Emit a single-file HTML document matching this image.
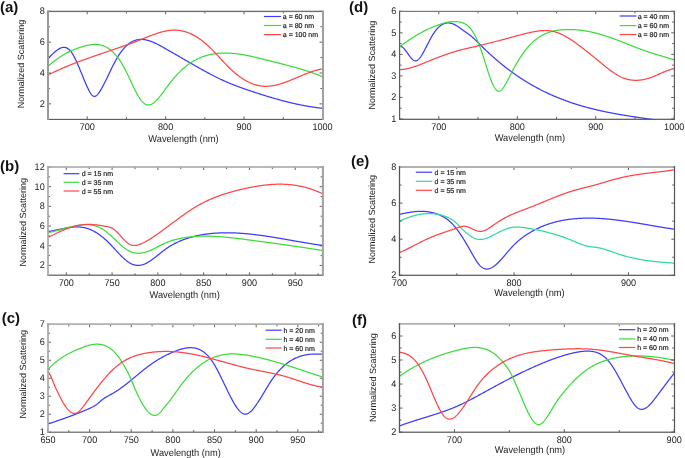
<!DOCTYPE html><html><head><meta charset="utf-8"><style>html,body{margin:0;padding:0;background:#fff;}svg{display:block;}text{font-family:"Liberation Sans", sans-serif;text-rendering:geometricPrecision;}</style></head><body>
<svg width="685" height="458" viewBox="0 0 685 458" style="will-change:transform">
<rect width="685" height="458" fill="#fff"/>
<g><clipPath id="ca"><rect x="48.00" y="10.30" width="274.50" height="109.50"/></clipPath><path d="M48.00 58.42 48.50 57.95 49.00 57.47 49.50 56.98 50.00 56.50 50.50 56.01 51.00 55.52 51.50 55.04 52.00 54.56 52.50 54.08 53.00 53.61 53.50 53.14 54.00 52.68 54.50 52.24 55.00 51.80 55.50 51.38 56.00 50.97 56.50 50.57 57.00 50.19 57.50 49.83 58.00 49.49 58.50 49.17 59.00 48.87 59.50 48.59 60.00 48.34 60.50 48.11 61.00 47.91 61.50 47.74 62.00 47.60 62.50 47.49 63.00 47.41 63.50 47.37 64.00 47.36 64.50 47.39 65.00 47.45 65.50 47.56 66.00 47.70 66.50 47.89 67.00 48.12 67.50 48.39 68.00 48.71 68.50 49.08 69.00 49.50 69.50 49.96 70.00 50.48 70.50 51.05 71.00 51.67 71.50 52.35 72.00 53.08 72.50 53.86 73.00 54.68 73.50 55.55 74.00 56.46 74.50 57.41 75.00 58.40 75.50 59.42 76.00 60.47 76.50 61.55 77.00 62.65 77.50 63.78 78.00 64.93 78.50 66.10 79.00 67.29 79.50 68.48 80.00 69.69 80.50 70.91 81.00 72.13 81.50 73.36 82.00 74.58 82.50 75.81 83.00 77.03 83.50 78.25 84.00 79.46 84.50 80.66 85.00 81.85 85.50 83.02 86.00 84.18 86.50 85.32 87.00 86.43 87.50 87.52 88.00 88.58 88.50 89.60 89.00 90.58 89.50 91.50 90.00 92.37 90.50 93.17 91.00 93.89 91.50 94.54 92.00 95.11 92.50 95.58 93.00 95.96 93.50 96.23 94.00 96.39 94.50 96.43 95.00 96.36 95.50 96.18 96.00 95.91 96.50 95.54 97.00 95.10 97.50 94.58 98.00 93.99 98.50 93.35 99.00 92.66 99.50 91.93 100.00 91.16 100.50 90.36 101.00 89.53 101.50 88.67 102.00 87.78 102.50 86.87 103.00 85.93 103.50 84.98 104.00 84.01 104.50 83.02 105.00 82.02 105.50 81.02 106.00 80.00 106.50 78.97 107.00 77.94 107.50 76.91 108.00 75.87 108.50 74.82 109.00 73.78 109.50 72.74 110.00 71.70 110.50 70.66 111.00 69.63 111.50 68.60 112.00 67.59 112.50 66.58 113.00 65.58 113.50 64.60 114.00 63.63 114.50 62.67 115.00 61.73 115.50 60.81 116.00 59.90 116.50 59.02 117.00 58.16 117.50 57.32 118.00 56.50 118.50 55.70 119.00 54.92 119.50 54.16 120.00 53.42 120.50 52.71 121.00 52.01 121.50 51.33 122.00 50.68 122.50 50.04 123.00 49.43 123.50 48.83 124.00 48.26 124.50 47.70 125.00 47.17 125.50 46.65 126.00 46.16 126.50 45.69 127.00 45.23 127.50 44.80 128.00 44.38 128.50 43.98 129.00 43.61 129.50 43.24 130.00 42.90 130.50 42.58 131.00 42.27 131.50 41.98 132.00 41.71 132.50 41.45 133.00 41.21 133.50 40.99 134.00 40.78 134.50 40.59 135.00 40.41 135.50 40.25 136.00 40.11 136.50 39.97 137.00 39.86 137.50 39.76 138.00 39.67 138.50 39.59 139.00 39.53 139.50 39.48 140.00 39.44 140.50 39.42 141.00 39.41 141.50 39.41 142.00 39.42 142.50 39.45 143.00 39.49 143.50 39.53 144.00 39.59 144.50 39.66 145.00 39.74 145.50 39.83 146.00 39.93 146.50 40.03 147.00 40.15 147.50 40.28 148.00 40.41 148.50 40.56 149.00 40.71 149.50 40.87 150.00 41.04 150.50 41.21 151.00 41.40 151.50 41.58 152.00 41.78 152.50 41.98 153.00 42.19 153.50 42.41 154.00 42.63 154.50 42.85 155.00 43.08 155.50 43.32 156.00 43.56 156.50 43.81 157.00 44.05 157.50 44.31 158.00 44.56 158.50 44.82 159.00 45.09 159.50 45.35 160.00 45.62 160.50 45.89 161.00 46.17 161.50 46.44 162.00 46.72 162.50 46.99 163.00 47.27 163.50 47.55 164.00 47.83 164.50 48.11 165.00 48.39 165.50 48.68 166.00 48.96 166.50 49.24 167.00 49.52 167.50 49.81 168.00 50.09 168.50 50.37 169.00 50.66 169.50 50.94 170.00 51.23 170.50 51.51 171.00 51.80 171.50 52.09 172.00 52.37 172.50 52.66 173.00 52.95 173.50 53.23 174.00 53.52 174.50 53.81 175.00 54.10 175.50 54.39 176.00 54.67 176.50 54.96 177.00 55.25 177.50 55.54 178.00 55.83 178.50 56.12 179.00 56.41 179.50 56.70 180.00 56.99 180.50 57.28 181.00 57.57 181.50 57.86 182.00 58.15 182.50 58.44 183.00 58.73 183.50 59.02 184.00 59.31 184.50 59.59 185.00 59.88 185.50 60.17 186.00 60.46 186.50 60.75 187.00 61.04 187.50 61.33 188.00 61.62 188.50 61.91 189.00 62.20 189.50 62.49 190.00 62.77 190.50 63.06 191.00 63.35 191.50 63.64 192.00 63.92 192.50 64.21 193.00 64.50 193.50 64.78 194.00 65.07 194.50 65.36 195.00 65.64 195.50 65.93 196.00 66.21 196.50 66.49 197.00 66.78 197.50 67.06 198.00 67.35 198.50 67.63 199.00 67.91 199.50 68.19 200.00 68.47 200.50 68.75 201.00 69.03 201.50 69.31 202.00 69.59 202.50 69.87 203.00 70.15 203.50 70.42 204.00 70.70 204.50 70.97 205.00 71.25 205.50 71.52 206.00 71.80 206.50 72.07 207.00 72.34 207.50 72.61 208.00 72.88 208.50 73.15 209.00 73.41 209.50 73.68 210.00 73.94 210.50 74.21 211.00 74.47 211.50 74.73 212.00 74.99 212.50 75.25 213.00 75.51 213.50 75.77 214.00 76.02 214.50 76.28 215.00 76.53 215.50 76.78 216.00 77.03 216.50 77.28 217.00 77.53 217.50 77.77 218.00 78.01 218.50 78.26 219.00 78.50 219.50 78.74 220.00 78.98 220.50 79.21 221.00 79.45 221.50 79.68 222.00 79.91 222.50 80.14 223.00 80.37 223.50 80.59 224.00 80.82 224.50 81.04 225.00 81.26 225.50 81.48 226.00 81.70 226.50 81.92 227.00 82.13 227.50 82.35 228.00 82.56 228.50 82.77 229.00 82.98 229.50 83.19 230.00 83.39 230.50 83.60 231.00 83.80 231.50 84.01 232.00 84.21 232.50 84.41 233.00 84.61 233.50 84.80 234.00 85.00 234.50 85.20 235.00 85.39 235.50 85.58 236.00 85.78 236.50 85.97 237.00 86.16 237.50 86.34 238.00 86.53 238.50 86.72 239.00 86.90 239.50 87.09 240.00 87.27 240.50 87.46 241.00 87.64 241.50 87.82 242.00 88.00 242.50 88.18 243.00 88.35 243.50 88.53 244.00 88.71 244.50 88.88 245.00 89.06 245.50 89.23 246.00 89.41 246.50 89.58 247.00 89.75 247.50 89.92 248.00 90.10 248.50 90.27 249.00 90.44 249.50 90.60 250.00 90.77 250.50 90.94 251.00 91.11 251.50 91.28 252.00 91.44 252.50 91.61 253.00 91.77 253.50 91.94 254.00 92.10 254.50 92.27 255.00 92.43 255.50 92.59 256.00 92.76 256.50 92.92 257.00 93.08 257.50 93.25 258.00 93.41 258.50 93.57 259.00 93.73 259.50 93.89 260.00 94.05 260.50 94.21 261.00 94.37 261.50 94.52 262.00 94.68 262.50 94.84 263.00 95.00 263.50 95.15 264.00 95.31 264.50 95.46 265.00 95.62 265.50 95.77 266.00 95.93 266.50 96.08 267.00 96.23 267.50 96.39 268.00 96.54 268.50 96.69 269.00 96.84 269.50 96.99 270.00 97.14 270.50 97.29 271.00 97.43 271.50 97.58 272.00 97.73 272.50 97.88 273.00 98.02 273.50 98.17 274.00 98.31 274.50 98.45 275.00 98.60 275.50 98.74 276.00 98.88 276.50 99.02 277.00 99.16 277.50 99.30 278.00 99.44 278.50 99.58 279.00 99.72 279.50 99.86 280.00 99.99 280.50 100.13 281.00 100.26 281.50 100.40 282.00 100.53 282.50 100.66 283.00 100.80 283.50 100.93 284.00 101.06 284.50 101.19 285.00 101.32 285.50 101.44 286.00 101.57 286.50 101.70 287.00 101.82 287.50 101.95 288.00 102.07 288.50 102.20 289.00 102.32 289.50 102.44 290.00 102.56 290.50 102.68 291.00 102.80 291.50 102.92 292.00 103.04 292.50 103.15 293.00 103.27 293.50 103.38 294.00 103.50 294.50 103.61 295.00 103.72 295.50 103.83 296.00 103.94 296.50 104.05 297.00 104.16 297.50 104.27 298.00 104.38 298.50 104.48 299.00 104.59 299.50 104.69 300.00 104.79 300.50 104.89 301.00 105.00 301.50 105.10 302.00 105.19 302.50 105.29 303.00 105.39 303.50 105.48 304.00 105.58 304.50 105.67 305.00 105.77 305.50 105.86 306.00 105.95 306.50 106.04 307.00 106.13 307.50 106.21 308.00 106.30 308.50 106.39 309.00 106.47 309.50 106.55 310.00 106.64 310.50 106.72 311.00 106.80 311.50 106.88 312.00 106.95 312.50 107.03 313.00 107.10 313.50 107.18 314.00 107.25 314.50 107.32 315.00 107.40 315.50 107.46 316.00 107.53 316.50 107.60 317.00 107.67 317.50 107.73 318.00 107.80 318.50 107.86 319.00 107.92 319.50 107.98 320.00 108.04 320.50 108.10 321.00 108.15 321.50 108.21 322.00 108.26 322.50 108.31 322.80 108.35" fill="none" stroke="#3c3cff" stroke-width="1.25" stroke-linejoin="round" clip-path="url(#ca)"/><path d="M48.00 66.36 48.50 65.91 49.00 65.46 49.50 65.02 50.00 64.58 50.50 64.15 51.00 63.72 51.50 63.30 52.00 62.89 52.50 62.48 53.00 62.08 53.50 61.68 54.00 61.29 54.50 60.90 55.00 60.52 55.50 60.15 56.00 59.78 56.50 59.41 57.00 59.05 57.50 58.70 58.00 58.35 58.50 58.00 59.00 57.67 59.50 57.33 60.00 57.00 60.50 56.68 61.00 56.36 61.50 56.04 62.00 55.73 62.50 55.43 63.00 55.13 63.50 54.83 64.00 54.54 64.50 54.26 65.00 53.97 65.50 53.70 66.00 53.42 66.50 53.15 67.00 52.89 67.50 52.63 68.00 52.37 68.50 52.12 69.00 51.88 69.50 51.63 70.00 51.39 70.50 51.16 71.00 50.93 71.50 50.70 72.00 50.48 72.50 50.26 73.00 50.04 73.50 49.83 74.00 49.62 74.50 49.42 75.00 49.22 75.50 49.02 76.00 48.83 76.50 48.64 77.00 48.46 77.50 48.27 78.00 48.09 78.50 47.92 79.00 47.75 79.50 47.58 80.00 47.41 80.50 47.25 81.00 47.09 81.50 46.93 82.00 46.78 82.50 46.63 83.00 46.48 83.50 46.34 84.00 46.20 84.50 46.06 85.00 45.93 85.50 45.80 86.00 45.67 86.50 45.55 87.00 45.43 87.50 45.32 88.00 45.22 88.50 45.12 89.00 45.02 89.50 44.93 90.00 44.85 90.50 44.77 91.00 44.70 91.50 44.64 92.00 44.59 92.50 44.54 93.00 44.50 93.50 44.47 94.00 44.44 94.50 44.43 95.00 44.42 95.50 44.42 96.00 44.43 96.50 44.45 97.00 44.49 97.50 44.53 98.00 44.58 98.50 44.64 99.00 44.71 99.50 44.79 100.00 44.89 100.50 44.99 101.00 45.11 101.50 45.24 102.00 45.38 102.50 45.54 103.00 45.70 103.50 45.88 104.00 46.08 104.50 46.28 105.00 46.51 105.50 46.74 106.00 46.99 106.50 47.25 107.00 47.53 107.50 47.82 108.00 48.13 108.50 48.46 109.00 48.80 109.50 49.15 110.00 49.52 110.50 49.91 111.00 50.32 111.50 50.74 112.00 51.18 112.50 51.63 113.00 52.11 113.50 52.60 114.00 53.11 114.50 53.63 115.00 54.18 115.50 54.74 116.00 55.33 116.50 55.93 117.00 56.55 117.50 57.19 118.00 57.85 118.50 58.53 119.00 59.23 119.50 59.96 120.00 60.70 120.50 61.46 121.00 62.24 121.50 63.05 122.00 63.88 122.50 64.73 123.00 65.60 123.50 66.49 124.00 67.40 124.50 68.33 125.00 69.27 125.50 70.24 126.00 71.22 126.50 72.21 127.00 73.23 127.50 74.25 128.00 75.29 128.50 76.34 129.00 77.40 129.50 78.46 130.00 79.54 130.50 80.62 131.00 81.69 131.50 82.77 132.00 83.85 132.50 84.91 133.00 85.97 133.50 87.02 134.00 88.06 134.50 89.08 135.00 90.08 135.50 91.07 136.00 92.03 136.50 92.97 137.00 93.89 137.50 94.78 138.00 95.64 138.50 96.48 139.00 97.28 139.50 98.05 140.00 98.79 140.50 99.49 141.00 100.16 141.50 100.79 142.00 101.37 142.50 101.92 143.00 102.42 143.50 102.88 144.00 103.29 144.50 103.65 145.00 103.97 145.50 104.24 146.00 104.46 146.50 104.64 147.00 104.78 147.50 104.87 148.00 104.92 148.50 104.93 149.00 104.91 149.50 104.84 150.00 104.73 150.50 104.59 151.00 104.41 151.50 104.20 152.00 103.95 152.50 103.67 153.00 103.36 153.50 103.02 154.00 102.65 154.50 102.25 155.00 101.82 155.50 101.37 156.00 100.89 156.50 100.39 157.00 99.87 157.50 99.32 158.00 98.76 158.50 98.18 159.00 97.59 159.50 96.97 160.00 96.35 160.50 95.71 161.00 95.06 161.50 94.40 162.00 93.73 162.50 93.06 163.00 92.38 163.50 91.69 164.00 91.00 164.50 90.31 165.00 89.61 165.50 88.92 166.00 88.23 166.50 87.54 167.00 86.86 167.50 86.18 168.00 85.51 168.50 84.84 169.00 84.18 169.50 83.53 170.00 82.89 170.50 82.26 171.00 81.63 171.50 81.01 172.00 80.39 172.50 79.78 173.00 79.19 173.50 78.59 174.00 78.01 174.50 77.43 175.00 76.86 175.50 76.30 176.00 75.74 176.50 75.20 177.00 74.66 177.50 74.13 178.00 73.60 178.50 73.08 179.00 72.57 179.50 72.07 180.00 71.58 180.50 71.09 181.00 70.61 181.50 70.14 182.00 69.68 182.50 69.22 183.00 68.78 183.50 68.34 184.00 67.91 184.50 67.48 185.00 67.07 185.50 66.66 186.00 66.26 186.50 65.86 187.00 65.48 187.50 65.10 188.00 64.72 188.50 64.36 189.00 64.00 189.50 63.65 190.00 63.31 190.50 62.97 191.00 62.64 191.50 62.32 192.00 62.00 192.50 61.69 193.00 61.39 193.50 61.10 194.00 60.81 194.50 60.52 195.00 60.25 195.50 59.98 196.00 59.71 196.50 59.45 197.00 59.20 197.50 58.96 198.00 58.72 198.50 58.48 199.00 58.26 199.50 58.03 200.00 57.82 200.50 57.61 201.00 57.40 201.50 57.20 202.00 57.01 202.50 56.82 203.00 56.64 203.50 56.46 204.00 56.29 204.50 56.12 205.00 55.96 205.50 55.80 206.00 55.65 206.50 55.50 207.00 55.36 207.50 55.22 208.00 55.09 208.50 54.96 209.00 54.84 209.50 54.72 210.00 54.61 210.50 54.50 211.00 54.39 211.50 54.29 212.00 54.19 212.50 54.10 213.00 54.01 213.50 53.93 214.00 53.85 214.50 53.77 215.00 53.70 215.50 53.63 216.00 53.57 216.50 53.50 217.00 53.45 217.50 53.39 218.00 53.34 218.50 53.30 219.00 53.26 219.50 53.22 220.00 53.18 220.50 53.15 221.00 53.12 221.50 53.10 222.00 53.07 222.50 53.06 223.00 53.04 223.50 53.03 224.00 53.02 224.50 53.01 225.00 53.01 225.50 53.01 226.00 53.02 226.50 53.03 227.00 53.04 227.50 53.05 228.00 53.06 228.50 53.08 229.00 53.11 229.50 53.13 230.00 53.16 230.50 53.19 231.00 53.22 231.50 53.26 232.00 53.29 232.50 53.33 233.00 53.38 233.50 53.42 234.00 53.47 234.50 53.52 235.00 53.58 235.50 53.63 236.00 53.69 236.50 53.75 237.00 53.81 237.50 53.87 238.00 53.94 238.50 54.01 239.00 54.08 239.50 54.15 240.00 54.23 240.50 54.31 241.00 54.38 241.50 54.47 242.00 54.55 242.50 54.63 243.00 54.72 243.50 54.81 244.00 54.90 244.50 54.99 245.00 55.08 245.50 55.17 246.00 55.27 246.50 55.37 247.00 55.47 247.50 55.57 248.00 55.67 248.50 55.77 249.00 55.88 249.50 55.98 250.00 56.09 250.50 56.20 251.00 56.31 251.50 56.42 252.00 56.53 252.50 56.64 253.00 56.76 253.50 56.87 254.00 56.99 254.50 57.11 255.00 57.22 255.50 57.34 256.00 57.46 256.50 57.58 257.00 57.70 257.50 57.82 258.00 57.94 258.50 58.07 259.00 58.19 259.50 58.31 260.00 58.44 260.50 58.56 261.00 58.69 261.50 58.81 262.00 58.94 262.50 59.07 263.00 59.19 263.50 59.32 264.00 59.44 264.50 59.57 265.00 59.70 265.50 59.83 266.00 59.95 266.50 60.08 267.00 60.21 267.50 60.33 268.00 60.46 268.50 60.59 269.00 60.71 269.50 60.84 270.00 60.96 270.50 61.09 271.00 61.22 271.50 61.34 272.00 61.47 272.50 61.59 273.00 61.72 273.50 61.84 274.00 61.97 274.50 62.09 275.00 62.21 275.50 62.34 276.00 62.46 276.50 62.59 277.00 62.71 277.50 62.84 278.00 62.96 278.50 63.09 279.00 63.21 279.50 63.34 280.00 63.46 280.50 63.59 281.00 63.71 281.50 63.84 282.00 63.96 282.50 64.09 283.00 64.22 283.50 64.34 284.00 64.47 284.50 64.60 285.00 64.72 285.50 64.85 286.00 64.98 286.50 65.11 287.00 65.24 287.50 65.37 288.00 65.50 288.50 65.63 289.00 65.76 289.50 65.89 290.00 66.02 290.50 66.16 291.00 66.29 291.50 66.42 292.00 66.56 292.50 66.69 293.00 66.83 293.50 66.97 294.00 67.10 294.50 67.24 295.00 67.38 295.50 67.52 296.00 67.66 296.50 67.80 297.00 67.94 297.50 68.09 298.00 68.23 298.50 68.38 299.00 68.52 299.50 68.67 300.00 68.82 300.50 68.96 301.00 69.11 301.50 69.26 302.00 69.42 302.50 69.57 303.00 69.72 303.50 69.88 304.00 70.03 304.50 70.19 305.00 70.35 305.50 70.51 306.00 70.67 306.50 70.83 307.00 70.99 307.50 71.16 308.00 71.32 308.50 71.49 309.00 71.66 309.50 71.82 310.00 72.00 310.50 72.17 311.00 72.34 311.50 72.52 312.00 72.69 312.50 72.87 313.00 73.05 313.50 73.23 314.00 73.41 314.50 73.60 315.00 73.78 315.50 73.97 316.00 74.16 316.50 74.35 317.00 74.54 317.50 74.73 318.00 74.93 318.50 75.12 319.00 75.32 319.50 75.52 320.00 75.72 320.50 75.93 321.00 76.13 321.50 76.34 322.00 76.55 322.50 76.76 322.80 76.89" fill="none" stroke="#3ddc3d" stroke-width="1.25" stroke-linejoin="round" clip-path="url(#ca)"/><path d="M48.00 74.99 48.50 74.74 49.00 74.49 49.50 74.24 50.00 73.99 50.50 73.74 51.00 73.49 51.50 73.25 52.00 73.01 52.50 72.76 53.00 72.52 53.50 72.28 54.00 72.05 54.50 71.81 55.00 71.57 55.50 71.34 56.00 71.11 56.50 70.88 57.00 70.65 57.50 70.42 58.00 70.19 58.50 69.96 59.00 69.74 59.50 69.51 60.00 69.29 60.50 69.07 61.00 68.85 61.50 68.63 62.00 68.41 62.50 68.19 63.00 67.98 63.50 67.76 64.00 67.55 64.50 67.33 65.00 67.12 65.50 66.91 66.00 66.70 66.50 66.49 67.00 66.28 67.50 66.08 68.00 65.87 68.50 65.67 69.00 65.46 69.50 65.26 70.00 65.06 70.50 64.86 71.00 64.65 71.50 64.46 72.00 64.26 72.50 64.06 73.00 63.86 73.50 63.67 74.00 63.47 74.50 63.28 75.00 63.08 75.50 62.89 76.00 62.70 76.50 62.51 77.00 62.31 77.50 62.12 78.00 61.94 78.50 61.75 79.00 61.56 79.50 61.37 80.00 61.18 80.50 61.00 81.00 60.81 81.50 60.63 82.00 60.45 82.50 60.26 83.00 60.08 83.50 59.90 84.00 59.72 84.50 59.53 85.00 59.35 85.50 59.17 86.00 58.99 86.50 58.82 87.00 58.64 87.50 58.46 88.00 58.28 88.50 58.10 89.00 57.93 89.50 57.75 90.00 57.58 90.50 57.40 91.00 57.22 91.50 57.05 92.00 56.88 92.50 56.70 93.00 56.53 93.50 56.35 94.00 56.18 94.50 56.01 95.00 55.84 95.50 55.66 96.00 55.49 96.50 55.32 97.00 55.15 97.50 54.98 98.00 54.81 98.50 54.64 99.00 54.47 99.50 54.30 100.00 54.13 100.50 53.96 101.00 53.79 101.50 53.62 102.00 53.45 102.50 53.28 103.00 53.11 103.50 52.94 104.00 52.77 104.50 52.60 105.00 52.43 105.50 52.26 106.00 52.09 106.50 51.92 107.00 51.75 107.50 51.59 108.00 51.42 108.50 51.25 109.00 51.08 109.50 50.91 110.00 50.74 110.50 50.57 111.00 50.40 111.50 50.23 112.00 50.06 112.50 49.89 113.00 49.72 113.50 49.55 114.00 49.38 114.50 49.21 115.00 49.04 115.50 48.87 116.00 48.69 116.50 48.52 117.00 48.35 117.50 48.18 118.00 48.01 118.50 47.83 119.00 47.66 119.50 47.49 120.00 47.31 120.50 47.14 121.00 46.96 121.50 46.79 122.00 46.61 122.50 46.44 123.00 46.26 123.50 46.08 124.00 45.91 124.50 45.73 125.00 45.55 125.50 45.37 126.00 45.19 126.50 45.02 127.00 44.84 127.50 44.65 128.00 44.47 128.50 44.29 129.00 44.11 129.50 43.93 130.00 43.74 130.50 43.56 131.00 43.38 131.50 43.19 132.00 43.01 132.50 42.82 133.00 42.63 133.50 42.44 134.00 42.26 134.50 42.07 135.00 41.88 135.50 41.69 136.00 41.50 136.50 41.30 137.00 41.11 137.50 40.92 138.00 40.72 138.50 40.53 139.00 40.33 139.50 40.13 140.00 39.94 140.50 39.74 141.00 39.54 141.50 39.34 142.00 39.14 142.50 38.94 143.00 38.73 143.50 38.53 144.00 38.33 144.50 38.13 145.00 37.93 145.50 37.72 146.00 37.52 146.50 37.32 147.00 37.12 147.50 36.92 148.00 36.72 148.50 36.52 149.00 36.32 149.50 36.12 150.00 35.93 150.50 35.73 151.00 35.54 151.50 35.35 152.00 35.16 152.50 34.97 153.00 34.78 153.50 34.60 154.00 34.42 154.50 34.24 155.00 34.06 155.50 33.88 156.00 33.71 156.50 33.54 157.00 33.37 157.50 33.21 158.00 33.05 158.50 32.89 159.00 32.73 159.50 32.58 160.00 32.43 160.50 32.29 161.00 32.15 161.50 32.01 162.00 31.88 162.50 31.75 163.00 31.62 163.50 31.50 164.00 31.39 164.50 31.27 165.00 31.17 165.50 31.06 166.00 30.97 166.50 30.87 167.00 30.79 167.50 30.70 168.00 30.63 168.50 30.55 169.00 30.49 169.50 30.43 170.00 30.37 170.50 30.32 171.00 30.28 171.50 30.24 172.00 30.21 172.50 30.19 173.00 30.17 173.50 30.16 174.00 30.15 174.50 30.15 175.00 30.16 175.50 30.17 176.00 30.19 176.50 30.21 177.00 30.25 177.50 30.28 178.00 30.33 178.50 30.38 179.00 30.44 179.50 30.50 180.00 30.57 180.50 30.65 181.00 30.74 181.50 30.83 182.00 30.93 182.50 31.03 183.00 31.14 183.50 31.26 184.00 31.38 184.50 31.52 185.00 31.65 185.50 31.80 186.00 31.95 186.50 32.11 187.00 32.28 187.50 32.45 188.00 32.63 188.50 32.82 189.00 33.01 189.50 33.21 190.00 33.42 190.50 33.64 191.00 33.86 191.50 34.09 192.00 34.33 192.50 34.57 193.00 34.82 193.50 35.08 194.00 35.35 194.50 35.62 195.00 35.91 195.50 36.19 196.00 36.49 196.50 36.79 197.00 37.11 197.50 37.42 198.00 37.75 198.50 38.09 199.00 38.43 199.50 38.78 200.00 39.13 200.50 39.50 201.00 39.87 201.50 40.25 202.00 40.64 202.50 41.03 203.00 41.43 203.50 41.84 204.00 42.25 204.50 42.67 205.00 43.10 205.50 43.54 206.00 43.97 206.50 44.42 207.00 44.87 207.50 45.33 208.00 45.79 208.50 46.26 209.00 46.73 209.50 47.20 210.00 47.69 210.50 48.17 211.00 48.66 211.50 49.16 212.00 49.66 212.50 50.16 213.00 50.67 213.50 51.18 214.00 51.69 214.50 52.21 215.00 52.73 215.50 53.25 216.00 53.78 216.50 54.31 217.00 54.84 217.50 55.37 218.00 55.91 218.50 56.44 219.00 56.98 219.50 57.52 220.00 58.05 220.50 58.59 221.00 59.13 221.50 59.67 222.00 60.21 222.50 60.74 223.00 61.28 223.50 61.81 224.00 62.34 224.50 62.87 225.00 63.40 225.50 63.92 226.00 64.44 226.50 64.96 227.00 65.48 227.50 65.99 228.00 66.49 228.50 66.99 229.00 67.49 229.50 67.98 230.00 68.47 230.50 68.95 231.00 69.42 231.50 69.89 232.00 70.36 232.50 70.81 233.00 71.26 233.50 71.71 234.00 72.14 234.50 72.58 235.00 73.00 235.50 73.42 236.00 73.83 236.50 74.24 237.00 74.64 237.50 75.03 238.00 75.42 238.50 75.80 239.00 76.18 239.50 76.55 240.00 76.91 240.50 77.26 241.00 77.61 241.50 77.96 242.00 78.29 242.50 78.62 243.00 78.94 243.50 79.26 244.00 79.57 244.50 79.87 245.00 80.17 245.50 80.46 246.00 80.74 246.50 81.02 247.00 81.29 247.50 81.55 248.00 81.81 248.50 82.06 249.00 82.30 249.50 82.53 250.00 82.76 250.50 82.98 251.00 83.20 251.50 83.40 252.00 83.60 252.50 83.80 253.00 83.98 253.50 84.16 254.00 84.34 254.50 84.50 255.00 84.66 255.50 84.81 256.00 84.95 256.50 85.09 257.00 85.22 257.50 85.34 258.00 85.45 258.50 85.56 259.00 85.66 259.50 85.75 260.00 85.84 260.50 85.92 261.00 85.99 261.50 86.05 262.00 86.11 262.50 86.15 263.00 86.20 263.50 86.23 264.00 86.26 264.50 86.27 265.00 86.29 265.50 86.29 266.00 86.29 266.50 86.29 267.00 86.27 267.50 86.25 268.00 86.23 268.50 86.19 269.00 86.15 269.50 86.11 270.00 86.06 270.50 86.00 271.00 85.94 271.50 85.87 272.00 85.80 272.50 85.72 273.00 85.64 273.50 85.55 274.00 85.46 274.50 85.36 275.00 85.26 275.50 85.15 276.00 85.04 276.50 84.92 277.00 84.80 277.50 84.67 278.00 84.54 278.50 84.41 279.00 84.27 279.50 84.13 280.00 83.99 280.50 83.84 281.00 83.68 281.50 83.53 282.00 83.37 282.50 83.21 283.00 83.04 283.50 82.87 284.00 82.70 284.50 82.52 285.00 82.35 285.50 82.17 286.00 81.99 286.50 81.80 287.00 81.61 287.50 81.42 288.00 81.23 288.50 81.04 289.00 80.84 289.50 80.65 290.00 80.45 290.50 80.25 291.00 80.04 291.50 79.84 292.00 79.64 292.50 79.43 293.00 79.22 293.50 79.01 294.00 78.81 294.50 78.60 295.00 78.39 295.50 78.18 296.00 77.96 296.50 77.75 297.00 77.54 297.50 77.33 298.00 77.12 298.50 76.90 299.00 76.69 299.50 76.48 300.00 76.27 300.50 76.06 301.00 75.85 301.50 75.64 302.00 75.43 302.50 75.22 303.00 75.02 303.50 74.81 304.00 74.61 304.50 74.40 305.00 74.20 305.50 74.00 306.00 73.80 306.50 73.61 307.00 73.41 307.50 73.22 308.00 73.03 308.50 72.84 309.00 72.65 309.50 72.47 310.00 72.28 310.50 72.10 311.00 71.93 311.50 71.75 312.00 71.58 312.50 71.41 313.00 71.25 313.50 71.09 314.00 70.93 314.50 70.77 315.00 70.62 315.50 70.47 316.00 70.33 316.50 70.19 317.00 70.05 317.50 69.92 318.00 69.79 318.50 69.66 319.00 69.54 319.50 69.43 320.00 69.32 320.50 69.21 321.00 69.11 321.50 69.01 322.00 68.92 322.50 68.83 322.80 68.78" fill="none" stroke="#ff4646" stroke-width="1.25" stroke-linejoin="round" clip-path="url(#ca)"/><line x1="87.21" y1="119.30" x2="87.21" y2="116.30" stroke="#3a3a3a" stroke-width="0.8"/><line x1="87.21" y1="11.30" x2="87.21" y2="14.30" stroke="#3a3a3a" stroke-width="0.8"/><line x1="165.64" y1="119.30" x2="165.64" y2="116.30" stroke="#3a3a3a" stroke-width="0.8"/><line x1="165.64" y1="11.30" x2="165.64" y2="14.30" stroke="#3a3a3a" stroke-width="0.8"/><line x1="244.07" y1="119.30" x2="244.07" y2="116.30" stroke="#3a3a3a" stroke-width="0.8"/><line x1="244.07" y1="11.30" x2="244.07" y2="14.30" stroke="#3a3a3a" stroke-width="0.8"/><line x1="322.50" y1="119.30" x2="322.50" y2="116.30" stroke="#3a3a3a" stroke-width="0.8"/><line x1="322.50" y1="11.30" x2="322.50" y2="14.30" stroke="#3a3a3a" stroke-width="0.8"/><line x1="126.43" y1="119.30" x2="126.43" y2="117.20" stroke="#3a3a3a" stroke-width="0.8"/><line x1="126.43" y1="11.30" x2="126.43" y2="13.40" stroke="#3a3a3a" stroke-width="0.8"/><line x1="204.86" y1="119.30" x2="204.86" y2="117.20" stroke="#3a3a3a" stroke-width="0.8"/><line x1="204.86" y1="11.30" x2="204.86" y2="13.40" stroke="#3a3a3a" stroke-width="0.8"/><line x1="283.29" y1="119.30" x2="283.29" y2="117.20" stroke="#3a3a3a" stroke-width="0.8"/><line x1="283.29" y1="11.30" x2="283.29" y2="13.40" stroke="#3a3a3a" stroke-width="0.8"/><line x1="48.00" y1="103.87" x2="51.00" y2="103.87" stroke="#3a3a3a" stroke-width="0.8"/><line x1="322.50" y1="103.87" x2="319.50" y2="103.87" stroke="#3a3a3a" stroke-width="0.8"/><line x1="48.00" y1="73.01" x2="51.00" y2="73.01" stroke="#3a3a3a" stroke-width="0.8"/><line x1="322.50" y1="73.01" x2="319.50" y2="73.01" stroke="#3a3a3a" stroke-width="0.8"/><line x1="48.00" y1="42.16" x2="51.00" y2="42.16" stroke="#3a3a3a" stroke-width="0.8"/><line x1="322.50" y1="42.16" x2="319.50" y2="42.16" stroke="#3a3a3a" stroke-width="0.8"/><line x1="48.00" y1="11.30" x2="51.00" y2="11.30" stroke="#3a3a3a" stroke-width="0.8"/><line x1="322.50" y1="11.30" x2="319.50" y2="11.30" stroke="#3a3a3a" stroke-width="0.8"/><line x1="48.00" y1="88.44" x2="50.10" y2="88.44" stroke="#3a3a3a" stroke-width="0.8"/><line x1="322.50" y1="88.44" x2="320.40" y2="88.44" stroke="#3a3a3a" stroke-width="0.8"/><line x1="48.00" y1="57.59" x2="50.10" y2="57.59" stroke="#3a3a3a" stroke-width="0.8"/><line x1="322.50" y1="57.59" x2="320.40" y2="57.59" stroke="#3a3a3a" stroke-width="0.8"/><line x1="48.00" y1="26.73" x2="50.10" y2="26.73" stroke="#3a3a3a" stroke-width="0.8"/><line x1="322.50" y1="26.73" x2="320.40" y2="26.73" stroke="#3a3a3a" stroke-width="0.8"/><rect x="47.00" y="10.70" width="277.00" height="1.40" fill="#707070"/><rect x="47.00" y="118.85" width="277.00" height="1.10" fill="#555"/><rect x="47.00" y="10.70" width="2.00" height="109.25" fill="#999"/><rect x="322.00" y="10.70" width="2.00" height="109.25" fill="#a0a0a0"/><text transform="translate(87.21 129.90) scale(0.947 1)" font-size="9.6" text-anchor="middle" fill="#222">700</text><text transform="translate(165.64 129.90) scale(0.947 1)" font-size="9.6" text-anchor="middle" fill="#222">800</text><text transform="translate(244.07 129.90) scale(0.947 1)" font-size="9.6" text-anchor="middle" fill="#222">900</text><text transform="translate(322.50 129.90) scale(0.947 1)" font-size="9.6" text-anchor="middle" fill="#222">1000</text><text transform="translate(44.70 106.81) scale(0.947 1)" font-size="9.6" text-anchor="end" fill="#222">2</text><text transform="translate(44.70 75.95) scale(0.947 1)" font-size="9.6" text-anchor="end" fill="#222">4</text><text transform="translate(44.70 45.09) scale(0.947 1)" font-size="9.6" text-anchor="end" fill="#222">6</text><text transform="translate(44.70 14.24) scale(0.947 1)" font-size="9.6" text-anchor="end" fill="#222">8</text><text transform="translate(148.30 142.20) scale(0.94 1)" font-size="9.9" fill="#222">Wavelength (nm)</text><text transform="translate(23.90 108.20) rotate(-90)" font-size="9" fill="#222">Normalized Scattering</text><text x="0.00" y="11.80" font-size="15" font-weight="bold" fill="#111">(a)</text><line x1="264.00" y1="16.50" x2="281.00" y2="16.50" stroke="#3c3cff" stroke-width="1.2"/><text x="282.80" y="19.00" font-size="7" fill="#222" stroke="#222" stroke-width="0.2">a = 60 nm</text><line x1="264.00" y1="25.50" x2="281.00" y2="25.50" stroke="#3ddc3d" stroke-width="1.2"/><text x="282.80" y="28.00" font-size="7" fill="#222" stroke="#222" stroke-width="0.2">a = 80 nm</text><line x1="264.00" y1="34.60" x2="281.00" y2="34.60" stroke="#ff4646" stroke-width="1.2"/><text x="282.80" y="37.10" font-size="7" fill="#222" stroke="#222" stroke-width="0.2">a = 100 nm</text></g>
<g><clipPath id="cd"><rect x="399.60" y="10.30" width="274.60" height="109.20"/></clipPath><path d="M399.00 46.67 399.50 46.47 400.00 46.37 400.50 46.37 401.00 46.46 401.50 46.64 402.00 46.90 402.50 47.22 403.00 47.62 403.50 48.07 404.00 48.58 404.50 49.14 405.00 49.74 405.50 50.37 406.00 51.03 406.50 51.72 407.00 52.42 407.50 53.13 408.00 53.85 408.50 54.57 409.00 55.27 409.50 55.97 410.00 56.64 410.50 57.28 411.00 57.89 411.50 58.47 412.00 58.99 412.50 59.47 413.00 59.89 413.50 60.24 414.00 60.52 414.50 60.73 415.00 60.85 415.50 60.89 416.00 60.83 416.50 60.69 417.00 60.47 417.50 60.17 418.00 59.81 418.50 59.37 419.00 58.86 419.50 58.30 420.00 57.68 420.50 57.01 421.00 56.29 421.50 55.53 422.00 54.73 422.50 53.89 423.00 53.02 423.50 52.12 424.00 51.20 424.50 50.26 425.00 49.30 425.50 48.33 426.00 47.36 426.50 46.38 427.00 45.40 427.50 44.42 428.00 43.45 428.50 42.48 429.00 41.51 429.50 40.56 430.00 39.62 430.50 38.70 431.00 37.79 431.50 36.90 432.00 36.03 432.50 35.19 433.00 34.37 433.50 33.58 434.00 32.82 434.50 32.09 435.00 31.40 435.50 30.73 436.00 30.09 436.50 29.48 437.00 28.90 437.50 28.35 438.00 27.83 438.50 27.34 439.00 26.88 439.50 26.44 440.00 26.03 440.50 25.65 441.00 25.29 441.50 24.96 442.00 24.66 442.50 24.38 443.00 24.13 443.50 23.90 444.00 23.70 444.50 23.52 445.00 23.36 445.50 23.23 446.00 23.13 446.50 23.04 447.00 22.98 447.50 22.94 448.00 22.93 448.50 22.94 449.00 22.96 449.50 23.01 450.00 23.08 450.50 23.17 451.00 23.29 451.50 23.42 452.00 23.57 452.50 23.74 453.00 23.93 453.50 24.14 454.00 24.36 454.50 24.60 455.00 24.86 455.50 25.13 456.00 25.41 456.50 25.70 457.00 26.01 457.50 26.33 458.00 26.65 458.50 26.99 459.00 27.33 459.50 27.68 460.00 28.03 460.50 28.39 461.00 28.75 461.50 29.11 462.00 29.47 462.50 29.84 463.00 30.20 463.50 30.56 464.00 30.92 464.50 31.27 465.00 31.62 465.50 31.97 466.00 32.31 466.50 32.66 467.00 33.00 467.50 33.35 468.00 33.71 468.50 34.07 469.00 34.44 469.50 34.82 470.00 35.21 470.50 35.61 471.00 36.02 471.50 36.44 472.00 36.87 472.50 37.31 473.00 37.75 473.50 38.20 474.00 38.66 474.50 39.13 475.00 39.60 475.50 40.07 476.00 40.55 476.50 41.03 477.00 41.52 477.50 42.01 478.00 42.50 478.50 43.00 479.00 43.50 479.50 43.99 480.00 44.49 480.50 44.99 481.00 45.49 481.50 45.99 482.00 46.49 482.50 46.99 483.00 47.48 483.50 47.97 484.00 48.46 484.50 48.95 485.00 49.43 485.50 49.91 486.00 50.39 486.50 50.87 487.00 51.34 487.50 51.82 488.00 52.29 488.50 52.75 489.00 53.22 489.50 53.68 490.00 54.14 490.50 54.60 491.00 55.06 491.50 55.51 492.00 55.96 492.50 56.41 493.00 56.85 493.50 57.30 494.00 57.74 494.50 58.18 495.00 58.62 495.50 59.05 496.00 59.48 496.50 59.91 497.00 60.34 497.50 60.77 498.00 61.19 498.50 61.61 499.00 62.03 499.50 62.45 500.00 62.86 500.50 63.27 501.00 63.68 501.50 64.09 502.00 64.50 502.50 64.90 503.00 65.30 503.50 65.70 504.00 66.10 504.50 66.49 505.00 66.89 505.50 67.28 506.00 67.66 506.50 68.05 507.00 68.43 507.50 68.82 508.00 69.20 508.50 69.57 509.00 69.95 509.50 70.32 510.00 70.69 510.50 71.06 511.00 71.43 511.50 71.80 512.00 72.16 512.50 72.52 513.00 72.88 513.50 73.24 514.00 73.59 514.50 73.95 515.00 74.30 515.50 74.65 516.00 74.99 516.50 75.34 517.00 75.68 517.50 76.02 518.00 76.36 518.50 76.70 519.00 77.03 519.50 77.37 520.00 77.70 520.50 78.03 521.00 78.35 521.50 78.68 522.00 79.00 522.50 79.32 523.00 79.64 523.50 79.96 524.00 80.28 524.50 80.59 525.00 80.90 525.50 81.21 526.00 81.52 526.50 81.83 527.00 82.13 527.50 82.44 528.00 82.74 528.50 83.04 529.00 83.34 529.50 83.63 530.00 83.93 530.50 84.22 531.00 84.51 531.50 84.80 532.00 85.08 532.50 85.37 533.00 85.65 533.50 85.93 534.00 86.21 534.50 86.49 535.00 86.77 535.50 87.04 536.00 87.31 536.50 87.58 537.00 87.85 537.50 88.12 538.00 88.39 538.50 88.65 539.00 88.91 539.50 89.18 540.00 89.44 540.50 89.69 541.00 89.95 541.50 90.20 542.00 90.46 542.50 90.71 543.00 90.96 543.50 91.20 544.00 91.45 544.50 91.70 545.00 91.94 545.50 92.18 546.00 92.42 546.50 92.66 547.00 92.90 547.50 93.13 548.00 93.36 548.50 93.60 549.00 93.83 549.50 94.06 550.00 94.28 550.50 94.51 551.00 94.73 551.50 94.96 552.00 95.18 552.50 95.40 553.00 95.62 553.50 95.84 554.00 96.05 554.50 96.27 555.00 96.48 555.50 96.69 556.00 96.90 556.50 97.11 557.00 97.31 557.50 97.52 558.00 97.72 558.50 97.93 559.00 98.13 559.50 98.33 560.00 98.53 560.50 98.73 561.00 98.92 561.50 99.12 562.00 99.31 562.50 99.50 563.00 99.69 563.50 99.88 564.00 100.07 564.50 100.26 565.00 100.44 565.50 100.62 566.00 100.81 566.50 100.99 567.00 101.17 567.50 101.35 568.00 101.53 568.50 101.70 569.00 101.88 569.50 102.05 570.00 102.22 570.50 102.39 571.00 102.56 571.50 102.73 572.00 102.90 572.50 103.07 573.00 103.23 573.50 103.40 574.00 103.56 574.50 103.72 575.00 103.88 575.50 104.04 576.00 104.20 576.50 104.36 577.00 104.51 577.50 104.67 578.00 104.82 578.50 104.98 579.00 105.13 579.50 105.28 580.00 105.43 580.50 105.57 581.00 105.72 581.50 105.87 582.00 106.01 582.50 106.16 583.00 106.30 583.50 106.44 584.00 106.58 584.50 106.72 585.00 106.86 585.50 107.00 586.00 107.14 586.50 107.27 587.00 107.41 587.50 107.54 588.00 107.68 588.50 107.81 589.00 107.94 589.50 108.07 590.00 108.20 590.50 108.33 591.00 108.45 591.50 108.58 592.00 108.71 592.50 108.83 593.00 108.95 593.50 109.08 594.00 109.20 594.50 109.32 595.00 109.44 595.50 109.56 596.00 109.68 596.50 109.80 597.00 109.91 597.50 110.03 598.00 110.14 598.50 110.26 599.00 110.37 599.50 110.48 600.00 110.60 600.50 110.71 601.00 110.82 601.50 110.93 602.00 111.04 602.50 111.15 603.00 111.25 603.50 111.36 604.00 111.47 604.50 111.57 605.00 111.68 605.50 111.78 606.00 111.88 606.50 111.99 607.00 112.09 607.50 112.19 608.00 112.29 608.50 112.39 609.00 112.49 609.50 112.59 610.00 112.68 610.50 112.78 611.00 112.88 611.50 112.97 612.00 113.07 612.50 113.16 613.00 113.26 613.50 113.35 614.00 113.45 614.50 113.54 615.00 113.63 615.50 113.72 616.00 113.81 616.50 113.90 617.00 113.99 617.50 114.08 618.00 114.17 618.50 114.26 619.00 114.35 619.50 114.43 620.00 114.52 620.50 114.61 621.00 114.69 621.50 114.78 622.00 114.86 622.50 114.95 623.00 115.03 623.50 115.12 624.00 115.20 624.50 115.28 625.00 115.36 625.50 115.45 626.00 115.53 626.50 115.61 627.00 115.69 627.50 115.77 628.00 115.85 628.50 115.93 629.00 116.01 629.50 116.09 630.00 116.17 630.50 116.25 631.00 116.32 631.50 116.40 632.00 116.48 632.50 116.56 633.00 116.63 633.50 116.71 634.00 116.79 634.50 116.86 635.00 116.94 635.50 117.01 636.00 117.09 636.50 117.16 637.00 117.24 637.50 117.31 638.00 117.39 638.50 117.46 639.00 117.54 639.50 117.61 640.00 117.68 640.50 117.76 641.00 117.83 641.50 117.90 642.00 117.98 642.50 118.05 643.00 118.12 643.50 118.19 644.00 118.27 644.50 118.34 645.00 118.41 645.50 118.48 646.00 118.56 646.50 118.63 647.00 118.70 647.50 118.77 648.00 118.84 648.50 118.91 649.00 118.99 649.50 119.06 650.00 119.13 650.50 119.20 651.00 119.27 651.50 119.34 652.00 119.42 652.50 119.49 653.00 119.56 653.50 119.63 654.00 119.70 654.50 119.77 655.00 119.85 655.50 119.92 656.00 119.99 656.50 120.06 657.00 120.13 657.50 120.20 658.00 120.28 658.50 120.35 659.00 120.42 659.50 120.49 660.00 120.57" fill="none" stroke="#3c3cff" stroke-width="1.25" stroke-linejoin="round" clip-path="url(#cd)"/><path d="M399.00 47.43 399.50 47.02 400.00 46.63 400.50 46.23 401.00 45.84 401.50 45.46 402.00 45.07 402.50 44.69 403.00 44.31 403.50 43.94 404.00 43.56 404.50 43.20 405.00 42.83 405.50 42.47 406.00 42.11 406.50 41.75 407.00 41.40 407.50 41.05 408.00 40.70 408.50 40.36 409.00 40.02 409.50 39.68 410.00 39.34 410.50 39.01 411.00 38.68 411.50 38.36 412.00 38.03 412.50 37.71 413.00 37.40 413.50 37.08 414.00 36.77 414.50 36.46 415.00 36.16 415.50 35.85 416.00 35.55 416.50 35.26 417.00 34.96 417.50 34.67 418.00 34.38 418.50 34.10 419.00 33.82 419.50 33.54 420.00 33.26 420.50 32.98 421.00 32.71 421.50 32.44 422.00 32.18 422.50 31.91 423.00 31.65 423.50 31.39 424.00 31.14 424.50 30.89 425.00 30.64 425.50 30.39 426.00 30.15 426.50 29.90 427.00 29.66 427.50 29.43 428.00 29.19 428.50 28.96 429.00 28.73 429.50 28.51 430.00 28.28 430.50 28.06 431.00 27.84 431.50 27.63 432.00 27.41 432.50 27.20 433.00 26.99 433.50 26.79 434.00 26.58 434.50 26.38 435.00 26.18 435.50 25.99 436.00 25.79 436.50 25.60 437.00 25.41 437.50 25.22 438.00 25.04 438.50 24.86 439.00 24.68 439.50 24.50 440.00 24.33 440.50 24.16 441.00 24.00 441.50 23.84 442.00 23.68 442.50 23.52 443.00 23.38 443.50 23.23 444.00 23.09 444.50 22.95 445.00 22.82 445.50 22.70 446.00 22.58 446.50 22.46 447.00 22.36 447.50 22.25 448.00 22.16 448.50 22.07 449.00 21.98 449.50 21.90 450.00 21.83 450.50 21.77 451.00 21.71 451.50 21.66 452.00 21.62 452.50 21.59 453.00 21.56 453.50 21.54 454.00 21.53 454.50 21.53 455.00 21.54 455.50 21.55 456.00 21.58 456.50 21.61 457.00 21.65 457.50 21.70 458.00 21.76 458.50 21.84 459.00 21.92 459.50 22.01 460.00 22.11 460.50 22.22 461.00 22.35 461.50 22.48 462.00 22.63 462.50 22.80 463.00 22.98 463.50 23.18 464.00 23.40 464.50 23.64 465.00 23.91 465.50 24.19 466.00 24.50 466.50 24.84 467.00 25.20 467.50 25.59 468.00 26.01 468.50 26.46 469.00 26.94 469.50 27.45 470.00 28.00 470.50 28.59 471.00 29.21 471.50 29.87 472.00 30.57 472.50 31.30 473.00 32.07 473.50 32.89 474.00 33.74 474.50 34.62 475.00 35.55 475.50 36.52 476.00 37.53 476.50 38.57 477.00 39.66 477.50 40.78 478.00 41.95 478.50 43.16 479.00 44.40 479.50 45.69 480.00 47.02 480.50 48.39 481.00 49.79 481.50 51.24 482.00 52.71 482.50 54.22 483.00 55.75 483.50 57.31 484.00 58.88 484.50 60.47 485.00 62.07 485.50 63.67 486.00 65.27 486.50 66.86 487.00 68.44 487.50 70.01 488.00 71.55 488.50 73.07 489.00 74.55 489.50 76.00 490.00 77.41 490.50 78.77 491.00 80.08 491.50 81.34 492.00 82.55 492.50 83.69 493.00 84.77 493.50 85.78 494.00 86.72 494.50 87.58 495.00 88.37 495.50 89.07 496.00 89.68 496.50 90.20 497.00 90.63 497.50 90.96 498.00 91.19 498.50 91.31 499.00 91.32 499.50 91.23 500.00 91.03 500.50 90.75 501.00 90.39 501.50 89.94 502.00 89.42 502.50 88.83 503.00 88.19 503.50 87.49 504.00 86.74 504.50 85.95 505.00 85.12 505.50 84.26 506.00 83.38 506.50 82.46 507.00 81.53 507.50 80.58 508.00 79.61 508.50 78.63 509.00 77.65 509.50 76.66 510.00 75.67 510.50 74.68 511.00 73.69 511.50 72.72 512.00 71.75 512.50 70.81 513.00 69.87 513.50 68.96 514.00 68.05 514.50 67.16 515.00 66.28 515.50 65.40 516.00 64.54 516.50 63.68 517.00 62.83 517.50 61.99 518.00 61.15 518.50 60.32 519.00 59.50 519.50 58.70 520.00 57.90 520.50 57.11 521.00 56.34 521.50 55.59 522.00 54.84 522.50 54.12 523.00 53.41 523.50 52.71 524.00 52.03 524.50 51.36 525.00 50.71 525.50 50.07 526.00 49.44 526.50 48.83 527.00 48.23 527.50 47.64 528.00 47.06 528.50 46.50 529.00 45.95 529.50 45.41 530.00 44.88 530.50 44.36 531.00 43.86 531.50 43.36 532.00 42.88 532.50 42.41 533.00 41.95 533.50 41.50 534.00 41.07 534.50 40.64 535.00 40.22 535.50 39.82 536.00 39.42 536.50 39.04 537.00 38.66 537.50 38.30 538.00 37.94 538.50 37.60 539.00 37.26 539.50 36.94 540.00 36.62 540.50 36.31 541.00 36.01 541.50 35.72 542.00 35.44 542.50 35.17 543.00 34.90 543.50 34.65 544.00 34.40 544.50 34.16 545.00 33.93 545.50 33.70 546.00 33.49 546.50 33.28 547.00 33.08 547.50 32.88 548.00 32.69 548.50 32.51 549.00 32.34 549.50 32.17 550.00 32.01 550.50 31.86 551.00 31.71 551.50 31.57 552.00 31.44 552.50 31.31 553.00 31.19 553.50 31.07 554.00 30.96 554.50 30.85 555.00 30.75 555.50 30.65 556.00 30.56 556.50 30.47 557.00 30.39 557.50 30.31 558.00 30.24 558.50 30.17 559.00 30.11 559.50 30.05 560.00 29.99 560.50 29.94 561.00 29.89 561.50 29.85 562.00 29.80 562.50 29.77 563.00 29.73 563.50 29.70 564.00 29.67 564.50 29.64 565.00 29.62 565.50 29.60 566.00 29.58 566.50 29.56 567.00 29.55 567.50 29.54 568.00 29.53 568.50 29.53 569.00 29.53 569.50 29.53 570.00 29.54 570.50 29.54 571.00 29.55 571.50 29.56 572.00 29.58 572.50 29.60 573.00 29.62 573.50 29.64 574.00 29.67 574.50 29.69 575.00 29.72 575.50 29.76 576.00 29.79 576.50 29.83 577.00 29.87 577.50 29.92 578.00 29.96 578.50 30.01 579.00 30.06 579.50 30.12 580.00 30.17 580.50 30.23 581.00 30.29 581.50 30.35 582.00 30.42 582.50 30.49 583.00 30.56 583.50 30.63 584.00 30.71 584.50 30.78 585.00 30.86 585.50 30.94 586.00 31.03 586.50 31.11 587.00 31.20 587.50 31.29 588.00 31.39 588.50 31.48 589.00 31.58 589.50 31.68 590.00 31.78 590.50 31.88 591.00 31.99 591.50 32.10 592.00 32.21 592.50 32.32 593.00 32.43 593.50 32.55 594.00 32.67 594.50 32.79 595.00 32.91 595.50 33.03 596.00 33.16 596.50 33.29 597.00 33.42 597.50 33.55 598.00 33.68 598.50 33.82 599.00 33.96 599.50 34.10 600.00 34.24 600.50 34.38 601.00 34.52 601.50 34.67 602.00 34.82 602.50 34.97 603.00 35.12 603.50 35.28 604.00 35.43 604.50 35.59 605.00 35.75 605.50 35.91 606.00 36.07 606.50 36.23 607.00 36.40 607.50 36.57 608.00 36.73 608.50 36.90 609.00 37.07 609.50 37.25 610.00 37.42 610.50 37.60 611.00 37.77 611.50 37.95 612.00 38.13 612.50 38.31 613.00 38.49 613.50 38.68 614.00 38.86 614.50 39.04 615.00 39.23 615.50 39.42 616.00 39.60 616.50 39.79 617.00 39.98 617.50 40.17 618.00 40.36 618.50 40.55 619.00 40.75 619.50 40.94 620.00 41.13 620.50 41.33 621.00 41.52 621.50 41.72 622.00 41.91 622.50 42.11 623.00 42.30 623.50 42.50 624.00 42.70 624.50 42.90 625.00 43.09 625.50 43.29 626.00 43.49 626.50 43.69 627.00 43.89 627.50 44.09 628.00 44.29 628.50 44.48 629.00 44.68 629.50 44.88 630.00 45.08 630.50 45.28 631.00 45.48 631.50 45.67 632.00 45.87 632.50 46.07 633.00 46.27 633.50 46.46 634.00 46.66 634.50 46.86 635.00 47.05 635.50 47.25 636.00 47.44 636.50 47.63 637.00 47.83 637.50 48.02 638.00 48.21 638.50 48.40 639.00 48.59 639.50 48.78 640.00 48.97 640.50 49.16 641.00 49.35 641.50 49.53 642.00 49.72 642.50 49.90 643.00 50.08 643.50 50.27 644.00 50.45 644.50 50.63 645.00 50.81 645.50 50.98 646.00 51.16 646.50 51.33 647.00 51.51 647.50 51.68 648.00 51.85 648.50 52.02 649.00 52.19 649.50 52.35 650.00 52.52 650.50 52.68 651.00 52.84 651.50 53.00 652.00 53.16 652.50 53.31 653.00 53.47 653.50 53.62 654.00 53.77 654.50 53.92 655.00 54.07 655.50 54.22 656.00 54.37 656.50 54.52 657.00 54.67 657.50 54.81 658.00 54.96 658.50 55.10 659.00 55.25 659.50 55.39 660.00 55.54 660.50 55.68 661.00 55.82 661.50 55.97 662.00 56.11 662.50 56.26 663.00 56.40 663.50 56.55 664.00 56.70 664.50 56.84 665.00 56.99 665.50 57.14 666.00 57.29 666.50 57.44 667.00 57.59 667.50 57.74 668.00 57.90 668.50 58.06 669.00 58.21 669.50 58.37 670.00 58.53 670.50 58.69 671.00 58.86 671.50 59.03 672.00 59.19 672.50 59.36 673.00 59.54 673.50 59.71 674.00 59.89 674.10 59.93" fill="none" stroke="#3ddc3d" stroke-width="1.25" stroke-linejoin="round" clip-path="url(#cd)"/><path d="M399.00 69.72 399.50 69.70 400.00 69.68 400.50 69.65 401.00 69.61 401.50 69.57 402.00 69.52 402.50 69.47 403.00 69.41 403.50 69.34 404.00 69.27 404.50 69.19 405.00 69.11 405.50 69.02 406.00 68.92 406.50 68.82 407.00 68.72 407.50 68.61 408.00 68.50 408.50 68.38 409.00 68.25 409.50 68.13 410.00 68.00 410.50 67.86 411.00 67.72 411.50 67.57 412.00 67.43 412.50 67.27 413.00 67.12 413.50 66.96 414.00 66.80 414.50 66.63 415.00 66.47 415.50 66.29 416.00 66.12 416.50 65.94 417.00 65.76 417.50 65.58 418.00 65.40 418.50 65.21 419.00 65.02 419.50 64.83 420.00 64.64 420.50 64.45 421.00 64.25 421.50 64.05 422.00 63.86 422.50 63.66 423.00 63.46 423.50 63.25 424.00 63.05 424.50 62.85 425.00 62.64 425.50 62.44 426.00 62.23 426.50 62.03 427.00 61.82 427.50 61.62 428.00 61.41 428.50 61.21 429.00 61.01 429.50 60.80 430.00 60.60 430.50 60.39 431.00 60.19 431.50 59.99 432.00 59.79 432.50 59.59 433.00 59.39 433.50 59.19 434.00 59.00 434.50 58.80 435.00 58.60 435.50 58.41 436.00 58.21 436.50 58.02 437.00 57.83 437.50 57.63 438.00 57.44 438.50 57.25 439.00 57.06 439.50 56.87 440.00 56.69 440.50 56.50 441.00 56.32 441.50 56.13 442.00 55.95 442.50 55.77 443.00 55.58 443.50 55.40 444.00 55.22 444.50 55.05 445.00 54.87 445.50 54.69 446.00 54.52 446.50 54.35 447.00 54.17 447.50 54.00 448.00 53.83 448.50 53.66 449.00 53.50 449.50 53.33 450.00 53.17 450.50 53.00 451.00 52.84 451.50 52.68 452.00 52.52 452.50 52.36 453.00 52.21 453.50 52.05 454.00 51.90 454.50 51.75 455.00 51.59 455.50 51.44 456.00 51.30 456.50 51.15 457.00 51.01 457.50 50.86 458.00 50.72 458.50 50.58 459.00 50.44 459.50 50.30 460.00 50.17 460.50 50.03 461.00 49.90 461.50 49.77 462.00 49.64 462.50 49.51 463.00 49.39 463.50 49.26 464.00 49.14 464.50 49.01 465.00 48.89 465.50 48.77 466.00 48.65 466.50 48.53 467.00 48.41 467.50 48.29 468.00 48.18 468.50 48.06 469.00 47.94 469.50 47.83 470.00 47.71 470.50 47.59 471.00 47.48 471.50 47.36 472.00 47.25 472.50 47.13 473.00 47.02 473.50 46.90 474.00 46.79 474.50 46.67 475.00 46.55 475.50 46.44 476.00 46.32 476.50 46.20 477.00 46.08 477.50 45.96 478.00 45.84 478.50 45.72 479.00 45.60 479.50 45.48 480.00 45.36 480.50 45.24 481.00 45.12 481.50 44.99 482.00 44.87 482.50 44.75 483.00 44.63 483.50 44.50 484.00 44.38 484.50 44.26 485.00 44.13 485.50 44.01 486.00 43.88 486.50 43.76 487.00 43.63 487.50 43.51 488.00 43.38 488.50 43.26 489.00 43.14 489.50 43.01 490.00 42.89 490.50 42.76 491.00 42.63 491.50 42.51 492.00 42.38 492.50 42.26 493.00 42.13 493.50 42.01 494.00 41.88 494.50 41.76 495.00 41.63 495.50 41.51 496.00 41.38 496.50 41.25 497.00 41.13 497.50 41.00 498.00 40.87 498.50 40.75 499.00 40.62 499.50 40.49 500.00 40.36 500.50 40.23 501.00 40.11 501.50 39.98 502.00 39.85 502.50 39.72 503.00 39.59 503.50 39.46 504.00 39.32 504.50 39.19 505.00 39.06 505.50 38.93 506.00 38.79 506.50 38.66 507.00 38.52 507.50 38.39 508.00 38.25 508.50 38.12 509.00 37.98 509.50 37.85 510.00 37.71 510.50 37.57 511.00 37.43 511.50 37.30 512.00 37.16 512.50 37.02 513.00 36.89 513.50 36.75 514.00 36.61 514.50 36.47 515.00 36.34 515.50 36.20 516.00 36.06 516.50 35.93 517.00 35.79 517.50 35.66 518.00 35.52 518.50 35.39 519.00 35.25 519.50 35.12 520.00 34.99 520.50 34.86 521.00 34.73 521.50 34.60 522.00 34.47 522.50 34.34 523.00 34.21 523.50 34.08 524.00 33.96 524.50 33.83 525.00 33.71 525.50 33.58 526.00 33.46 526.50 33.34 527.00 33.22 527.50 33.11 528.00 32.99 528.50 32.87 529.00 32.76 529.50 32.65 530.00 32.54 530.50 32.43 531.00 32.32 531.50 32.21 532.00 32.11 532.50 32.01 533.00 31.90 533.50 31.81 534.00 31.71 534.50 31.61 535.00 31.52 535.50 31.43 536.00 31.35 536.50 31.26 537.00 31.18 537.50 31.10 538.00 31.03 538.50 30.96 539.00 30.90 539.50 30.83 540.00 30.78 540.50 30.73 541.00 30.68 541.50 30.64 542.00 30.60 542.50 30.57 543.00 30.54 543.50 30.52 544.00 30.51 544.50 30.50 545.00 30.49 545.50 30.50 546.00 30.51 546.50 30.53 547.00 30.55 547.50 30.58 548.00 30.62 548.50 30.67 549.00 30.72 549.50 30.78 550.00 30.85 550.50 30.92 551.00 31.00 551.50 31.09 552.00 31.19 552.50 31.29 553.00 31.40 553.50 31.51 554.00 31.64 554.50 31.77 555.00 31.90 555.50 32.05 556.00 32.20 556.50 32.36 557.00 32.52 557.50 32.69 558.00 32.87 558.50 33.06 559.00 33.25 559.50 33.45 560.00 33.66 560.50 33.87 561.00 34.09 561.50 34.32 562.00 34.55 562.50 34.79 563.00 35.04 563.50 35.29 564.00 35.55 564.50 35.81 565.00 36.08 565.50 36.36 566.00 36.64 566.50 36.93 567.00 37.22 567.50 37.51 568.00 37.81 568.50 38.12 569.00 38.43 569.50 38.74 570.00 39.06 570.50 39.38 571.00 39.71 571.50 40.04 572.00 40.38 572.50 40.71 573.00 41.06 573.50 41.40 574.00 41.75 574.50 42.10 575.00 42.45 575.50 42.81 576.00 43.17 576.50 43.53 577.00 43.90 577.50 44.27 578.00 44.64 578.50 45.01 579.00 45.38 579.50 45.76 580.00 46.13 580.50 46.51 581.00 46.89 581.50 47.28 582.00 47.66 582.50 48.04 583.00 48.43 583.50 48.82 584.00 49.20 584.50 49.59 585.00 49.98 585.50 50.37 586.00 50.76 586.50 51.15 587.00 51.54 587.50 51.94 588.00 52.33 588.50 52.73 589.00 53.12 589.50 53.52 590.00 53.92 590.50 54.32 591.00 54.72 591.50 55.12 592.00 55.52 592.50 55.92 593.00 56.33 593.50 56.73 594.00 57.14 594.50 57.54 595.00 57.95 595.50 58.36 596.00 58.77 596.50 59.18 597.00 59.59 597.50 60.01 598.00 60.42 598.50 60.84 599.00 61.25 599.50 61.67 600.00 62.09 600.50 62.50 601.00 62.92 601.50 63.34 602.00 63.75 602.50 64.17 603.00 64.58 603.50 64.99 604.00 65.41 604.50 65.82 605.00 66.22 605.50 66.63 606.00 67.03 606.50 67.43 607.00 67.83 607.50 68.23 608.00 68.62 608.50 69.01 609.00 69.39 609.50 69.78 610.00 70.15 610.50 70.53 611.00 70.90 611.50 71.26 612.00 71.62 612.50 71.97 613.00 72.32 613.50 72.67 614.00 73.00 614.50 73.34 615.00 73.66 615.50 73.98 616.00 74.29 616.50 74.60 617.00 74.90 617.50 75.19 618.00 75.48 618.50 75.75 619.00 76.02 619.50 76.28 620.00 76.54 620.50 76.78 621.00 77.02 621.50 77.24 622.00 77.46 622.50 77.67 623.00 77.87 623.50 78.07 624.00 78.25 624.50 78.43 625.00 78.60 625.50 78.76 626.00 78.91 626.50 79.05 627.00 79.19 627.50 79.31 628.00 79.43 628.50 79.55 629.00 79.65 629.50 79.75 630.00 79.83 630.50 79.92 631.00 79.99 631.50 80.06 632.00 80.11 632.50 80.17 633.00 80.21 633.50 80.25 634.00 80.28 634.50 80.30 635.00 80.31 635.50 80.32 636.00 80.33 636.50 80.32 637.00 80.31 637.50 80.29 638.00 80.26 638.50 80.23 639.00 80.19 639.50 80.15 640.00 80.10 640.50 80.04 641.00 79.98 641.50 79.91 642.00 79.83 642.50 79.75 643.00 79.66 643.50 79.56 644.00 79.46 644.50 79.36 645.00 79.24 645.50 79.13 646.00 79.00 646.50 78.87 647.00 78.74 647.50 78.60 648.00 78.45 648.50 78.30 649.00 78.14 649.50 77.98 650.00 77.82 650.50 77.64 651.00 77.47 651.50 77.28 652.00 77.10 652.50 76.91 653.00 76.71 653.50 76.51 654.00 76.31 654.50 76.10 655.00 75.89 655.50 75.68 656.00 75.46 656.50 75.25 657.00 75.03 657.50 74.81 658.00 74.59 658.50 74.36 659.00 74.14 659.50 73.92 660.00 73.69 660.50 73.47 661.00 73.25 661.50 73.02 662.00 72.80 662.50 72.58 663.00 72.36 663.50 72.15 664.00 71.93 664.50 71.72 665.00 71.52 665.50 71.31 666.00 71.11 666.50 70.91 667.00 70.72 667.50 70.53 668.00 70.34 668.50 70.16 669.00 69.99 669.50 69.82 670.00 69.66 670.50 69.50 671.00 69.35 671.50 69.21 672.00 69.07 672.50 68.94 673.00 68.82 673.50 68.70 674.00 68.60 674.10 68.58" fill="none" stroke="#ff4646" stroke-width="1.25" stroke-linejoin="round" clip-path="url(#cd)"/><line x1="438.83" y1="119.00" x2="438.83" y2="116.00" stroke="#3a3a3a" stroke-width="0.8"/><line x1="438.83" y1="11.30" x2="438.83" y2="14.30" stroke="#3a3a3a" stroke-width="0.8"/><line x1="517.29" y1="119.00" x2="517.29" y2="116.00" stroke="#3a3a3a" stroke-width="0.8"/><line x1="517.29" y1="11.30" x2="517.29" y2="14.30" stroke="#3a3a3a" stroke-width="0.8"/><line x1="595.74" y1="119.00" x2="595.74" y2="116.00" stroke="#3a3a3a" stroke-width="0.8"/><line x1="595.74" y1="11.30" x2="595.74" y2="14.30" stroke="#3a3a3a" stroke-width="0.8"/><line x1="674.20" y1="119.00" x2="674.20" y2="116.00" stroke="#3a3a3a" stroke-width="0.8"/><line x1="674.20" y1="11.30" x2="674.20" y2="14.30" stroke="#3a3a3a" stroke-width="0.8"/><line x1="478.06" y1="119.00" x2="478.06" y2="116.90" stroke="#3a3a3a" stroke-width="0.8"/><line x1="478.06" y1="11.30" x2="478.06" y2="13.40" stroke="#3a3a3a" stroke-width="0.8"/><line x1="556.51" y1="119.00" x2="556.51" y2="116.90" stroke="#3a3a3a" stroke-width="0.8"/><line x1="556.51" y1="11.30" x2="556.51" y2="13.40" stroke="#3a3a3a" stroke-width="0.8"/><line x1="634.97" y1="119.00" x2="634.97" y2="116.90" stroke="#3a3a3a" stroke-width="0.8"/><line x1="634.97" y1="11.30" x2="634.97" y2="13.40" stroke="#3a3a3a" stroke-width="0.8"/><line x1="399.60" y1="119.00" x2="402.60" y2="119.00" stroke="#3a3a3a" stroke-width="0.8"/><line x1="674.20" y1="119.00" x2="671.20" y2="119.00" stroke="#3a3a3a" stroke-width="0.8"/><line x1="399.60" y1="97.46" x2="402.60" y2="97.46" stroke="#3a3a3a" stroke-width="0.8"/><line x1="674.20" y1="97.46" x2="671.20" y2="97.46" stroke="#3a3a3a" stroke-width="0.8"/><line x1="399.60" y1="75.92" x2="402.60" y2="75.92" stroke="#3a3a3a" stroke-width="0.8"/><line x1="674.20" y1="75.92" x2="671.20" y2="75.92" stroke="#3a3a3a" stroke-width="0.8"/><line x1="399.60" y1="54.38" x2="402.60" y2="54.38" stroke="#3a3a3a" stroke-width="0.8"/><line x1="674.20" y1="54.38" x2="671.20" y2="54.38" stroke="#3a3a3a" stroke-width="0.8"/><line x1="399.60" y1="32.84" x2="402.60" y2="32.84" stroke="#3a3a3a" stroke-width="0.8"/><line x1="674.20" y1="32.84" x2="671.20" y2="32.84" stroke="#3a3a3a" stroke-width="0.8"/><line x1="399.60" y1="11.30" x2="402.60" y2="11.30" stroke="#3a3a3a" stroke-width="0.8"/><line x1="674.20" y1="11.30" x2="671.20" y2="11.30" stroke="#3a3a3a" stroke-width="0.8"/><line x1="399.60" y1="108.23" x2="401.70" y2="108.23" stroke="#3a3a3a" stroke-width="0.8"/><line x1="674.20" y1="108.23" x2="672.10" y2="108.23" stroke="#3a3a3a" stroke-width="0.8"/><line x1="399.60" y1="86.69" x2="401.70" y2="86.69" stroke="#3a3a3a" stroke-width="0.8"/><line x1="674.20" y1="86.69" x2="672.10" y2="86.69" stroke="#3a3a3a" stroke-width="0.8"/><line x1="399.60" y1="65.15" x2="401.70" y2="65.15" stroke="#3a3a3a" stroke-width="0.8"/><line x1="674.20" y1="65.15" x2="672.10" y2="65.15" stroke="#3a3a3a" stroke-width="0.8"/><line x1="399.60" y1="43.61" x2="401.70" y2="43.61" stroke="#3a3a3a" stroke-width="0.8"/><line x1="674.20" y1="43.61" x2="672.10" y2="43.61" stroke="#3a3a3a" stroke-width="0.8"/><line x1="399.60" y1="22.07" x2="401.70" y2="22.07" stroke="#3a3a3a" stroke-width="0.8"/><line x1="674.20" y1="22.07" x2="672.10" y2="22.07" stroke="#3a3a3a" stroke-width="0.8"/><rect x="399.00" y="10.80" width="276.00" height="1.20" fill="#777"/><rect x="399.00" y="118.70" width="276.00" height="1.20" fill="#555"/><rect x="399.00" y="10.80" width="1.20" height="109.10" fill="#5a5a5a"/><rect x="673.80" y="10.80" width="1.20" height="109.10" fill="#606060"/><text transform="translate(438.83 129.60) scale(0.947 1)" font-size="9.6" text-anchor="middle" fill="#222">700</text><text transform="translate(517.29 129.60) scale(0.947 1)" font-size="9.6" text-anchor="middle" fill="#222">800</text><text transform="translate(595.74 129.60) scale(0.947 1)" font-size="9.6" text-anchor="middle" fill="#222">900</text><text transform="translate(674.20 129.60) scale(0.947 1)" font-size="9.6" text-anchor="middle" fill="#222">1000</text><text transform="translate(396.30 121.94) scale(0.947 1)" font-size="9.6" text-anchor="end" fill="#222">1</text><text transform="translate(396.30 100.40) scale(0.947 1)" font-size="9.6" text-anchor="end" fill="#222">2</text><text transform="translate(396.30 78.86) scale(0.947 1)" font-size="9.6" text-anchor="end" fill="#222">3</text><text transform="translate(396.30 57.32) scale(0.947 1)" font-size="9.6" text-anchor="end" fill="#222">4</text><text transform="translate(396.30 35.78) scale(0.947 1)" font-size="9.6" text-anchor="end" fill="#222">5</text><text transform="translate(396.30 14.24) scale(0.947 1)" font-size="9.6" text-anchor="end" fill="#222">6</text><text transform="translate(494.70 141.40) scale(0.94 1)" font-size="9.9" fill="#222">Wavelength (nm)</text><text transform="translate(374.90 109.40) rotate(-90)" font-size="9" fill="#222">Normalized Scattering</text><text x="349.10" y="12.10" font-size="15" font-weight="bold" fill="#111">(d)</text><line x1="619.70" y1="16.00" x2="636.50" y2="16.00" stroke="#3c3cff" stroke-width="1.2"/><text x="637.70" y="18.50" font-size="7" fill="#222" stroke="#222" stroke-width="0.2">a = 40 nm</text><line x1="619.70" y1="25.60" x2="636.50" y2="25.60" stroke="#3ddc3d" stroke-width="1.2"/><text x="637.70" y="28.10" font-size="7" fill="#222" stroke="#222" stroke-width="0.2">a = 60 nm</text><line x1="619.70" y1="34.50" x2="636.50" y2="34.50" stroke="#ff4646" stroke-width="1.2"/><text x="637.70" y="37.00" font-size="7" fill="#222" stroke="#222" stroke-width="0.2">a = 80 nm</text></g>
<g><clipPath id="cb"><rect x="48.00" y="166.00" width="274.70" height="109.80"/></clipPath><path d="M48.00 231.56 48.50 231.49 49.00 231.41 49.50 231.33 50.00 231.24 50.50 231.16 51.00 231.07 51.50 230.98 52.00 230.88 52.50 230.79 53.00 230.69 53.50 230.59 54.00 230.49 54.50 230.39 55.00 230.28 55.50 230.18 56.00 230.07 56.50 229.97 57.00 229.86 57.50 229.75 58.00 229.64 58.50 229.54 59.00 229.43 59.50 229.32 60.00 229.21 60.50 229.11 61.00 229.00 61.50 228.90 62.00 228.79 62.50 228.69 63.00 228.59 63.50 228.49 64.00 228.39 64.50 228.29 65.00 228.20 65.50 228.10 66.00 228.01 66.50 227.93 67.00 227.84 67.50 227.76 68.00 227.68 68.50 227.60 69.00 227.53 69.50 227.46 70.00 227.39 70.50 227.33 71.00 227.27 71.50 227.21 72.00 227.16 72.50 227.11 73.00 227.07 73.50 227.03 74.00 227.00 74.50 226.97 75.00 226.95 75.50 226.93 76.00 226.92 76.50 226.92 77.00 226.91 77.50 226.92 78.00 226.93 78.50 226.95 79.00 226.97 79.50 227.00 80.00 227.04 80.50 227.08 81.00 227.13 81.50 227.19 82.00 227.26 82.50 227.33 83.00 227.41 83.50 227.50 84.00 227.59 84.50 227.70 85.00 227.81 85.50 227.93 86.00 228.06 86.50 228.20 87.00 228.35 87.50 228.50 88.00 228.67 88.50 228.84 89.00 229.02 89.50 229.21 90.00 229.41 90.50 229.62 91.00 229.84 91.50 230.06 92.00 230.29 92.50 230.53 93.00 230.78 93.50 231.04 94.00 231.31 94.50 231.58 95.00 231.86 95.50 232.16 96.00 232.45 96.50 232.76 97.00 233.08 97.50 233.40 98.00 233.73 98.50 234.07 99.00 234.42 99.50 234.77 100.00 235.13 100.50 235.50 101.00 235.88 101.50 236.27 102.00 236.66 102.50 237.06 103.00 237.47 103.50 237.89 104.00 238.31 104.50 238.74 105.00 239.18 105.50 239.62 106.00 240.08 106.50 240.54 107.00 241.01 107.50 241.48 108.00 241.96 108.50 242.45 109.00 242.95 109.50 243.45 110.00 243.96 110.50 244.48 111.00 245.00 111.50 245.53 112.00 246.06 112.50 246.59 113.00 247.13 113.50 247.67 114.00 248.21 114.50 248.76 115.00 249.30 115.50 249.85 116.00 250.39 116.50 250.94 117.00 251.48 117.50 252.02 118.00 252.55 118.50 253.09 119.00 253.62 119.50 254.14 120.00 254.66 120.50 255.18 121.00 255.69 121.50 256.19 122.00 256.68 122.50 257.17 123.00 257.65 123.50 258.12 124.00 258.58 124.50 259.02 125.00 259.46 125.50 259.89 126.00 260.30 126.50 260.71 127.00 261.09 127.50 261.47 128.00 261.83 128.50 262.18 129.00 262.51 129.50 262.82 130.00 263.12 130.50 263.40 131.00 263.66 131.50 263.90 132.00 264.13 132.50 264.33 133.00 264.52 133.50 264.69 134.00 264.84 134.50 264.97 135.00 265.09 135.50 265.18 136.00 265.26 136.50 265.32 137.00 265.37 137.50 265.39 138.00 265.40 138.50 265.39 139.00 265.37 139.50 265.33 140.00 265.27 140.50 265.20 141.00 265.11 141.50 265.00 142.00 264.88 142.50 264.75 143.00 264.59 143.50 264.43 144.00 264.24 144.50 264.05 145.00 263.84 145.50 263.61 146.00 263.38 146.50 263.13 147.00 262.87 147.50 262.59 148.00 262.31 148.50 262.01 149.00 261.71 149.50 261.40 150.00 261.07 150.50 260.74 151.00 260.40 151.50 260.05 152.00 259.70 152.50 259.34 153.00 258.97 153.50 258.60 154.00 258.22 154.50 257.83 155.00 257.45 155.50 257.06 156.00 256.66 156.50 256.26 157.00 255.86 157.50 255.46 158.00 255.06 158.50 254.65 159.00 254.25 159.50 253.85 160.00 253.44 160.50 253.04 161.00 252.64 161.50 252.24 162.00 251.84 162.50 251.45 163.00 251.06 163.50 250.67 164.00 250.29 164.50 249.92 165.00 249.54 165.50 249.18 166.00 248.82 166.50 248.47 167.00 248.12 167.50 247.78 168.00 247.45 168.50 247.13 169.00 246.81 169.50 246.49 170.00 246.19 170.50 245.89 171.00 245.59 171.50 245.30 172.00 245.02 172.50 244.74 173.00 244.46 173.50 244.19 174.00 243.93 174.50 243.67 175.00 243.42 175.50 243.17 176.00 242.92 176.50 242.68 177.00 242.45 177.50 242.21 178.00 241.98 178.50 241.76 179.00 241.54 179.50 241.32 180.00 241.10 180.50 240.89 181.00 240.69 181.50 240.48 182.00 240.28 182.50 240.08 183.00 239.89 183.50 239.70 184.00 239.51 184.50 239.33 185.00 239.15 185.50 238.97 186.00 238.80 186.50 238.62 187.00 238.46 187.50 238.29 188.00 238.13 188.50 237.97 189.00 237.81 189.50 237.66 190.00 237.51 190.50 237.36 191.00 237.22 191.50 237.08 192.00 236.94 192.50 236.81 193.00 236.67 193.50 236.54 194.00 236.42 194.50 236.29 195.00 236.17 195.50 236.05 196.00 235.93 196.50 235.82 197.00 235.71 197.50 235.60 198.00 235.49 198.50 235.39 199.00 235.29 199.50 235.19 200.00 235.10 200.50 235.00 201.00 234.91 201.50 234.82 202.00 234.73 202.50 234.65 203.00 234.57 203.50 234.49 204.00 234.41 204.50 234.33 205.00 234.26 205.50 234.19 206.00 234.12 206.50 234.05 207.00 233.99 207.50 233.92 208.00 233.86 208.50 233.80 209.00 233.75 209.50 233.69 210.00 233.64 210.50 233.58 211.00 233.53 211.50 233.49 212.00 233.44 212.50 233.40 213.00 233.35 213.50 233.31 214.00 233.27 214.50 233.23 215.00 233.20 215.50 233.16 216.00 233.13 216.50 233.10 217.00 233.07 217.50 233.04 218.00 233.01 218.50 232.99 219.00 232.97 219.50 232.94 220.00 232.92 220.50 232.90 221.00 232.89 221.50 232.87 222.00 232.86 222.50 232.84 223.00 232.83 223.50 232.82 224.00 232.81 224.50 232.80 225.00 232.80 225.50 232.79 226.00 232.79 226.50 232.79 227.00 232.79 227.50 232.79 228.00 232.79 228.50 232.80 229.00 232.80 229.50 232.81 230.00 232.81 230.50 232.82 231.00 232.83 231.50 232.85 232.00 232.86 232.50 232.87 233.00 232.89 233.50 232.90 234.00 232.92 234.50 232.94 235.00 232.96 235.50 232.98 236.00 233.00 236.50 233.03 237.00 233.05 237.50 233.08 238.00 233.11 238.50 233.14 239.00 233.16 239.50 233.20 240.00 233.23 240.50 233.26 241.00 233.29 241.50 233.33 242.00 233.36 242.50 233.40 243.00 233.44 243.50 233.48 244.00 233.52 244.50 233.56 245.00 233.60 245.50 233.64 246.00 233.69 246.50 233.73 247.00 233.78 247.50 233.83 248.00 233.87 248.50 233.92 249.00 233.97 249.50 234.02 250.00 234.07 250.50 234.13 251.00 234.18 251.50 234.23 252.00 234.29 252.50 234.34 253.00 234.40 253.50 234.46 254.00 234.52 254.50 234.58 255.00 234.64 255.50 234.70 256.00 234.76 256.50 234.82 257.00 234.88 257.50 234.95 258.00 235.01 258.50 235.07 259.00 235.14 259.50 235.21 260.00 235.27 260.50 235.34 261.00 235.41 261.50 235.48 262.00 235.55 262.50 235.62 263.00 235.69 263.50 235.76 264.00 235.83 264.50 235.90 265.00 235.98 265.50 236.05 266.00 236.13 266.50 236.20 267.00 236.28 267.50 236.35 268.00 236.43 268.50 236.50 269.00 236.58 269.50 236.66 270.00 236.74 270.50 236.82 271.00 236.90 271.50 236.98 272.00 237.06 272.50 237.14 273.00 237.22 273.50 237.30 274.00 237.38 274.50 237.46 275.00 237.54 275.50 237.63 276.00 237.71 276.50 237.79 277.00 237.88 277.50 237.96 278.00 238.04 278.50 238.13 279.00 238.21 279.50 238.30 280.00 238.38 280.50 238.47 281.00 238.56 281.50 238.64 282.00 238.73 282.50 238.81 283.00 238.90 283.50 238.99 284.00 239.07 284.50 239.16 285.00 239.25 285.50 239.34 286.00 239.42 286.50 239.51 287.00 239.60 287.50 239.69 288.00 239.77 288.50 239.86 289.00 239.95 289.50 240.04 290.00 240.13 290.50 240.22 291.00 240.30 291.50 240.39 292.00 240.48 292.50 240.57 293.00 240.66 293.50 240.74 294.00 240.83 294.50 240.92 295.00 241.01 295.50 241.10 296.00 241.18 296.50 241.27 297.00 241.36 297.50 241.45 298.00 241.53 298.50 241.62 299.00 241.71 299.50 241.80 300.00 241.88 300.50 241.97 301.00 242.06 301.50 242.14 302.00 242.23 302.50 242.31 303.00 242.40 303.50 242.48 304.00 242.57 304.50 242.65 305.00 242.74 305.50 242.82 306.00 242.91 306.50 242.99 307.00 243.07 307.50 243.16 308.00 243.24 308.50 243.32 309.00 243.40 309.50 243.48 310.00 243.57 310.50 243.65 311.00 243.73 311.50 243.81 312.00 243.89 312.50 243.97 313.00 244.04 313.50 244.12 314.00 244.20 314.50 244.28 315.00 244.35 315.50 244.43 316.00 244.51 316.50 244.58 317.00 244.66 317.50 244.73 318.00 244.80 318.50 244.88 319.00 244.95 319.50 245.02 320.00 245.09 320.50 245.16 321.00 245.23 321.50 245.30 322.00 245.37 322.50 245.44 322.70 245.47" fill="none" stroke="#3c3cff" stroke-width="1.25" stroke-linejoin="round" clip-path="url(#cb)"/><path d="M48.00 232.63 48.50 232.54 49.00 232.45 49.50 232.35 50.00 232.25 50.50 232.15 51.00 232.04 51.50 231.94 52.00 231.83 52.50 231.71 53.00 231.60 53.50 231.48 54.00 231.36 54.50 231.24 55.00 231.11 55.50 230.98 56.00 230.86 56.50 230.73 57.00 230.60 57.50 230.46 58.00 230.33 58.50 230.20 59.00 230.06 59.50 229.92 60.00 229.79 60.50 229.65 61.00 229.51 61.50 229.37 62.00 229.23 62.50 229.09 63.00 228.95 63.50 228.81 64.00 228.67 64.50 228.53 65.00 228.40 65.50 228.26 66.00 228.12 66.50 227.99 67.00 227.85 67.50 227.72 68.00 227.58 68.50 227.45 69.00 227.32 69.50 227.19 70.00 227.07 70.50 226.94 71.00 226.82 71.50 226.70 72.00 226.58 72.50 226.46 73.00 226.35 73.50 226.24 74.00 226.13 74.50 226.02 75.00 225.92 75.50 225.82 76.00 225.72 76.50 225.63 77.00 225.54 77.50 225.45 78.00 225.37 78.50 225.29 79.00 225.21 79.50 225.14 80.00 225.07 80.50 225.01 81.00 224.95 81.50 224.89 82.00 224.84 82.50 224.80 83.00 224.76 83.50 224.72 84.00 224.69 84.50 224.67 85.00 224.65 85.50 224.63 86.00 224.63 86.50 224.62 87.00 224.63 87.50 224.64 88.00 224.65 88.50 224.67 89.00 224.70 89.50 224.74 90.00 224.79 90.50 224.84 91.00 224.90 91.50 224.97 92.00 225.05 92.50 225.13 93.00 225.23 93.50 225.34 94.00 225.45 94.50 225.58 95.00 225.72 95.50 225.87 96.00 226.02 96.50 226.19 97.00 226.38 97.50 226.57 98.00 226.78 98.50 226.99 99.00 227.22 99.50 227.46 100.00 227.71 100.50 227.97 101.00 228.25 101.50 228.53 102.00 228.83 102.50 229.13 103.00 229.44 103.50 229.77 104.00 230.10 104.50 230.45 105.00 230.80 105.50 231.17 106.00 231.54 106.50 231.92 107.00 232.31 107.50 232.71 108.00 233.12 108.50 233.54 109.00 233.96 109.50 234.40 110.00 234.84 110.50 235.28 111.00 235.74 111.50 236.20 112.00 236.66 112.50 237.13 113.00 237.60 113.50 238.07 114.00 238.55 114.50 239.03 115.00 239.51 115.50 239.99 116.00 240.47 116.50 240.95 117.00 241.42 117.50 241.90 118.00 242.37 118.50 242.84 119.00 243.31 119.50 243.77 120.00 244.23 120.50 244.68 121.00 245.12 121.50 245.56 122.00 245.99 122.50 246.42 123.00 246.83 123.50 247.24 124.00 247.63 124.50 248.01 125.00 248.39 125.50 248.75 126.00 249.10 126.50 249.44 127.00 249.76 127.50 250.07 128.00 250.36 128.50 250.64 129.00 250.91 129.50 251.16 130.00 251.39 130.50 251.61 131.00 251.82 131.50 252.01 132.00 252.18 132.50 252.35 133.00 252.50 133.50 252.63 134.00 252.75 134.50 252.86 135.00 252.96 135.50 253.04 136.00 253.11 136.50 253.17 137.00 253.21 137.50 253.24 138.00 253.26 138.50 253.27 139.00 253.27 139.50 253.25 140.00 253.22 140.50 253.18 141.00 253.13 141.50 253.07 142.00 253.00 142.50 252.92 143.00 252.82 143.50 252.72 144.00 252.60 144.50 252.48 145.00 252.34 145.50 252.20 146.00 252.05 146.50 251.89 147.00 251.72 147.50 251.54 148.00 251.36 148.50 251.16 149.00 250.97 149.50 250.76 150.00 250.55 150.50 250.33 151.00 250.11 151.50 249.89 152.00 249.65 152.50 249.42 153.00 249.18 153.50 248.94 154.00 248.69 154.50 248.44 155.00 248.19 155.50 247.94 156.00 247.68 156.50 247.42 157.00 247.16 157.50 246.91 158.00 246.65 158.50 246.39 159.00 246.13 159.50 245.87 160.00 245.61 160.50 245.36 161.00 245.10 161.50 244.85 162.00 244.60 162.50 244.35 163.00 244.11 163.50 243.87 164.00 243.63 164.50 243.40 165.00 243.17 165.50 242.95 166.00 242.73 166.50 242.52 167.00 242.31 167.50 242.11 168.00 241.92 168.50 241.73 169.00 241.54 169.50 241.36 170.00 241.18 170.50 241.01 171.00 240.85 171.50 240.68 172.00 240.53 172.50 240.37 173.00 240.22 173.50 240.08 174.00 239.94 174.50 239.80 175.00 239.67 175.50 239.54 176.00 239.41 176.50 239.29 177.00 239.17 177.50 239.05 178.00 238.93 178.50 238.82 179.00 238.71 179.50 238.60 180.00 238.50 180.50 238.40 181.00 238.30 181.50 238.20 182.00 238.11 182.50 238.02 183.00 237.93 183.50 237.84 184.00 237.76 184.50 237.67 185.00 237.59 185.50 237.52 186.00 237.44 186.50 237.37 187.00 237.30 187.50 237.23 188.00 237.16 188.50 237.10 189.00 237.04 189.50 236.98 190.00 236.92 190.50 236.87 191.00 236.81 191.50 236.76 192.00 236.72 192.50 236.67 193.00 236.62 193.50 236.58 194.00 236.54 194.50 236.50 195.00 236.47 195.50 236.43 196.00 236.40 196.50 236.37 197.00 236.34 197.50 236.31 198.00 236.29 198.50 236.26 199.00 236.24 199.50 236.22 200.00 236.20 200.50 236.19 201.00 236.17 201.50 236.16 202.00 236.15 202.50 236.14 203.00 236.13 203.50 236.12 204.00 236.12 204.50 236.12 205.00 236.11 205.50 236.11 206.00 236.12 206.50 236.12 207.00 236.12 207.50 236.13 208.00 236.14 208.50 236.15 209.00 236.16 209.50 236.17 210.00 236.18 210.50 236.20 211.00 236.21 211.50 236.23 212.00 236.25 212.50 236.27 213.00 236.29 213.50 236.31 214.00 236.33 214.50 236.36 215.00 236.38 215.50 236.41 216.00 236.44 216.50 236.47 217.00 236.50 217.50 236.53 218.00 236.56 218.50 236.59 219.00 236.63 219.50 236.66 220.00 236.70 220.50 236.74 221.00 236.78 221.50 236.82 222.00 236.86 222.50 236.90 223.00 236.94 223.50 236.98 224.00 237.03 224.50 237.07 225.00 237.12 225.50 237.16 226.00 237.21 226.50 237.26 227.00 237.31 227.50 237.36 228.00 237.41 228.50 237.46 229.00 237.51 229.50 237.56 230.00 237.61 230.50 237.67 231.00 237.72 231.50 237.78 232.00 237.83 232.50 237.89 233.00 237.95 233.50 238.00 234.00 238.06 234.50 238.12 235.00 238.18 235.50 238.24 236.00 238.30 236.50 238.36 237.00 238.42 237.50 238.48 238.00 238.54 238.50 238.60 239.00 238.66 239.50 238.73 240.00 238.79 240.50 238.85 241.00 238.92 241.50 238.98 242.00 239.04 242.50 239.11 243.00 239.17 243.50 239.24 244.00 239.30 244.50 239.37 245.00 239.43 245.50 239.50 246.00 239.56 246.50 239.63 247.00 239.70 247.50 239.76 248.00 239.83 248.50 239.89 249.00 239.96 249.50 240.03 250.00 240.09 250.50 240.16 251.00 240.22 251.50 240.29 252.00 240.36 252.50 240.42 253.00 240.49 253.50 240.55 254.00 240.62 254.50 240.69 255.00 240.75 255.50 240.82 256.00 240.88 256.50 240.95 257.00 241.02 257.50 241.08 258.00 241.15 258.50 241.21 259.00 241.28 259.50 241.35 260.00 241.41 260.50 241.48 261.00 241.55 261.50 241.61 262.00 241.68 262.50 241.74 263.00 241.81 263.50 241.88 264.00 241.94 264.50 242.01 265.00 242.08 265.50 242.14 266.00 242.21 266.50 242.28 267.00 242.34 267.50 242.41 268.00 242.48 268.50 242.54 269.00 242.61 269.50 242.68 270.00 242.74 270.50 242.81 271.00 242.88 271.50 242.95 272.00 243.01 272.50 243.08 273.00 243.15 273.50 243.22 274.00 243.28 274.50 243.35 275.00 243.42 275.50 243.49 276.00 243.56 276.50 243.62 277.00 243.69 277.50 243.76 278.00 243.83 278.50 243.90 279.00 243.97 279.50 244.03 280.00 244.10 280.50 244.17 281.00 244.24 281.50 244.31 282.00 244.38 282.50 244.45 283.00 244.52 283.50 244.59 284.00 244.66 284.50 244.73 285.00 244.80 285.50 244.87 286.00 244.94 286.50 245.01 287.00 245.08 287.50 245.15 288.00 245.22 288.50 245.29 289.00 245.36 289.50 245.44 290.00 245.51 290.50 245.58 291.00 245.65 291.50 245.72 292.00 245.80 292.50 245.87 293.00 245.94 293.50 246.01 294.00 246.09 294.50 246.16 295.00 246.23 295.50 246.31 296.00 246.38 296.50 246.45 297.00 246.53 297.50 246.60 298.00 246.67 298.50 246.75 299.00 246.82 299.50 246.90 300.00 246.97 300.50 247.05 301.00 247.12 301.50 247.20 302.00 247.28 302.50 247.35 303.00 247.43 303.50 247.51 304.00 247.58 304.50 247.66 305.00 247.74 305.50 247.81 306.00 247.89 306.50 247.97 307.00 248.05 307.50 248.12 308.00 248.20 308.50 248.28 309.00 248.36 309.50 248.44 310.00 248.52 310.50 248.60 311.00 248.68 311.50 248.76 312.00 248.84 312.50 248.92 313.00 249.00 313.50 249.08 314.00 249.16 314.50 249.25 315.00 249.33 315.50 249.41 316.00 249.49 316.50 249.58 317.00 249.66 317.50 249.74 318.00 249.83 318.50 249.91 319.00 249.99 319.50 250.08 320.00 250.16 320.50 250.25 321.00 250.33 321.50 250.42 322.00 250.50 322.50 250.59 322.70 250.62" fill="none" stroke="#3ddc3d" stroke-width="1.25" stroke-linejoin="round" clip-path="url(#cb)"/><path d="M48.00 237.55 48.50 237.29 49.00 237.03 49.50 236.76 50.00 236.50 50.50 236.24 51.00 235.99 51.50 235.73 52.00 235.47 52.50 235.22 53.00 234.97 53.50 234.72 54.00 234.47 54.50 234.22 55.00 233.97 55.50 233.73 56.00 233.49 56.50 233.25 57.00 233.01 57.50 232.77 58.00 232.54 58.50 232.30 59.00 232.07 59.50 231.85 60.00 231.62 60.50 231.40 61.00 231.18 61.50 230.96 62.00 230.74 62.50 230.53 63.00 230.32 63.50 230.11 64.00 229.90 64.50 229.70 65.00 229.50 65.50 229.30 66.00 229.11 66.50 228.92 67.00 228.73 67.50 228.55 68.00 228.37 68.50 228.19 69.00 228.01 69.50 227.84 70.00 227.67 70.50 227.51 71.00 227.35 71.50 227.19 72.00 227.04 72.50 226.89 73.00 226.74 73.50 226.60 74.00 226.46 74.50 226.33 75.00 226.20 75.50 226.07 76.00 225.95 76.50 225.83 77.00 225.72 77.50 225.61 78.00 225.50 78.50 225.40 79.00 225.31 79.50 225.21 80.00 225.13 80.50 225.04 81.00 224.97 81.50 224.89 82.00 224.83 82.50 224.76 83.00 224.70 83.50 224.65 84.00 224.60 84.50 224.56 85.00 224.52 85.50 224.49 86.00 224.46 86.50 224.44 87.00 224.42 87.50 224.41 88.00 224.41 88.50 224.40 89.00 224.41 89.50 224.41 90.00 224.43 90.50 224.44 91.00 224.46 91.50 224.49 92.00 224.52 92.50 224.55 93.00 224.59 93.50 224.63 94.00 224.67 94.50 224.72 95.00 224.76 95.50 224.82 96.00 224.87 96.50 224.93 97.00 224.99 97.50 225.05 98.00 225.12 98.50 225.19 99.00 225.26 99.50 225.33 100.00 225.40 100.50 225.48 101.00 225.55 101.50 225.63 102.00 225.71 102.50 225.79 103.00 225.87 103.50 225.95 104.00 226.03 104.50 226.12 105.00 226.20 105.50 226.28 106.00 226.37 106.50 226.46 107.00 226.55 107.50 226.65 108.00 226.76 108.50 226.88 109.00 227.02 109.50 227.16 110.00 227.32 110.50 227.50 111.00 227.70 111.50 227.91 112.00 228.15 112.50 228.41 113.00 228.70 113.50 229.01 114.00 229.35 114.50 229.72 115.00 230.12 115.50 230.54 116.00 231.00 116.50 231.47 117.00 231.96 117.50 232.47 118.00 233.00 118.50 233.54 119.00 234.09 119.50 234.64 120.00 235.21 120.50 235.78 121.00 236.34 121.50 236.91 122.00 237.47 122.50 238.03 123.00 238.58 123.50 239.12 124.00 239.65 124.50 240.16 125.00 240.66 125.50 241.14 126.00 241.60 126.50 242.05 127.00 242.47 127.50 242.87 128.00 243.24 128.50 243.59 129.00 243.92 129.50 244.22 130.00 244.48 130.50 244.72 131.00 244.92 131.50 245.10 132.00 245.24 132.50 245.35 133.00 245.43 133.50 245.48 134.00 245.50 134.50 245.50 135.00 245.48 135.50 245.44 136.00 245.37 136.50 245.28 137.00 245.18 137.50 245.06 138.00 244.92 138.50 244.77 139.00 244.61 139.50 244.43 140.00 244.25 140.50 244.05 141.00 243.85 141.50 243.64 142.00 243.43 142.50 243.20 143.00 242.97 143.50 242.73 144.00 242.49 144.50 242.23 145.00 241.98 145.50 241.71 146.00 241.44 146.50 241.16 147.00 240.88 147.50 240.60 148.00 240.30 148.50 240.01 149.00 239.71 149.50 239.40 150.00 239.09 150.50 238.77 151.00 238.45 151.50 238.13 152.00 237.81 152.50 237.48 153.00 237.15 153.50 236.81 154.00 236.47 154.50 236.13 155.00 235.79 155.50 235.44 156.00 235.10 156.50 234.75 157.00 234.40 157.50 234.05 158.00 233.69 158.50 233.34 159.00 232.98 159.50 232.62 160.00 232.26 160.50 231.90 161.00 231.54 161.50 231.18 162.00 230.81 162.50 230.45 163.00 230.08 163.50 229.71 164.00 229.34 164.50 228.97 165.00 228.60 165.50 228.23 166.00 227.86 166.50 227.49 167.00 227.12 167.50 226.74 168.00 226.37 168.50 225.99 169.00 225.62 169.50 225.25 170.00 224.87 170.50 224.50 171.00 224.12 171.50 223.75 172.00 223.37 172.50 223.00 173.00 222.62 173.50 222.25 174.00 221.87 174.50 221.50 175.00 221.13 175.50 220.75 176.00 220.38 176.50 220.01 177.00 219.64 177.50 219.27 178.00 218.90 178.50 218.53 179.00 218.16 179.50 217.80 180.00 217.43 180.50 217.07 181.00 216.70 181.50 216.34 182.00 215.98 182.50 215.62 183.00 215.27 183.50 214.91 184.00 214.55 184.50 214.20 185.00 213.85 185.50 213.50 186.00 213.15 186.50 212.81 187.00 212.46 187.50 212.12 188.00 211.78 188.50 211.44 189.00 211.11 189.50 210.77 190.00 210.44 190.50 210.11 191.00 209.79 191.50 209.46 192.00 209.14 192.50 208.82 193.00 208.51 193.50 208.19 194.00 207.88 194.50 207.58 195.00 207.27 195.50 206.97 196.00 206.67 196.50 206.37 197.00 206.08 197.50 205.79 198.00 205.51 198.50 205.22 199.00 204.94 199.50 204.66 200.00 204.39 200.50 204.12 201.00 203.85 201.50 203.58 202.00 203.32 202.50 203.06 203.00 202.80 203.50 202.55 204.00 202.30 204.50 202.05 205.00 201.80 205.50 201.56 206.00 201.32 206.50 201.08 207.00 200.84 207.50 200.61 208.00 200.38 208.50 200.15 209.00 199.92 209.50 199.70 210.00 199.48 210.50 199.26 211.00 199.05 211.50 198.83 212.00 198.62 212.50 198.41 213.00 198.20 213.50 198.00 214.00 197.80 214.50 197.60 215.00 197.40 215.50 197.20 216.00 197.01 216.50 196.82 217.00 196.63 217.50 196.44 218.00 196.26 218.50 196.07 219.00 195.89 219.50 195.71 220.00 195.53 220.50 195.36 221.00 195.19 221.50 195.01 222.00 194.84 222.50 194.67 223.00 194.51 223.50 194.34 224.00 194.18 224.50 194.02 225.00 193.86 225.50 193.70 226.00 193.54 226.50 193.39 227.00 193.24 227.50 193.08 228.00 192.93 228.50 192.79 229.00 192.64 229.50 192.49 230.00 192.35 230.50 192.20 231.00 192.06 231.50 191.92 232.00 191.78 232.50 191.65 233.00 191.51 233.50 191.37 234.00 191.24 234.50 191.11 235.00 190.97 235.50 190.84 236.00 190.71 236.50 190.59 237.00 190.46 237.50 190.33 238.00 190.21 238.50 190.08 239.00 189.96 239.50 189.84 240.00 189.71 240.50 189.59 241.00 189.47 241.50 189.35 242.00 189.24 242.50 189.12 243.00 189.00 243.50 188.89 244.00 188.77 244.50 188.66 245.00 188.55 245.50 188.44 246.00 188.33 246.50 188.22 247.00 188.11 247.50 188.00 248.00 187.90 248.50 187.79 249.00 187.69 249.50 187.58 250.00 187.48 250.50 187.38 251.00 187.29 251.50 187.19 252.00 187.09 252.50 187.00 253.00 186.90 253.50 186.81 254.00 186.72 254.50 186.63 255.00 186.54 255.50 186.45 256.00 186.37 256.50 186.28 257.00 186.20 257.50 186.12 258.00 186.04 258.50 185.96 259.00 185.88 259.50 185.81 260.00 185.73 260.50 185.66 261.00 185.59 261.50 185.52 262.00 185.45 262.50 185.39 263.00 185.32 263.50 185.26 264.00 185.20 264.50 185.14 265.00 185.08 265.50 185.02 266.00 184.97 266.50 184.91 267.00 184.86 267.50 184.81 268.00 184.77 268.50 184.72 269.00 184.68 269.50 184.63 270.00 184.59 270.50 184.55 271.00 184.52 271.50 184.48 272.00 184.45 272.50 184.42 273.00 184.39 273.50 184.36 274.00 184.34 274.50 184.31 275.00 184.29 275.50 184.27 276.00 184.25 276.50 184.24 277.00 184.22 277.50 184.21 278.00 184.20 278.50 184.20 279.00 184.19 279.50 184.19 280.00 184.19 280.50 184.19 281.00 184.19 281.50 184.20 282.00 184.21 282.50 184.22 283.00 184.23 283.50 184.25 284.00 184.26 284.50 184.28 285.00 184.31 285.50 184.33 286.00 184.36 286.50 184.38 287.00 184.42 287.50 184.45 288.00 184.49 288.50 184.52 289.00 184.56 289.50 184.61 290.00 184.65 290.50 184.70 291.00 184.75 291.50 184.81 292.00 184.86 292.50 184.92 293.00 184.98 293.50 185.05 294.00 185.11 294.50 185.18 295.00 185.25 295.50 185.33 296.00 185.40 296.50 185.48 297.00 185.56 297.50 185.65 298.00 185.74 298.50 185.83 299.00 185.92 299.50 186.02 300.00 186.12 300.50 186.22 301.00 186.32 301.50 186.43 302.00 186.54 302.50 186.65 303.00 186.77 303.50 186.89 304.00 187.01 304.50 187.13 305.00 187.26 305.50 187.39 306.00 187.53 306.50 187.66 307.00 187.80 307.50 187.94 308.00 188.09 308.50 188.24 309.00 188.39 309.50 188.55 310.00 188.70 310.50 188.87 311.00 189.03 311.50 189.20 312.00 189.37 312.50 189.54 313.00 189.72 313.50 189.90 314.00 190.08 314.50 190.27 315.00 190.46 315.50 190.65 316.00 190.85 316.50 191.05 317.00 191.25 317.50 191.46 318.00 191.67 318.50 191.89 319.00 192.10 319.50 192.32 320.00 192.55 320.50 192.78 321.00 193.01 321.50 193.24 322.00 193.48 322.50 193.72 322.70 193.82" fill="none" stroke="#ff4646" stroke-width="1.25" stroke-linejoin="round" clip-path="url(#cb)"/><line x1="66.31" y1="275.30" x2="66.31" y2="272.30" stroke="#3a3a3a" stroke-width="0.8"/><line x1="66.31" y1="167.00" x2="66.31" y2="170.00" stroke="#3a3a3a" stroke-width="0.8"/><line x1="112.10" y1="275.30" x2="112.10" y2="272.30" stroke="#3a3a3a" stroke-width="0.8"/><line x1="112.10" y1="167.00" x2="112.10" y2="170.00" stroke="#3a3a3a" stroke-width="0.8"/><line x1="157.88" y1="275.30" x2="157.88" y2="272.30" stroke="#3a3a3a" stroke-width="0.8"/><line x1="157.88" y1="167.00" x2="157.88" y2="170.00" stroke="#3a3a3a" stroke-width="0.8"/><line x1="203.66" y1="275.30" x2="203.66" y2="272.30" stroke="#3a3a3a" stroke-width="0.8"/><line x1="203.66" y1="167.00" x2="203.66" y2="170.00" stroke="#3a3a3a" stroke-width="0.8"/><line x1="249.45" y1="275.30" x2="249.45" y2="272.30" stroke="#3a3a3a" stroke-width="0.8"/><line x1="249.45" y1="167.00" x2="249.45" y2="170.00" stroke="#3a3a3a" stroke-width="0.8"/><line x1="295.23" y1="275.30" x2="295.23" y2="272.30" stroke="#3a3a3a" stroke-width="0.8"/><line x1="295.23" y1="167.00" x2="295.23" y2="170.00" stroke="#3a3a3a" stroke-width="0.8"/><line x1="89.20" y1="275.30" x2="89.20" y2="273.20" stroke="#3a3a3a" stroke-width="0.8"/><line x1="89.20" y1="167.00" x2="89.20" y2="169.10" stroke="#3a3a3a" stroke-width="0.8"/><line x1="134.99" y1="275.30" x2="134.99" y2="273.20" stroke="#3a3a3a" stroke-width="0.8"/><line x1="134.99" y1="167.00" x2="134.99" y2="169.10" stroke="#3a3a3a" stroke-width="0.8"/><line x1="180.77" y1="275.30" x2="180.77" y2="273.20" stroke="#3a3a3a" stroke-width="0.8"/><line x1="180.77" y1="167.00" x2="180.77" y2="169.10" stroke="#3a3a3a" stroke-width="0.8"/><line x1="226.56" y1="275.30" x2="226.56" y2="273.20" stroke="#3a3a3a" stroke-width="0.8"/><line x1="226.56" y1="167.00" x2="226.56" y2="169.10" stroke="#3a3a3a" stroke-width="0.8"/><line x1="272.34" y1="275.30" x2="272.34" y2="273.20" stroke="#3a3a3a" stroke-width="0.8"/><line x1="272.34" y1="167.00" x2="272.34" y2="169.10" stroke="#3a3a3a" stroke-width="0.8"/><line x1="318.12" y1="275.30" x2="318.12" y2="273.20" stroke="#3a3a3a" stroke-width="0.8"/><line x1="318.12" y1="167.00" x2="318.12" y2="169.10" stroke="#3a3a3a" stroke-width="0.8"/><line x1="48.00" y1="265.45" x2="51.00" y2="265.45" stroke="#3a3a3a" stroke-width="0.8"/><line x1="322.70" y1="265.45" x2="319.70" y2="265.45" stroke="#3a3a3a" stroke-width="0.8"/><line x1="48.00" y1="245.76" x2="51.00" y2="245.76" stroke="#3a3a3a" stroke-width="0.8"/><line x1="322.70" y1="245.76" x2="319.70" y2="245.76" stroke="#3a3a3a" stroke-width="0.8"/><line x1="48.00" y1="226.07" x2="51.00" y2="226.07" stroke="#3a3a3a" stroke-width="0.8"/><line x1="322.70" y1="226.07" x2="319.70" y2="226.07" stroke="#3a3a3a" stroke-width="0.8"/><line x1="48.00" y1="206.38" x2="51.00" y2="206.38" stroke="#3a3a3a" stroke-width="0.8"/><line x1="322.70" y1="206.38" x2="319.70" y2="206.38" stroke="#3a3a3a" stroke-width="0.8"/><line x1="48.00" y1="186.69" x2="51.00" y2="186.69" stroke="#3a3a3a" stroke-width="0.8"/><line x1="322.70" y1="186.69" x2="319.70" y2="186.69" stroke="#3a3a3a" stroke-width="0.8"/><line x1="48.00" y1="167.00" x2="51.00" y2="167.00" stroke="#3a3a3a" stroke-width="0.8"/><line x1="322.70" y1="167.00" x2="319.70" y2="167.00" stroke="#3a3a3a" stroke-width="0.8"/><line x1="48.00" y1="255.61" x2="50.10" y2="255.61" stroke="#3a3a3a" stroke-width="0.8"/><line x1="322.70" y1="255.61" x2="320.60" y2="255.61" stroke="#3a3a3a" stroke-width="0.8"/><line x1="48.00" y1="235.92" x2="50.10" y2="235.92" stroke="#3a3a3a" stroke-width="0.8"/><line x1="322.70" y1="235.92" x2="320.60" y2="235.92" stroke="#3a3a3a" stroke-width="0.8"/><line x1="48.00" y1="216.23" x2="50.10" y2="216.23" stroke="#3a3a3a" stroke-width="0.8"/><line x1="322.70" y1="216.23" x2="320.60" y2="216.23" stroke="#3a3a3a" stroke-width="0.8"/><line x1="48.00" y1="196.54" x2="50.10" y2="196.54" stroke="#3a3a3a" stroke-width="0.8"/><line x1="322.70" y1="196.54" x2="320.60" y2="196.54" stroke="#3a3a3a" stroke-width="0.8"/><line x1="48.00" y1="176.85" x2="50.10" y2="176.85" stroke="#3a3a3a" stroke-width="0.8"/><line x1="322.70" y1="176.85" x2="320.60" y2="176.85" stroke="#3a3a3a" stroke-width="0.8"/><rect x="47.15" y="166.20" width="276.75" height="1.60" fill="#aaa"/><rect x="47.15" y="274.50" width="276.75" height="1.40" fill="#707070"/><rect x="47.15" y="166.20" width="1.70" height="109.70" fill="#a8a8a8"/><rect x="321.90" y="166.20" width="2.00" height="109.70" fill="#a0a0a0"/><text transform="translate(66.31 285.60) scale(0.947 1)" font-size="9.6" text-anchor="middle" fill="#222">700</text><text transform="translate(112.10 285.60) scale(0.947 1)" font-size="9.6" text-anchor="middle" fill="#222">750</text><text transform="translate(157.88 285.60) scale(0.947 1)" font-size="9.6" text-anchor="middle" fill="#222">800</text><text transform="translate(203.66 285.60) scale(0.947 1)" font-size="9.6" text-anchor="middle" fill="#222">850</text><text transform="translate(249.45 285.60) scale(0.947 1)" font-size="9.6" text-anchor="middle" fill="#222">900</text><text transform="translate(295.23 285.60) scale(0.947 1)" font-size="9.6" text-anchor="middle" fill="#222">950</text><text transform="translate(44.70 268.39) scale(0.947 1)" font-size="9.6" text-anchor="end" fill="#222">2</text><text transform="translate(44.70 248.70) scale(0.947 1)" font-size="9.6" text-anchor="end" fill="#222">4</text><text transform="translate(44.70 229.01) scale(0.947 1)" font-size="9.6" text-anchor="end" fill="#222">6</text><text transform="translate(44.70 209.32) scale(0.947 1)" font-size="9.6" text-anchor="end" fill="#222">8</text><text transform="translate(44.70 189.63) scale(0.947 1)" font-size="9.6" text-anchor="end" fill="#222">10</text><text transform="translate(44.70 169.94) scale(0.947 1)" font-size="9.6" text-anchor="end" fill="#222">12</text><text transform="translate(149.50 298.40) scale(0.94 1)" font-size="9.9" fill="#222">Wavelength (nm)</text><text transform="translate(26.30 266.50) rotate(-90)" font-size="9" fill="#222">Normalized Scattering</text><text x="0.00" y="170.60" font-size="15" font-weight="bold" fill="#111">(b)</text><line x1="63.60" y1="173.70" x2="79.30" y2="173.70" stroke="#3c3cff" stroke-width="1.2"/><text x="81.70" y="176.20" font-size="7" fill="#222" stroke="#222" stroke-width="0.2">d = 15 nm</text><line x1="63.60" y1="182.30" x2="79.30" y2="182.30" stroke="#3ddc3d" stroke-width="1.2"/><text x="81.70" y="184.80" font-size="7" fill="#222" stroke="#222" stroke-width="0.2">d = 35 nm</text><line x1="63.60" y1="191.00" x2="79.30" y2="191.00" stroke="#ff4646" stroke-width="1.2"/><text x="81.70" y="193.50" font-size="7" fill="#222" stroke="#222" stroke-width="0.2">d = 55 nm</text></g>
<g><clipPath id="ce"><rect x="399.50" y="166.00" width="274.80" height="109.80"/></clipPath><path d="M399.00 214.44 399.50 214.32 400.00 214.21 400.50 214.10 401.00 213.99 401.50 213.88 402.00 213.77 402.50 213.66 403.00 213.56 403.50 213.45 404.00 213.35 404.50 213.25 405.00 213.15 405.50 213.05 406.00 212.96 406.50 212.87 407.00 212.77 407.50 212.69 408.00 212.60 408.50 212.51 409.00 212.43 409.50 212.35 410.00 212.27 410.50 212.20 411.00 212.13 411.50 212.06 412.00 211.99 412.50 211.93 413.00 211.87 413.50 211.81 414.00 211.75 414.50 211.70 415.00 211.65 415.50 211.61 416.00 211.57 416.50 211.53 417.00 211.50 417.50 211.46 418.00 211.44 418.50 211.41 419.00 211.40 419.50 211.38 420.00 211.37 420.50 211.36 421.00 211.36 421.50 211.36 422.00 211.37 422.50 211.38 423.00 211.39 423.50 211.41 424.00 211.43 424.50 211.46 425.00 211.49 425.50 211.53 426.00 211.58 426.50 211.62 427.00 211.68 427.50 211.74 428.00 211.80 428.50 211.87 429.00 211.94 429.50 212.02 430.00 212.11 430.50 212.20 431.00 212.30 431.50 212.40 432.00 212.51 432.50 212.62 433.00 212.74 433.50 212.87 434.00 213.00 434.50 213.14 435.00 213.29 435.50 213.44 436.00 213.60 436.50 213.76 437.00 213.94 437.50 214.11 438.00 214.30 438.50 214.49 439.00 214.69 439.50 214.90 440.00 215.12 440.50 215.34 441.00 215.58 441.50 215.82 442.00 216.07 442.50 216.33 443.00 216.60 443.50 216.88 444.00 217.18 444.50 217.48 445.00 217.80 445.50 218.12 446.00 218.46 446.50 218.81 447.00 219.17 447.50 219.55 448.00 219.94 448.50 220.34 449.00 220.75 449.50 221.18 450.00 221.62 450.50 222.08 451.00 222.56 451.50 223.04 452.00 223.55 452.50 224.07 453.00 224.60 453.50 225.15 454.00 225.72 454.50 226.30 455.00 226.90 455.50 227.51 456.00 228.13 456.50 228.77 457.00 229.42 457.50 230.09 458.00 230.77 458.50 231.46 459.00 232.16 459.50 232.88 460.00 233.60 460.50 234.34 461.00 235.09 461.50 235.85 462.00 236.62 462.50 237.39 463.00 238.18 463.50 238.98 464.00 239.78 464.50 240.60 465.00 241.42 465.50 242.25 466.00 243.09 466.50 243.93 467.00 244.79 467.50 245.64 468.00 246.51 468.50 247.38 469.00 248.26 469.50 249.14 470.00 250.02 470.50 250.91 471.00 251.79 471.50 252.68 472.00 253.56 472.50 254.44 473.00 255.31 473.50 256.18 474.00 257.03 474.50 257.88 475.00 258.71 475.50 259.52 476.00 260.31 476.50 261.08 477.00 261.82 477.50 262.53 478.00 263.22 478.50 263.88 479.00 264.49 479.50 265.08 480.00 265.62 480.50 266.12 481.00 266.58 481.50 266.99 482.00 267.36 482.50 267.70 483.00 267.99 483.50 268.25 484.00 268.46 484.50 268.64 485.00 268.79 485.50 268.89 486.00 268.97 486.50 269.01 487.00 269.02 487.50 268.99 488.00 268.94 488.50 268.85 489.00 268.74 489.50 268.60 490.00 268.43 490.50 268.24 491.00 268.02 491.50 267.77 492.00 267.50 492.50 267.21 493.00 266.90 493.50 266.57 494.00 266.21 494.50 265.84 495.00 265.45 495.50 265.04 496.00 264.61 496.50 264.17 497.00 263.72 497.50 263.25 498.00 262.76 498.50 262.27 499.00 261.76 499.50 261.25 500.00 260.72 500.50 260.18 501.00 259.64 501.50 259.09 502.00 258.53 502.50 257.96 503.00 257.39 503.50 256.82 504.00 256.24 504.50 255.65 505.00 255.07 505.50 254.48 506.00 253.89 506.50 253.30 507.00 252.71 507.50 252.12 508.00 251.53 508.50 250.95 509.00 250.37 509.50 249.79 510.00 249.22 510.50 248.65 511.00 248.09 511.50 247.53 512.00 246.99 512.50 246.45 513.00 245.92 513.50 245.40 514.00 244.89 514.50 244.39 515.00 243.90 515.50 243.41 516.00 242.94 516.50 242.48 517.00 242.02 517.50 241.57 518.00 241.13 518.50 240.70 519.00 240.28 519.50 239.86 520.00 239.45 520.50 239.05 521.00 238.66 521.50 238.27 522.00 237.89 522.50 237.52 523.00 237.15 523.50 236.79 524.00 236.43 524.50 236.08 525.00 235.74 525.50 235.40 526.00 235.06 526.50 234.73 527.00 234.41 527.50 234.09 528.00 233.78 528.50 233.47 529.00 233.16 529.50 232.86 530.00 232.56 530.50 232.26 531.00 231.97 531.50 231.68 532.00 231.40 532.50 231.12 533.00 230.85 533.50 230.57 534.00 230.31 534.50 230.04 535.00 229.78 535.50 229.52 536.00 229.27 536.50 229.02 537.00 228.77 537.50 228.53 538.00 228.29 538.50 228.06 539.00 227.82 539.50 227.60 540.00 227.37 540.50 227.15 541.00 226.93 541.50 226.72 542.00 226.50 542.50 226.30 543.00 226.09 543.50 225.89 544.00 225.69 544.50 225.49 545.00 225.30 545.50 225.11 546.00 224.93 546.50 224.75 547.00 224.57 547.50 224.39 548.00 224.22 548.50 224.05 549.00 223.88 549.50 223.71 550.00 223.55 550.50 223.39 551.00 223.24 551.50 223.09 552.00 222.94 552.50 222.79 553.00 222.65 553.50 222.50 554.00 222.37 554.50 222.23 555.00 222.10 555.50 221.97 556.00 221.84 556.50 221.71 557.00 221.59 557.50 221.47 558.00 221.35 558.50 221.24 559.00 221.13 559.50 221.02 560.00 220.91 560.50 220.80 561.00 220.70 561.50 220.60 562.00 220.50 562.50 220.41 563.00 220.31 563.50 220.22 564.00 220.13 564.50 220.05 565.00 219.96 565.50 219.88 566.00 219.80 566.50 219.72 567.00 219.65 567.50 219.57 568.00 219.50 568.50 219.43 569.00 219.37 569.50 219.30 570.00 219.24 570.50 219.18 571.00 219.12 571.50 219.06 572.00 219.00 572.50 218.95 573.00 218.90 573.50 218.85 574.00 218.80 574.50 218.75 575.00 218.71 575.50 218.67 576.00 218.62 576.50 218.58 577.00 218.55 577.50 218.51 578.00 218.48 578.50 218.44 579.00 218.41 579.50 218.38 580.00 218.36 580.50 218.33 581.00 218.30 581.50 218.28 582.00 218.26 582.50 218.24 583.00 218.22 583.50 218.21 584.00 218.19 584.50 218.18 585.00 218.17 585.50 218.16 586.00 218.15 586.50 218.14 587.00 218.13 587.50 218.13 588.00 218.13 588.50 218.13 589.00 218.13 589.50 218.13 590.00 218.13 590.50 218.14 591.00 218.14 591.50 218.15 592.00 218.16 592.50 218.17 593.00 218.18 593.50 218.19 594.00 218.20 594.50 218.22 595.00 218.24 595.50 218.25 596.00 218.27 596.50 218.29 597.00 218.32 597.50 218.34 598.00 218.36 598.50 218.39 599.00 218.41 599.50 218.44 600.00 218.47 600.50 218.50 601.00 218.53 601.50 218.56 602.00 218.60 602.50 218.63 603.00 218.67 603.50 218.70 604.00 218.74 604.50 218.78 605.00 218.82 605.50 218.86 606.00 218.90 606.50 218.95 607.00 218.99 607.50 219.04 608.00 219.08 608.50 219.13 609.00 219.18 609.50 219.23 610.00 219.28 610.50 219.33 611.00 219.38 611.50 219.43 612.00 219.49 612.50 219.54 613.00 219.59 613.50 219.65 614.00 219.71 614.50 219.77 615.00 219.82 615.50 219.88 616.00 219.94 616.50 220.01 617.00 220.07 617.50 220.13 618.00 220.19 618.50 220.26 619.00 220.32 619.50 220.39 620.00 220.45 620.50 220.52 621.00 220.59 621.50 220.66 622.00 220.73 622.50 220.79 623.00 220.86 623.50 220.94 624.00 221.01 624.50 221.08 625.00 221.15 625.50 221.22 626.00 221.30 626.50 221.37 627.00 221.45 627.50 221.52 628.00 221.60 628.50 221.67 629.00 221.75 629.50 221.83 630.00 221.91 630.50 221.98 631.00 222.06 631.50 222.14 632.00 222.22 632.50 222.30 633.00 222.38 633.50 222.46 634.00 222.54 634.50 222.62 635.00 222.71 635.50 222.79 636.00 222.87 636.50 222.95 637.00 223.03 637.50 223.12 638.00 223.20 638.50 223.29 639.00 223.37 639.50 223.45 640.00 223.54 640.50 223.62 641.00 223.71 641.50 223.79 642.00 223.88 642.50 223.96 643.00 224.05 643.50 224.13 644.00 224.22 644.50 224.30 645.00 224.39 645.50 224.48 646.00 224.56 646.50 224.65 647.00 224.73 647.50 224.82 648.00 224.91 648.50 224.99 649.00 225.08 649.50 225.17 650.00 225.25 650.50 225.34 651.00 225.42 651.50 225.51 652.00 225.60 652.50 225.68 653.00 225.77 653.50 225.85 654.00 225.94 654.50 226.03 655.00 226.11 655.50 226.20 656.00 226.28 656.50 226.37 657.00 226.45 657.50 226.53 658.00 226.62 658.50 226.70 659.00 226.79 659.50 226.87 660.00 226.95 660.50 227.04 661.00 227.12 661.50 227.20 662.00 227.28 662.50 227.37 663.00 227.45 663.50 227.53 664.00 227.61 664.50 227.69 665.00 227.77 665.50 227.85 666.00 227.93 666.50 228.01 667.00 228.09 667.50 228.16 668.00 228.24 668.50 228.32 669.00 228.40 669.50 228.47 670.00 228.55 670.50 228.62 671.00 228.70 671.50 228.77 672.00 228.84 672.50 228.92 673.00 228.99 673.50 229.06 674.00 229.13 674.10 229.15" fill="none" stroke="#3c3cff" stroke-width="1.25" stroke-linejoin="round" clip-path="url(#ce)"/><path d="M399.00 221.48 399.50 221.24 400.00 221.00 400.50 220.77 401.00 220.54 401.50 220.32 402.00 220.09 402.50 219.87 403.00 219.66 403.50 219.44 404.00 219.23 404.50 219.02 405.00 218.82 405.50 218.62 406.00 218.42 406.50 218.23 407.00 218.03 407.50 217.85 408.00 217.66 408.50 217.48 409.00 217.30 409.50 217.13 410.00 216.96 410.50 216.79 411.00 216.63 411.50 216.47 412.00 216.31 412.50 216.16 413.00 216.01 413.50 215.87 414.00 215.73 414.50 215.59 415.00 215.46 415.50 215.33 416.00 215.21 416.50 215.09 417.00 214.97 417.50 214.86 418.00 214.75 418.50 214.65 419.00 214.55 419.50 214.46 420.00 214.37 420.50 214.28 421.00 214.20 421.50 214.12 422.00 214.05 422.50 213.98 423.00 213.92 423.50 213.86 424.00 213.81 424.50 213.76 425.00 213.71 425.50 213.67 426.00 213.64 426.50 213.61 427.00 213.59 427.50 213.57 428.00 213.55 428.50 213.54 429.00 213.54 429.50 213.54 430.00 213.54 430.50 213.55 431.00 213.57 431.50 213.59 432.00 213.62 432.50 213.65 433.00 213.69 433.50 213.73 434.00 213.78 434.50 213.84 435.00 213.90 435.50 213.96 436.00 214.03 436.50 214.11 437.00 214.19 437.50 214.28 438.00 214.38 438.50 214.48 439.00 214.58 439.50 214.69 440.00 214.81 440.50 214.94 441.00 215.07 441.50 215.20 442.00 215.34 442.50 215.49 443.00 215.65 443.50 215.81 444.00 215.98 444.50 216.15 445.00 216.33 445.50 216.52 446.00 216.71 446.50 216.91 447.00 217.12 447.50 217.33 448.00 217.56 448.50 217.79 449.00 218.03 449.50 218.28 450.00 218.54 450.50 218.82 451.00 219.10 451.50 219.39 452.00 219.69 452.50 220.01 453.00 220.33 453.50 220.67 454.00 221.03 454.50 221.40 455.00 221.79 455.50 222.21 456.00 222.65 456.50 223.11 457.00 223.60 457.50 224.11 458.00 224.64 458.50 225.18 459.00 225.73 459.50 226.28 460.00 226.83 460.50 227.37 461.00 227.90 461.50 228.42 462.00 228.93 462.50 229.43 463.00 229.91 463.50 230.39 464.00 230.85 464.50 231.31 465.00 231.75 465.50 232.19 466.00 232.61 466.50 233.02 467.00 233.43 467.50 233.82 468.00 234.20 468.50 234.58 469.00 234.94 469.50 235.30 470.00 235.64 470.50 235.98 471.00 236.31 471.50 236.62 472.00 236.93 472.50 237.22 473.00 237.50 473.50 237.76 474.00 238.01 474.50 238.24 475.00 238.45 475.50 238.65 476.00 238.83 476.50 238.98 477.00 239.11 477.50 239.23 478.00 239.32 478.50 239.39 479.00 239.44 479.50 239.47 480.00 239.49 480.50 239.48 481.00 239.46 481.50 239.42 482.00 239.37 482.50 239.30 483.00 239.22 483.50 239.12 484.00 239.01 484.50 238.88 485.00 238.75 485.50 238.60 486.00 238.44 486.50 238.26 487.00 238.08 487.50 237.89 488.00 237.69 488.50 237.48 489.00 237.27 489.50 237.04 490.00 236.81 490.50 236.58 491.00 236.34 491.50 236.09 492.00 235.84 492.50 235.58 493.00 235.32 493.50 235.06 494.00 234.80 494.50 234.54 495.00 234.27 495.50 234.01 496.00 233.74 496.50 233.48 497.00 233.22 497.50 232.95 498.00 232.69 498.50 232.44 499.00 232.18 499.50 231.93 500.00 231.68 500.50 231.43 501.00 231.19 501.50 230.95 502.00 230.72 502.50 230.49 503.00 230.26 503.50 230.04 504.00 229.83 504.50 229.62 505.00 229.42 505.50 229.23 506.00 229.04 506.50 228.86 507.00 228.68 507.50 228.52 508.00 228.36 508.50 228.21 509.00 228.08 509.50 227.94 510.00 227.82 510.50 227.71 511.00 227.61 511.50 227.52 512.00 227.44 512.50 227.37 513.00 227.30 513.50 227.24 514.00 227.20 514.50 227.16 515.00 227.12 515.50 227.10 516.00 227.08 516.50 227.07 517.00 227.07 517.50 227.07 518.00 227.08 518.50 227.09 519.00 227.11 519.50 227.14 520.00 227.17 520.50 227.21 521.00 227.25 521.50 227.30 522.00 227.35 522.50 227.40 523.00 227.46 523.50 227.52 524.00 227.59 524.50 227.66 525.00 227.73 525.50 227.81 526.00 227.88 526.50 227.96 527.00 228.04 527.50 228.13 528.00 228.21 528.50 228.30 529.00 228.38 529.50 228.47 530.00 228.56 530.50 228.65 531.00 228.74 531.50 228.83 532.00 228.92 532.50 229.02 533.00 229.11 533.50 229.21 534.00 229.31 534.50 229.40 535.00 229.50 535.50 229.60 536.00 229.70 536.50 229.80 537.00 229.91 537.50 230.01 538.00 230.12 538.50 230.22 539.00 230.33 539.50 230.44 540.00 230.55 540.50 230.66 541.00 230.77 541.50 230.89 542.00 231.00 542.50 231.12 543.00 231.23 543.50 231.35 544.00 231.47 544.50 231.59 545.00 231.71 545.50 231.84 546.00 231.96 546.50 232.09 547.00 232.21 547.50 232.34 548.00 232.47 548.50 232.60 549.00 232.73 549.50 232.87 550.00 233.00 550.50 233.14 551.00 233.28 551.50 233.41 552.00 233.56 552.50 233.70 553.00 233.84 553.50 233.99 554.00 234.13 554.50 234.28 555.00 234.43 555.50 234.58 556.00 234.73 556.50 234.88 557.00 235.04 557.50 235.20 558.00 235.35 558.50 235.51 559.00 235.67 559.50 235.84 560.00 236.00 560.50 236.17 561.00 236.34 561.50 236.50 562.00 236.68 562.50 236.85 563.00 237.02 563.50 237.20 564.00 237.37 564.50 237.55 565.00 237.73 565.50 237.92 566.00 238.10 566.50 238.29 567.00 238.47 567.50 238.66 568.00 238.85 568.50 239.04 569.00 239.24 569.50 239.44 570.00 239.63 570.50 239.83 571.00 240.03 571.50 240.24 572.00 240.44 572.50 240.65 573.00 240.86 573.50 241.07 574.00 241.28 574.50 241.49 575.00 241.70 575.50 241.92 576.00 242.13 576.50 242.34 577.00 242.55 577.50 242.76 578.00 242.97 578.50 243.18 579.00 243.38 579.50 243.58 580.00 243.78 580.50 243.98 581.00 244.17 581.50 244.36 582.00 244.55 582.50 244.73 583.00 244.90 583.50 245.08 584.00 245.24 584.50 245.40 585.00 245.56 585.50 245.70 586.00 245.84 586.50 245.98 587.00 246.11 587.50 246.23 588.00 246.34 588.50 246.44 589.00 246.54 589.50 246.62 590.00 246.70 590.50 246.77 591.00 246.83 591.50 246.88 592.00 246.93 592.50 246.98 593.00 247.02 593.50 247.07 594.00 247.12 594.50 247.17 595.00 247.22 595.50 247.29 596.00 247.35 596.50 247.43 597.00 247.51 597.50 247.60 598.00 247.69 598.50 247.79 599.00 247.89 599.50 248.00 600.00 248.11 600.50 248.23 601.00 248.35 601.50 248.47 602.00 248.60 602.50 248.74 603.00 248.88 603.50 249.02 604.00 249.17 604.50 249.32 605.00 249.47 605.50 249.62 606.00 249.78 606.50 249.94 607.00 250.11 607.50 250.27 608.00 250.44 608.50 250.61 609.00 250.78 609.50 250.96 610.00 251.13 610.50 251.31 611.00 251.48 611.50 251.66 612.00 251.84 612.50 252.02 613.00 252.20 613.50 252.37 614.00 252.55 614.50 252.73 615.00 252.91 615.50 253.08 616.00 253.26 616.50 253.43 617.00 253.60 617.50 253.77 618.00 253.94 618.50 254.10 619.00 254.27 619.50 254.43 620.00 254.59 620.50 254.74 621.00 254.90 621.50 255.05 622.00 255.20 622.50 255.35 623.00 255.50 623.50 255.64 624.00 255.79 624.50 255.93 625.00 256.07 625.50 256.21 626.00 256.34 626.50 256.48 627.00 256.61 627.50 256.74 628.00 256.87 628.50 256.99 629.00 257.12 629.50 257.24 630.00 257.36 630.50 257.48 631.00 257.60 631.50 257.71 632.00 257.83 632.50 257.94 633.00 258.05 633.50 258.16 634.00 258.27 634.50 258.37 635.00 258.48 635.50 258.58 636.00 258.68 636.50 258.78 637.00 258.88 637.50 258.98 638.00 259.07 638.50 259.17 639.00 259.26 639.50 259.35 640.00 259.44 640.50 259.53 641.00 259.61 641.50 259.70 642.00 259.78 642.50 259.87 643.00 259.95 643.50 260.03 644.00 260.11 644.50 260.18 645.00 260.26 645.50 260.34 646.00 260.41 646.50 260.48 647.00 260.55 647.50 260.62 648.00 260.69 648.50 260.76 649.00 260.83 649.50 260.89 650.00 260.96 650.50 261.02 651.00 261.08 651.50 261.15 652.00 261.21 652.50 261.27 653.00 261.32 653.50 261.38 654.00 261.44 654.50 261.49 655.00 261.55 655.50 261.60 656.00 261.66 656.50 261.71 657.00 261.76 657.50 261.81 658.00 261.86 658.50 261.91 659.00 261.96 659.50 262.00 660.00 262.05 660.50 262.09 661.00 262.14 661.50 262.18 662.00 262.23 662.50 262.27 663.00 262.31 663.50 262.35 664.00 262.40 664.50 262.44 665.00 262.48 665.50 262.51 666.00 262.55 666.50 262.59 667.00 262.63 667.50 262.67 668.00 262.70 668.50 262.74 669.00 262.78 669.50 262.81 670.00 262.85 670.50 262.88 671.00 262.91 671.50 262.95 672.00 262.98 672.50 263.01 673.00 263.05 673.50 263.08 674.00 263.11 674.10 263.12" fill="none" stroke="#33d99a" stroke-width="1.25" stroke-linejoin="round" clip-path="url(#ce)"/><path d="M399.00 252.66 399.50 252.47 400.00 252.28 400.50 252.08 401.00 251.87 401.50 251.66 402.00 251.45 402.50 251.23 403.00 251.01 403.50 250.79 404.00 250.56 404.50 250.33 405.00 250.10 405.50 249.86 406.00 249.63 406.50 249.38 407.00 249.14 407.50 248.89 408.00 248.65 408.50 248.40 409.00 248.14 409.50 247.89 410.00 247.63 410.50 247.38 411.00 247.12 411.50 246.86 412.00 246.60 412.50 246.34 413.00 246.08 413.50 245.82 414.00 245.55 414.50 245.29 415.00 245.03 415.50 244.77 416.00 244.50 416.50 244.24 417.00 243.98 417.50 243.72 418.00 243.46 418.50 243.20 419.00 242.95 419.50 242.69 420.00 242.43 420.50 242.18 421.00 241.93 421.50 241.68 422.00 241.43 422.50 241.19 423.00 240.95 423.50 240.71 424.00 240.47 424.50 240.23 425.00 240.00 425.50 239.77 426.00 239.54 426.50 239.31 427.00 239.08 427.50 238.86 428.00 238.64 428.50 238.42 429.00 238.20 429.50 237.98 430.00 237.77 430.50 237.56 431.00 237.35 431.50 237.14 432.00 236.93 432.50 236.72 433.00 236.52 433.50 236.32 434.00 236.12 434.50 235.92 435.00 235.72 435.50 235.53 436.00 235.33 436.50 235.14 437.00 234.95 437.50 234.76 438.00 234.57 438.50 234.39 439.00 234.20 439.50 234.02 440.00 233.84 440.50 233.65 441.00 233.48 441.50 233.30 442.00 233.12 442.50 232.94 443.00 232.77 443.50 232.60 444.00 232.42 444.50 232.25 445.00 232.08 445.50 231.91 446.00 231.75 446.50 231.58 447.00 231.41 447.50 231.25 448.00 231.08 448.50 230.92 449.00 230.75 449.50 230.58 450.00 230.42 450.50 230.25 451.00 230.08 451.50 229.92 452.00 229.75 452.50 229.58 453.00 229.41 453.50 229.23 454.00 229.06 454.50 228.88 455.00 228.70 455.50 228.52 456.00 228.34 456.50 228.15 457.00 227.96 457.50 227.78 458.00 227.59 458.50 227.41 459.00 227.23 459.50 227.06 460.00 226.90 460.50 226.75 461.00 226.61 461.50 226.49 462.00 226.39 462.50 226.31 463.00 226.25 463.50 226.21 464.00 226.20 464.50 226.22 465.00 226.26 465.50 226.33 466.00 226.43 466.50 226.54 467.00 226.68 467.50 226.83 468.00 227.00 468.50 227.19 469.00 227.38 469.50 227.59 470.00 227.81 470.50 228.03 471.00 228.27 471.50 228.50 472.00 228.74 472.50 228.98 473.00 229.21 473.50 229.45 474.00 229.68 474.50 229.90 475.00 230.11 475.50 230.32 476.00 230.51 476.50 230.69 477.00 230.85 477.50 230.99 478.00 231.12 478.50 231.23 479.00 231.31 479.50 231.37 480.00 231.40 480.50 231.41 481.00 231.38 481.50 231.33 482.00 231.26 482.50 231.16 483.00 231.03 483.50 230.89 484.00 230.72 484.50 230.53 485.00 230.32 485.50 230.10 486.00 229.86 486.50 229.60 487.00 229.33 487.50 229.05 488.00 228.75 488.50 228.45 489.00 228.13 489.50 227.81 490.00 227.48 490.50 227.15 491.00 226.81 491.50 226.47 492.00 226.13 492.50 225.78 493.00 225.43 493.50 225.09 494.00 224.74 494.50 224.40 495.00 224.05 495.50 223.71 496.00 223.37 496.50 223.03 497.00 222.69 497.50 222.35 498.00 222.02 498.50 221.69 499.00 221.37 499.50 221.05 500.00 220.73 500.50 220.42 501.00 220.12 501.50 219.82 502.00 219.52 502.50 219.23 503.00 218.95 503.50 218.66 504.00 218.39 504.50 218.11 505.00 217.85 505.50 217.58 506.00 217.32 506.50 217.06 507.00 216.81 507.50 216.56 508.00 216.32 508.50 216.07 509.00 215.84 509.50 215.60 510.00 215.37 510.50 215.14 511.00 214.91 511.50 214.69 512.00 214.47 512.50 214.25 513.00 214.03 513.50 213.82 514.00 213.61 514.50 213.40 515.00 213.19 515.50 212.99 516.00 212.78 516.50 212.58 517.00 212.38 517.50 212.18 518.00 211.98 518.50 211.79 519.00 211.59 519.50 211.40 520.00 211.21 520.50 211.02 521.00 210.83 521.50 210.64 522.00 210.45 522.50 210.26 523.00 210.07 523.50 209.88 524.00 209.69 524.50 209.50 525.00 209.31 525.50 209.12 526.00 208.93 526.50 208.74 527.00 208.55 527.50 208.36 528.00 208.17 528.50 207.98 529.00 207.79 529.50 207.59 530.00 207.40 530.50 207.20 531.00 207.00 531.50 206.81 532.00 206.61 532.50 206.41 533.00 206.21 533.50 206.01 534.00 205.81 534.50 205.60 535.00 205.40 535.50 205.20 536.00 204.99 536.50 204.79 537.00 204.58 537.50 204.38 538.00 204.17 538.50 203.97 539.00 203.76 539.50 203.55 540.00 203.35 540.50 203.14 541.00 202.93 541.50 202.73 542.00 202.52 542.50 202.31 543.00 202.10 543.50 201.89 544.00 201.69 544.50 201.48 545.00 201.27 545.50 201.06 546.00 200.86 546.50 200.65 547.00 200.44 547.50 200.23 548.00 200.03 548.50 199.82 549.00 199.62 549.50 199.41 550.00 199.21 550.50 199.00 551.00 198.80 551.50 198.59 552.00 198.39 552.50 198.19 553.00 197.99 553.50 197.78 554.00 197.58 554.50 197.38 555.00 197.18 555.50 196.99 556.00 196.79 556.50 196.59 557.00 196.40 557.50 196.20 558.00 196.01 558.50 195.81 559.00 195.62 559.50 195.43 560.00 195.24 560.50 195.05 561.00 194.86 561.50 194.68 562.00 194.49 562.50 194.31 563.00 194.13 563.50 193.94 564.00 193.76 564.50 193.59 565.00 193.41 565.50 193.23 566.00 193.06 566.50 192.89 567.00 192.72 567.50 192.55 568.00 192.38 568.50 192.21 569.00 192.05 569.50 191.88 570.00 191.72 570.50 191.56 571.00 191.41 571.50 191.25 572.00 191.10 572.50 190.94 573.00 190.80 573.50 190.65 574.00 190.50 574.50 190.36 575.00 190.21 575.50 190.07 576.00 189.93 576.50 189.79 577.00 189.66 577.50 189.52 578.00 189.39 578.50 189.25 579.00 189.12 579.50 188.99 580.00 188.86 580.50 188.73 581.00 188.60 581.50 188.47 582.00 188.35 582.50 188.22 583.00 188.09 583.50 187.97 584.00 187.84 584.50 187.72 585.00 187.59 585.50 187.47 586.00 187.34 586.50 187.22 587.00 187.09 587.50 186.97 588.00 186.84 588.50 186.72 589.00 186.59 589.50 186.46 590.00 186.34 590.50 186.21 591.00 186.08 591.50 185.95 592.00 185.82 592.50 185.69 593.00 185.56 593.50 185.43 594.00 185.29 594.50 185.16 595.00 185.02 595.50 184.88 596.00 184.75 596.50 184.61 597.00 184.46 597.50 184.32 598.00 184.18 598.50 184.03 599.00 183.89 599.50 183.74 600.00 183.60 600.50 183.45 601.00 183.30 601.50 183.15 602.00 183.01 602.50 182.86 603.00 182.71 603.50 182.56 604.00 182.41 604.50 182.26 605.00 182.11 605.50 181.96 606.00 181.81 606.50 181.66 607.00 181.51 607.50 181.36 608.00 181.21 608.50 181.06 609.00 180.92 609.50 180.77 610.00 180.62 610.50 180.48 611.00 180.33 611.50 180.19 612.00 180.04 612.50 179.90 613.00 179.76 613.50 179.62 614.00 179.48 614.50 179.34 615.00 179.20 615.50 179.07 616.00 178.93 616.50 178.80 617.00 178.67 617.50 178.54 618.00 178.41 618.50 178.29 619.00 178.16 619.50 178.04 620.00 177.92 620.50 177.80 621.00 177.69 621.50 177.57 622.00 177.46 622.50 177.34 623.00 177.23 623.50 177.12 624.00 177.01 624.50 176.91 625.00 176.80 625.50 176.70 626.00 176.60 626.50 176.50 627.00 176.40 627.50 176.30 628.00 176.20 628.50 176.11 629.00 176.01 629.50 175.92 630.00 175.83 630.50 175.74 631.00 175.65 631.50 175.56 632.00 175.47 632.50 175.38 633.00 175.30 633.50 175.22 634.00 175.13 634.50 175.05 635.00 174.97 635.50 174.89 636.00 174.81 636.50 174.74 637.00 174.66 637.50 174.58 638.00 174.51 638.50 174.43 639.00 174.36 639.50 174.29 640.00 174.22 640.50 174.14 641.00 174.07 641.50 174.00 642.00 173.94 642.50 173.87 643.00 173.80 643.50 173.73 644.00 173.67 644.50 173.60 645.00 173.54 645.50 173.47 646.00 173.41 646.50 173.34 647.00 173.28 647.50 173.22 648.00 173.16 648.50 173.09 649.00 173.03 649.50 172.97 650.00 172.91 650.50 172.85 651.00 172.79 651.50 172.73 652.00 172.67 652.50 172.61 653.00 172.55 653.50 172.49 654.00 172.44 654.50 172.38 655.00 172.32 655.50 172.26 656.00 172.20 656.50 172.14 657.00 172.09 657.50 172.03 658.00 171.97 658.50 171.91 659.00 171.85 659.50 171.79 660.00 171.74 660.50 171.68 661.00 171.62 661.50 171.56 662.00 171.50 662.50 171.44 663.00 171.38 663.50 171.32 664.00 171.26 664.50 171.20 665.00 171.14 665.50 171.08 666.00 171.02 666.50 170.96 667.00 170.89 667.50 170.83 668.00 170.77 668.50 170.71 669.00 170.64 669.50 170.58 670.00 170.51 670.50 170.45 671.00 170.38 671.50 170.31 672.00 170.24 672.50 170.18 673.00 170.11 673.50 170.04 674.00 169.97 674.10 169.95" fill="none" stroke="#ff4646" stroke-width="1.25" stroke-linejoin="round" clip-path="url(#ce)"/><line x1="399.50" y1="275.30" x2="399.50" y2="272.30" stroke="#3a3a3a" stroke-width="0.8"/><line x1="399.50" y1="167.00" x2="399.50" y2="170.00" stroke="#3a3a3a" stroke-width="0.8"/><line x1="514.00" y1="275.30" x2="514.00" y2="272.30" stroke="#3a3a3a" stroke-width="0.8"/><line x1="514.00" y1="167.00" x2="514.00" y2="170.00" stroke="#3a3a3a" stroke-width="0.8"/><line x1="628.50" y1="275.30" x2="628.50" y2="272.30" stroke="#3a3a3a" stroke-width="0.8"/><line x1="628.50" y1="167.00" x2="628.50" y2="170.00" stroke="#3a3a3a" stroke-width="0.8"/><line x1="456.75" y1="275.30" x2="456.75" y2="273.20" stroke="#3a3a3a" stroke-width="0.8"/><line x1="456.75" y1="167.00" x2="456.75" y2="169.10" stroke="#3a3a3a" stroke-width="0.8"/><line x1="571.25" y1="275.30" x2="571.25" y2="273.20" stroke="#3a3a3a" stroke-width="0.8"/><line x1="571.25" y1="167.00" x2="571.25" y2="169.10" stroke="#3a3a3a" stroke-width="0.8"/><line x1="399.50" y1="275.30" x2="402.50" y2="275.30" stroke="#3a3a3a" stroke-width="0.8"/><line x1="674.30" y1="275.30" x2="671.30" y2="275.30" stroke="#3a3a3a" stroke-width="0.8"/><line x1="399.50" y1="239.20" x2="402.50" y2="239.20" stroke="#3a3a3a" stroke-width="0.8"/><line x1="674.30" y1="239.20" x2="671.30" y2="239.20" stroke="#3a3a3a" stroke-width="0.8"/><line x1="399.50" y1="203.10" x2="402.50" y2="203.10" stroke="#3a3a3a" stroke-width="0.8"/><line x1="674.30" y1="203.10" x2="671.30" y2="203.10" stroke="#3a3a3a" stroke-width="0.8"/><line x1="399.50" y1="167.00" x2="402.50" y2="167.00" stroke="#3a3a3a" stroke-width="0.8"/><line x1="674.30" y1="167.00" x2="671.30" y2="167.00" stroke="#3a3a3a" stroke-width="0.8"/><line x1="399.50" y1="257.25" x2="401.60" y2="257.25" stroke="#3a3a3a" stroke-width="0.8"/><line x1="674.30" y1="257.25" x2="672.20" y2="257.25" stroke="#3a3a3a" stroke-width="0.8"/><line x1="399.50" y1="221.15" x2="401.60" y2="221.15" stroke="#3a3a3a" stroke-width="0.8"/><line x1="674.30" y1="221.15" x2="672.20" y2="221.15" stroke="#3a3a3a" stroke-width="0.8"/><line x1="399.50" y1="185.05" x2="401.60" y2="185.05" stroke="#3a3a3a" stroke-width="0.8"/><line x1="674.30" y1="185.05" x2="672.20" y2="185.05" stroke="#3a3a3a" stroke-width="0.8"/><rect x="398.85" y="166.10" width="276.25" height="1.80" fill="#aaa"/><rect x="398.85" y="274.70" width="276.25" height="1.20" fill="#555"/><rect x="398.85" y="166.10" width="1.30" height="109.80" fill="#555"/><rect x="673.90" y="166.10" width="1.20" height="109.80" fill="#555"/><text transform="translate(399.50 285.60) scale(0.947 1)" font-size="9.6" text-anchor="middle" fill="#222">700</text><text transform="translate(514.00 285.60) scale(0.947 1)" font-size="9.6" text-anchor="middle" fill="#222">800</text><text transform="translate(628.50 285.60) scale(0.947 1)" font-size="9.6" text-anchor="middle" fill="#222">900</text><text transform="translate(396.20 278.24) scale(0.947 1)" font-size="9.6" text-anchor="end" fill="#222">2</text><text transform="translate(396.20 242.14) scale(0.947 1)" font-size="9.6" text-anchor="end" fill="#222">4</text><text transform="translate(396.20 206.04) scale(0.947 1)" font-size="9.6" text-anchor="end" fill="#222">6</text><text transform="translate(396.20 169.94) scale(0.947 1)" font-size="9.6" text-anchor="end" fill="#222">8</text><text transform="translate(494.30 296.20) scale(0.94 1)" font-size="9.9" fill="#222">Wavelength (nm)</text><text transform="translate(375.20 263.60) rotate(-90)" font-size="9" fill="#222">Normalized Scattering</text><text x="350.90" y="166.10" font-size="15" font-weight="bold" fill="#111">(e)</text><line x1="415.80" y1="172.20" x2="432.20" y2="172.20" stroke="#3c3cff" stroke-width="1.2"/><text x="434.60" y="174.70" font-size="7" fill="#222" stroke="#222" stroke-width="0.2">d = 15 nm</text><line x1="415.80" y1="181.30" x2="432.20" y2="181.30" stroke="#33d99a" stroke-width="1.2"/><text x="434.60" y="183.80" font-size="7" fill="#222" stroke="#222" stroke-width="0.2">d = 35 nm</text><line x1="415.80" y1="190.30" x2="432.20" y2="190.30" stroke="#ff4646" stroke-width="1.2"/><text x="434.60" y="192.80" font-size="7" fill="#222" stroke="#222" stroke-width="0.2">d = 55 nm</text></g>
<g><clipPath id="cc"><rect x="48.00" y="323.30" width="274.80" height="109.40"/></clipPath><path d="M48.00 424.02 48.50 423.85 49.00 423.69 49.50 423.52 50.00 423.35 50.50 423.18 51.00 423.01 51.50 422.84 52.00 422.67 52.50 422.50 53.00 422.33 53.50 422.16 54.00 421.99 54.50 421.82 55.00 421.64 55.50 421.47 56.00 421.30 56.50 421.13 57.00 420.96 57.50 420.78 58.00 420.61 58.50 420.44 59.00 420.26 59.50 420.09 60.00 419.91 60.50 419.74 61.00 419.56 61.50 419.39 62.00 419.21 62.50 419.04 63.00 418.86 63.50 418.68 64.00 418.50 64.50 418.32 65.00 418.14 65.50 417.96 66.00 417.78 66.50 417.60 67.00 417.42 67.50 417.24 68.00 417.06 68.50 416.87 69.00 416.69 69.50 416.51 70.00 416.32 70.50 416.13 71.00 415.95 71.50 415.76 72.00 415.57 72.50 415.38 73.00 415.19 73.50 415.00 74.00 414.81 74.50 414.62 75.00 414.43 75.50 414.24 76.00 414.04 76.50 413.85 77.00 413.65 77.50 413.45 78.00 413.26 78.50 413.06 79.00 412.86 79.50 412.66 80.00 412.46 80.50 412.25 81.00 412.05 81.50 411.85 82.00 411.64 82.50 411.44 83.00 411.23 83.50 411.02 84.00 410.81 84.50 410.60 85.00 410.39 85.50 410.18 86.00 409.97 86.50 409.75 87.00 409.54 87.50 409.32 88.00 409.10 88.50 408.88 89.00 408.66 89.50 408.44 90.00 408.21 90.50 407.98 91.00 407.74 91.50 407.50 92.00 407.25 92.50 406.99 93.00 406.73 93.50 406.45 94.00 406.16 94.50 405.87 95.00 405.55 95.50 405.23 96.00 404.89 96.50 404.54 97.00 404.17 97.50 403.78 98.00 403.37 98.50 402.95 99.00 402.52 99.50 402.08 100.00 401.64 100.50 401.20 101.00 400.77 101.50 400.35 102.00 399.94 102.50 399.55 103.00 399.17 103.50 398.81 104.00 398.46 104.50 398.12 105.00 397.79 105.50 397.48 106.00 397.17 106.50 396.87 107.00 396.58 107.50 396.29 108.00 396.01 108.50 395.73 109.00 395.45 109.50 395.18 110.00 394.91 110.50 394.64 111.00 394.37 111.50 394.10 112.00 393.83 112.50 393.55 113.00 393.27 113.50 392.98 114.00 392.69 114.50 392.40 115.00 392.09 115.50 391.78 116.00 391.47 116.50 391.15 117.00 390.83 117.50 390.50 118.00 390.17 118.50 389.83 119.00 389.49 119.50 389.14 120.00 388.79 120.50 388.43 121.00 388.07 121.50 387.71 122.00 387.34 122.50 386.97 123.00 386.60 123.50 386.22 124.00 385.84 124.50 385.46 125.00 385.08 125.50 384.69 126.00 384.30 126.50 383.90 127.00 383.51 127.50 383.11 128.00 382.71 128.50 382.30 129.00 381.90 129.50 381.49 130.00 381.09 130.50 380.68 131.00 380.27 131.50 379.86 132.00 379.44 132.50 379.03 133.00 378.62 133.50 378.20 134.00 377.79 134.50 377.37 135.00 376.96 135.50 376.54 136.00 376.12 136.50 375.71 137.00 375.29 137.50 374.88 138.00 374.46 138.50 374.05 139.00 373.64 139.50 373.22 140.00 372.81 140.50 372.40 141.00 371.99 141.50 371.59 142.00 371.18 142.50 370.78 143.00 370.38 143.50 369.98 144.00 369.58 144.50 369.18 145.00 368.79 145.50 368.40 146.00 368.01 146.50 367.63 147.00 367.25 147.50 366.87 148.00 366.49 148.50 366.12 149.00 365.75 149.50 365.38 150.00 365.02 150.50 364.66 151.00 364.31 151.50 363.96 152.00 363.61 152.50 363.27 153.00 362.93 153.50 362.59 154.00 362.26 154.50 361.93 155.00 361.60 155.50 361.28 156.00 360.96 156.50 360.65 157.00 360.33 157.50 360.03 158.00 359.72 158.50 359.42 159.00 359.12 159.50 358.83 160.00 358.53 160.50 358.25 161.00 357.96 161.50 357.68 162.00 357.40 162.50 357.13 163.00 356.86 163.50 356.59 164.00 356.32 164.50 356.06 165.00 355.80 165.50 355.55 166.00 355.29 166.50 355.05 167.00 354.80 167.50 354.56 168.00 354.32 168.50 354.08 169.00 353.85 169.50 353.62 170.00 353.39 170.50 353.17 171.00 352.95 171.50 352.73 172.00 352.51 172.50 352.30 173.00 352.09 173.50 351.89 174.00 351.68 174.50 351.48 175.00 351.29 175.50 351.09 176.00 350.90 176.50 350.71 177.00 350.53 177.50 350.35 178.00 350.17 178.50 350.00 179.00 349.83 179.50 349.67 180.00 349.51 180.50 349.36 181.00 349.21 181.50 349.07 182.00 348.93 182.50 348.80 183.00 348.67 183.50 348.56 184.00 348.44 184.50 348.34 185.00 348.24 185.50 348.15 186.00 348.07 186.50 347.99 187.00 347.92 187.50 347.86 188.00 347.81 188.50 347.77 189.00 347.73 189.50 347.71 190.00 347.69 190.50 347.69 191.00 347.69 191.50 347.70 192.00 347.72 192.50 347.76 193.00 347.80 193.50 347.86 194.00 347.92 194.50 348.00 195.00 348.09 195.50 348.20 196.00 348.31 196.50 348.44 197.00 348.59 197.50 348.75 198.00 348.92 198.50 349.11 199.00 349.31 199.50 349.53 200.00 349.76 200.50 350.01 201.00 350.27 201.50 350.56 202.00 350.86 202.50 351.17 203.00 351.51 203.50 351.86 204.00 352.23 204.50 352.62 205.00 353.03 205.50 353.46 206.00 353.91 206.50 354.38 207.00 354.87 207.50 355.38 208.00 355.92 208.50 356.47 209.00 357.05 209.50 357.65 210.00 358.27 210.50 358.91 211.00 359.58 211.50 360.27 212.00 360.98 212.50 361.72 213.00 362.49 213.50 363.28 214.00 364.08 214.50 364.92 215.00 365.77 215.50 366.64 216.00 367.52 216.50 368.43 217.00 369.35 217.50 370.29 218.00 371.24 218.50 372.20 219.00 373.18 219.50 374.17 220.00 375.17 220.50 376.17 221.00 377.19 221.50 378.21 222.00 379.24 222.50 380.27 223.00 381.31 223.50 382.35 224.00 383.40 224.50 384.44 225.00 385.49 225.50 386.53 226.00 387.57 226.50 388.61 227.00 389.65 227.50 390.68 228.00 391.70 228.50 392.72 229.00 393.73 229.50 394.73 230.00 395.72 230.50 396.70 231.00 397.67 231.50 398.63 232.00 399.56 232.50 400.49 233.00 401.39 233.50 402.28 234.00 403.14 234.50 403.99 235.00 404.81 235.50 405.60 236.00 406.37 236.50 407.11 237.00 407.82 237.50 408.50 238.00 409.15 238.50 409.77 239.00 410.35 239.50 410.89 240.00 411.40 240.50 411.87 241.00 412.30 241.50 412.69 242.00 413.03 242.50 413.33 243.00 413.58 243.50 413.79 244.00 413.94 244.50 414.05 245.00 414.11 245.50 414.11 246.00 414.06 246.50 413.97 247.00 413.83 247.50 413.64 248.00 413.41 248.50 413.14 249.00 412.83 249.50 412.48 250.00 412.09 250.50 411.67 251.00 411.21 251.50 410.73 252.00 410.21 252.50 409.66 253.00 409.09 253.50 408.49 254.00 407.87 254.50 407.23 255.00 406.57 255.50 405.89 256.00 405.19 256.50 404.48 257.00 403.75 257.50 403.00 258.00 402.25 258.50 401.48 259.00 400.70 259.50 399.91 260.00 399.11 260.50 398.30 261.00 397.48 261.50 396.66 262.00 395.83 262.50 395.00 263.00 394.17 263.50 393.33 264.00 392.49 264.50 391.65 265.00 390.81 265.50 389.98 266.00 389.14 266.50 388.31 267.00 387.48 267.50 386.66 268.00 385.85 268.50 385.04 269.00 384.24 269.50 383.45 270.00 382.67 270.50 381.90 271.00 381.14 271.50 380.40 272.00 379.67 272.50 378.95 273.00 378.25 273.50 377.56 274.00 376.88 274.50 376.21 275.00 375.56 275.50 374.92 276.00 374.29 276.50 373.67 277.00 373.07 277.50 372.47 278.00 371.89 278.50 371.32 279.00 370.77 279.50 370.22 280.00 369.69 280.50 369.16 281.00 368.65 281.50 368.15 282.00 367.66 282.50 367.18 283.00 366.71 283.50 366.25 284.00 365.80 284.50 365.37 285.00 364.94 285.50 364.52 286.00 364.12 286.50 363.72 287.00 363.33 287.50 362.96 288.00 362.59 288.50 362.23 289.00 361.88 289.50 361.54 290.00 361.21 290.50 360.89 291.00 360.58 291.50 360.28 292.00 359.98 292.50 359.70 293.00 359.42 293.50 359.15 294.00 358.89 294.50 358.64 295.00 358.39 295.50 358.16 296.00 357.93 296.50 357.71 297.00 357.50 297.50 357.29 298.00 357.09 298.50 356.90 299.00 356.72 299.50 356.54 300.00 356.37 300.50 356.21 301.00 356.06 301.50 355.91 302.00 355.76 302.50 355.63 303.00 355.50 303.50 355.38 304.00 355.26 304.50 355.15 305.00 355.04 305.50 354.94 306.00 354.85 306.50 354.76 307.00 354.68 307.50 354.60 308.00 354.53 308.50 354.47 309.00 354.40 309.50 354.35 310.00 354.30 310.50 354.25 311.00 354.21 311.50 354.17 312.00 354.13 312.50 354.11 313.00 354.08 313.50 354.06 314.00 354.04 314.50 354.03 315.00 354.02 315.50 354.01 316.00 354.01 316.50 354.01 317.00 354.02 317.50 354.02 318.00 354.04 318.50 354.05 319.00 354.07 319.50 354.09 320.00 354.11 320.50 354.13 321.00 354.16 321.50 354.19 322.00 354.22 322.50 354.25 322.80 354.27" fill="none" stroke="#3c3cff" stroke-width="1.25" stroke-linejoin="round" clip-path="url(#cc)"/><path d="M48.00 369.53 48.50 368.98 49.00 368.45 49.50 367.92 50.00 367.41 50.50 366.90 51.00 366.41 51.50 365.92 52.00 365.44 52.50 364.97 53.00 364.51 53.50 364.06 54.00 363.61 54.50 363.18 55.00 362.75 55.50 362.33 56.00 361.92 56.50 361.51 57.00 361.12 57.50 360.73 58.00 360.35 58.50 359.97 59.00 359.60 59.50 359.24 60.00 358.89 60.50 358.54 61.00 358.20 61.50 357.86 62.00 357.53 62.50 357.21 63.00 356.89 63.50 356.57 64.00 356.27 64.50 355.97 65.00 355.67 65.50 355.38 66.00 355.09 66.50 354.81 67.00 354.53 67.50 354.26 68.00 353.99 68.50 353.72 69.00 353.46 69.50 353.20 70.00 352.95 70.50 352.70 71.00 352.45 71.50 352.21 72.00 351.97 72.50 351.73 73.00 351.49 73.50 351.26 74.00 351.03 74.50 350.80 75.00 350.58 75.50 350.36 76.00 350.13 76.50 349.91 77.00 349.70 77.50 349.48 78.00 349.26 78.50 349.05 79.00 348.84 79.50 348.63 80.00 348.42 80.50 348.21 81.00 348.01 81.50 347.81 82.00 347.61 82.50 347.41 83.00 347.22 83.50 347.04 84.00 346.85 84.50 346.67 85.00 346.50 85.50 346.33 86.00 346.16 86.50 346.00 87.00 345.85 87.50 345.70 88.00 345.55 88.50 345.41 89.00 345.28 89.50 345.16 90.00 345.04 90.50 344.92 91.00 344.82 91.50 344.72 92.00 344.63 92.50 344.55 93.00 344.47 93.50 344.40 94.00 344.34 94.50 344.29 95.00 344.25 95.50 344.22 96.00 344.20 96.50 344.18 97.00 344.18 97.50 344.18 98.00 344.20 98.50 344.22 99.00 344.26 99.50 344.31 100.00 344.36 100.50 344.43 101.00 344.52 101.50 344.61 102.00 344.72 102.50 344.83 103.00 344.97 103.50 345.11 104.00 345.27 104.50 345.44 105.00 345.62 105.50 345.82 106.00 346.04 106.50 346.26 107.00 346.51 107.50 346.77 108.00 347.04 108.50 347.33 109.00 347.64 109.50 347.96 110.00 348.30 110.50 348.65 111.00 349.02 111.50 349.41 112.00 349.82 112.50 350.25 113.00 350.69 113.50 351.15 114.00 351.63 114.50 352.13 115.00 352.65 115.50 353.19 116.00 353.75 116.50 354.33 117.00 354.93 117.50 355.55 118.00 356.19 118.50 356.85 119.00 357.53 119.50 358.24 120.00 358.96 120.50 359.71 121.00 360.48 121.50 361.28 122.00 362.09 122.50 362.93 123.00 363.79 123.50 364.66 124.00 365.54 124.50 366.44 125.00 367.33 125.50 368.23 126.00 369.12 126.50 370.02 127.00 370.93 127.50 371.85 128.00 372.80 128.50 373.77 129.00 374.77 129.50 375.82 130.00 376.91 130.50 378.03 131.00 379.19 131.50 380.37 132.00 381.57 132.50 382.78 133.00 384.00 133.50 385.22 134.00 386.43 134.50 387.64 135.00 388.82 135.50 389.98 136.00 391.12 136.50 392.24 137.00 393.33 137.50 394.41 138.00 395.47 138.50 396.50 139.00 397.51 139.50 398.51 140.00 399.48 140.50 400.43 141.00 401.36 141.50 402.27 142.00 403.16 142.50 404.02 143.00 404.85 143.50 405.67 144.00 406.45 144.50 407.21 145.00 407.94 145.50 408.64 146.00 409.31 146.50 409.95 147.00 410.56 147.50 411.13 148.00 411.68 148.50 412.19 149.00 412.66 149.50 413.10 150.00 413.51 150.50 413.87 151.00 414.20 151.50 414.49 152.00 414.74 152.50 414.95 153.00 415.12 153.50 415.24 154.00 415.33 154.50 415.37 155.00 415.36 155.50 415.31 156.00 415.21 156.50 415.07 157.00 414.88 157.50 414.64 158.00 414.35 158.50 414.01 159.00 413.62 159.50 413.17 160.00 412.68 160.50 412.14 161.00 411.57 161.50 410.96 162.00 410.33 162.50 409.68 163.00 409.03 163.50 408.37 164.00 407.72 164.50 407.08 165.00 406.45 165.50 405.83 166.00 405.23 166.50 404.63 167.00 404.03 167.50 403.44 168.00 402.85 168.50 402.25 169.00 401.65 169.50 401.04 170.00 400.41 170.50 399.78 171.00 399.13 171.50 398.47 172.00 397.80 172.50 397.12 173.00 396.43 173.50 395.73 174.00 395.03 174.50 394.32 175.00 393.61 175.50 392.90 176.00 392.18 176.50 391.47 177.00 390.75 177.50 390.03 178.00 389.32 178.50 388.61 179.00 387.91 179.50 387.21 180.00 386.52 180.50 385.84 181.00 385.17 181.50 384.50 182.00 383.84 182.50 383.19 183.00 382.55 183.50 381.91 184.00 381.28 184.50 380.66 185.00 380.05 185.50 379.45 186.00 378.85 186.50 378.27 187.00 377.69 187.50 377.11 188.00 376.55 188.50 375.99 189.00 375.44 189.50 374.90 190.00 374.37 190.50 373.84 191.00 373.32 191.50 372.81 192.00 372.31 192.50 371.81 193.00 371.32 193.50 370.84 194.00 370.36 194.50 369.90 195.00 369.44 195.50 368.99 196.00 368.54 196.50 368.10 197.00 367.67 197.50 367.25 198.00 366.84 198.50 366.43 199.00 366.03 199.50 365.63 200.00 365.25 200.50 364.87 201.00 364.49 201.50 364.13 202.00 363.77 202.50 363.42 203.00 363.07 203.50 362.74 204.00 362.41 204.50 362.08 205.00 361.77 205.50 361.46 206.00 361.15 206.50 360.86 207.00 360.57 207.50 360.29 208.00 360.01 208.50 359.74 209.00 359.48 209.50 359.22 210.00 358.97 210.50 358.73 211.00 358.50 211.50 358.27 212.00 358.05 212.50 357.83 213.00 357.62 213.50 357.42 214.00 357.22 214.50 357.03 215.00 356.85 215.50 356.67 216.00 356.50 216.50 356.34 217.00 356.18 217.50 356.03 218.00 355.88 218.50 355.74 219.00 355.61 219.50 355.48 220.00 355.36 220.50 355.24 221.00 355.13 221.50 355.02 222.00 354.92 222.50 354.83 223.00 354.74 223.50 354.65 224.00 354.57 224.50 354.50 225.00 354.43 225.50 354.36 226.00 354.30 226.50 354.25 227.00 354.20 227.50 354.15 228.00 354.11 228.50 354.07 229.00 354.04 229.50 354.01 230.00 353.99 230.50 353.97 231.00 353.96 231.50 353.95 232.00 353.94 232.50 353.94 233.00 353.94 233.50 353.94 234.00 353.95 234.50 353.96 235.00 353.98 235.50 354.00 236.00 354.02 236.50 354.05 237.00 354.07 237.50 354.11 238.00 354.14 238.50 354.18 239.00 354.22 239.50 354.27 240.00 354.32 240.50 354.37 241.00 354.42 241.50 354.47 242.00 354.53 242.50 354.59 243.00 354.66 243.50 354.72 244.00 354.79 244.50 354.86 245.00 354.93 245.50 355.01 246.00 355.08 246.50 355.16 247.00 355.24 247.50 355.32 248.00 355.41 248.50 355.49 249.00 355.58 249.50 355.67 250.00 355.76 250.50 355.85 251.00 355.94 251.50 356.03 252.00 356.13 252.50 356.23 253.00 356.32 253.50 356.42 254.00 356.52 254.50 356.62 255.00 356.73 255.50 356.83 256.00 356.94 256.50 357.04 257.00 357.15 257.50 357.26 258.00 357.37 258.50 357.48 259.00 357.59 259.50 357.71 260.00 357.82 260.50 357.94 261.00 358.05 261.50 358.17 262.00 358.29 262.50 358.41 263.00 358.53 263.50 358.66 264.00 358.78 264.50 358.90 265.00 359.03 265.50 359.16 266.00 359.28 266.50 359.41 267.00 359.54 267.50 359.67 268.00 359.80 268.50 359.93 269.00 360.07 269.50 360.20 270.00 360.34 270.50 360.47 271.00 360.61 271.50 360.74 272.00 360.88 272.50 361.02 273.00 361.16 273.50 361.30 274.00 361.44 274.50 361.59 275.00 361.73 275.50 361.87 276.00 362.02 276.50 362.16 277.00 362.31 277.50 362.45 278.00 362.60 278.50 362.75 279.00 362.90 279.50 363.05 280.00 363.20 280.50 363.35 281.00 363.50 281.50 363.65 282.00 363.80 282.50 363.96 283.00 364.11 283.50 364.26 284.00 364.42 284.50 364.57 285.00 364.73 285.50 364.89 286.00 365.04 286.50 365.20 287.00 365.36 287.50 365.51 288.00 365.67 288.50 365.83 289.00 365.99 289.50 366.15 290.00 366.31 290.50 366.47 291.00 366.63 291.50 366.79 292.00 366.95 292.50 367.12 293.00 367.28 293.50 367.44 294.00 367.60 294.50 367.77 295.00 367.93 295.50 368.09 296.00 368.26 296.50 368.42 297.00 368.59 297.50 368.75 298.00 368.92 298.50 369.08 299.00 369.25 299.50 369.41 300.00 369.58 300.50 369.74 301.00 369.91 301.50 370.07 302.00 370.24 302.50 370.40 303.00 370.57 303.50 370.74 304.00 370.90 304.50 371.07 305.00 371.23 305.50 371.40 306.00 371.57 306.50 371.73 307.00 371.90 307.50 372.06 308.00 372.23 308.50 372.40 309.00 372.56 309.50 372.73 310.00 372.89 310.50 373.06 311.00 373.23 311.50 373.39 312.00 373.56 312.50 373.72 313.00 373.89 313.50 374.05 314.00 374.21 314.50 374.38 315.00 374.54 315.50 374.71 316.00 374.87 316.50 375.03 317.00 375.20 317.50 375.36 318.00 375.52 318.50 375.68 319.00 375.85 319.50 376.01 320.00 376.17 320.50 376.33 321.00 376.49 321.50 376.65 322.00 376.81 322.50 376.97 322.80 377.06" fill="none" stroke="#3ddc3d" stroke-width="1.25" stroke-linejoin="round" clip-path="url(#cc)"/><path d="M48.00 371.34 48.50 372.00 49.00 372.77 49.50 373.65 50.00 374.61 50.50 375.65 51.00 376.75 51.50 377.90 52.00 379.10 52.50 380.32 53.00 381.56 53.50 382.80 54.00 384.03 54.50 385.24 55.00 386.42 55.50 387.56 56.00 388.67 56.50 389.74 57.00 390.78 57.50 391.80 58.00 392.81 58.50 393.81 59.00 394.80 59.50 395.80 60.00 396.79 60.50 397.78 61.00 398.75 61.50 399.70 62.00 400.64 62.50 401.55 63.00 402.44 63.50 403.30 64.00 404.13 64.50 404.93 65.00 405.70 65.50 406.44 66.00 407.15 66.50 407.82 67.00 408.46 67.50 409.06 68.00 409.63 68.50 410.16 69.00 410.66 69.50 411.11 70.00 411.53 70.50 411.90 71.00 412.24 71.50 412.53 72.00 412.78 72.50 412.99 73.00 413.16 73.50 413.27 74.00 413.35 74.50 413.37 75.00 413.35 75.50 413.28 76.00 413.16 76.50 412.99 77.00 412.77 77.50 412.49 78.00 412.17 78.50 411.80 79.00 411.39 79.50 410.93 80.00 410.44 80.50 409.91 81.00 409.36 81.50 408.77 82.00 408.17 82.50 407.54 83.00 406.89 83.50 406.23 84.00 405.56 84.50 404.89 85.00 404.21 85.50 403.52 86.00 402.84 86.50 402.16 87.00 401.47 87.50 400.79 88.00 400.10 88.50 399.42 89.00 398.74 89.50 398.05 90.00 397.37 90.50 396.69 91.00 396.01 91.50 395.33 92.00 394.65 92.50 393.98 93.00 393.30 93.50 392.63 94.00 391.96 94.50 391.29 95.00 390.62 95.50 389.96 96.00 389.30 96.50 388.64 97.00 387.99 97.50 387.33 98.00 386.69 98.50 386.04 99.00 385.40 99.50 384.76 100.00 384.13 100.50 383.50 101.00 382.87 101.50 382.25 102.00 381.63 102.50 381.02 103.00 380.41 103.50 379.81 104.00 379.21 104.50 378.62 105.00 378.03 105.50 377.45 106.00 376.88 106.50 376.31 107.00 375.74 107.50 375.19 108.00 374.64 108.50 374.09 109.00 373.55 109.50 373.02 110.00 372.50 110.50 371.98 111.00 371.47 111.50 370.97 112.00 370.48 112.50 369.99 113.00 369.51 113.50 369.04 114.00 368.58 114.50 368.12 115.00 367.68 115.50 367.24 116.00 366.81 116.50 366.39 117.00 365.98 117.50 365.58 118.00 365.18 118.50 364.79 119.00 364.41 119.50 364.04 120.00 363.68 120.50 363.32 121.00 362.97 121.50 362.63 122.00 362.30 122.50 361.97 123.00 361.65 123.50 361.34 124.00 361.03 124.50 360.73 125.00 360.44 125.50 360.16 126.00 359.88 126.50 359.61 127.00 359.34 127.50 359.08 128.00 358.83 128.50 358.58 129.00 358.34 129.50 358.11 130.00 357.88 130.50 357.66 131.00 357.44 131.50 357.23 132.00 357.02 132.50 356.82 133.00 356.63 133.50 356.44 134.00 356.25 134.50 356.07 135.00 355.90 135.50 355.73 136.00 355.56 136.50 355.40 137.00 355.24 137.50 355.09 138.00 354.95 138.50 354.80 139.00 354.66 139.50 354.53 140.00 354.40 140.50 354.27 141.00 354.15 141.50 354.03 142.00 353.92 142.50 353.81 143.00 353.70 143.50 353.59 144.00 353.49 144.50 353.39 145.00 353.30 145.50 353.21 146.00 353.12 146.50 353.03 147.00 352.95 147.50 352.87 148.00 352.79 148.50 352.71 149.00 352.64 149.50 352.57 150.00 352.50 150.50 352.44 151.00 352.37 151.50 352.31 152.00 352.25 152.50 352.19 153.00 352.14 153.50 352.08 154.00 352.03 154.50 351.98 155.00 351.94 155.50 351.89 156.00 351.85 156.50 351.81 157.00 351.77 157.50 351.73 158.00 351.70 158.50 351.67 159.00 351.64 159.50 351.61 160.00 351.59 160.50 351.56 161.00 351.54 161.50 351.52 162.00 351.51 162.50 351.49 163.00 351.48 163.50 351.47 164.00 351.46 164.50 351.45 165.00 351.45 165.50 351.45 166.00 351.45 166.50 351.45 167.00 351.45 167.50 351.46 168.00 351.46 168.50 351.47 169.00 351.49 169.50 351.50 170.00 351.52 170.50 351.53 171.00 351.55 171.50 351.58 172.00 351.60 172.50 351.63 173.00 351.65 173.50 351.68 174.00 351.72 174.50 351.75 175.00 351.78 175.50 351.82 176.00 351.86 176.50 351.90 177.00 351.95 177.50 351.99 178.00 352.04 178.50 352.09 179.00 352.14 179.50 352.19 180.00 352.25 180.50 352.30 181.00 352.36 181.50 352.42 182.00 352.49 182.50 352.55 183.00 352.62 183.50 352.68 184.00 352.75 184.50 352.82 185.00 352.90 185.50 352.97 186.00 353.05 186.50 353.13 187.00 353.20 187.50 353.29 188.00 353.37 188.50 353.45 189.00 353.54 189.50 353.63 190.00 353.71 190.50 353.80 191.00 353.90 191.50 353.99 192.00 354.08 192.50 354.18 193.00 354.28 193.50 354.37 194.00 354.47 194.50 354.58 195.00 354.68 195.50 354.78 196.00 354.89 196.50 354.99 197.00 355.10 197.50 355.21 198.00 355.32 198.50 355.43 199.00 355.54 199.50 355.65 200.00 355.77 200.50 355.88 201.00 356.00 201.50 356.11 202.00 356.23 202.50 356.35 203.00 356.47 203.50 356.59 204.00 356.71 204.50 356.83 205.00 356.96 205.50 357.08 206.00 357.21 206.50 357.33 207.00 357.46 207.50 357.59 208.00 357.71 208.50 357.84 209.00 357.97 209.50 358.10 210.00 358.23 210.50 358.36 211.00 358.49 211.50 358.63 212.00 358.76 212.50 358.89 213.00 359.03 213.50 359.16 214.00 359.30 214.50 359.43 215.00 359.57 215.50 359.70 216.00 359.84 216.50 359.98 217.00 360.11 217.50 360.25 218.00 360.39 218.50 360.53 219.00 360.66 219.50 360.80 220.00 360.94 220.50 361.08 221.00 361.22 221.50 361.36 222.00 361.50 222.50 361.63 223.00 361.77 223.50 361.91 224.00 362.05 224.50 362.19 225.00 362.33 225.50 362.47 226.00 362.61 226.50 362.75 227.00 362.89 227.50 363.03 228.00 363.17 228.50 363.30 229.00 363.44 229.50 363.58 230.00 363.72 230.50 363.86 231.00 363.99 231.50 364.13 232.00 364.27 232.50 364.40 233.00 364.54 233.50 364.68 234.00 364.81 234.50 364.95 235.00 365.08 235.50 365.22 236.00 365.35 236.50 365.48 237.00 365.61 237.50 365.75 238.00 365.88 238.50 366.01 239.00 366.14 239.50 366.27 240.00 366.40 240.50 366.53 241.00 366.65 241.50 366.78 242.00 366.91 242.50 367.03 243.00 367.16 243.50 367.28 244.00 367.40 244.50 367.52 245.00 367.65 245.50 367.77 246.00 367.89 246.50 368.00 247.00 368.12 247.50 368.24 248.00 368.35 248.50 368.47 249.00 368.58 249.50 368.69 250.00 368.80 250.50 368.91 251.00 369.02 251.50 369.13 252.00 369.24 252.50 369.34 253.00 369.45 253.50 369.55 254.00 369.66 254.50 369.76 255.00 369.86 255.50 369.96 256.00 370.07 256.50 370.17 257.00 370.27 257.50 370.36 258.00 370.46 258.50 370.56 259.00 370.66 259.50 370.76 260.00 370.86 260.50 370.95 261.00 371.05 261.50 371.15 262.00 371.24 262.50 371.34 263.00 371.44 263.50 371.54 264.00 371.63 264.50 371.73 265.00 371.83 265.50 371.93 266.00 372.02 266.50 372.12 267.00 372.22 267.50 372.32 268.00 372.42 268.50 372.52 269.00 372.62 269.50 372.72 270.00 372.82 270.50 372.93 271.00 373.03 271.50 373.13 272.00 373.24 272.50 373.34 273.00 373.45 273.50 373.56 274.00 373.67 274.50 373.78 275.00 373.89 275.50 374.00 276.00 374.11 276.50 374.23 277.00 374.34 277.50 374.46 278.00 374.58 278.50 374.70 279.00 374.82 279.50 374.94 280.00 375.06 280.50 375.19 281.00 375.32 281.50 375.44 282.00 375.58 282.50 375.71 283.00 375.84 283.50 375.98 284.00 376.12 284.50 376.26 285.00 376.40 285.50 376.54 286.00 376.69 286.50 376.83 287.00 376.98 287.50 377.13 288.00 377.29 288.50 377.44 289.00 377.60 289.50 377.75 290.00 377.91 290.50 378.07 291.00 378.23 291.50 378.39 292.00 378.56 292.50 378.72 293.00 378.88 293.50 379.05 294.00 379.22 294.50 379.38 295.00 379.55 295.50 379.72 296.00 379.88 296.50 380.05 297.00 380.22 297.50 380.39 298.00 380.55 298.50 380.72 299.00 380.89 299.50 381.06 300.00 381.23 300.50 381.39 301.00 381.56 301.50 381.72 302.00 381.89 302.50 382.05 303.00 382.22 303.50 382.38 304.00 382.54 304.50 382.70 305.00 382.86 305.50 383.02 306.00 383.18 306.50 383.34 307.00 383.49 307.50 383.64 308.00 383.80 308.50 383.95 309.00 384.09 309.50 384.24 310.00 384.38 310.50 384.53 311.00 384.67 311.50 384.81 312.00 384.94 312.50 385.08 313.00 385.21 313.50 385.34 314.00 385.46 314.50 385.59 315.00 385.71 315.50 385.83 316.00 385.94 316.50 386.05 317.00 386.16 317.50 386.27 318.00 386.37 318.50 386.47 319.00 386.57 319.50 386.66 320.00 386.75 320.50 386.84 321.00 386.92 321.50 387.00 322.00 387.08 322.50 387.15 322.80 387.19" fill="none" stroke="#ff4646" stroke-width="1.25" stroke-linejoin="round" clip-path="url(#cc)"/><line x1="48.00" y1="432.20" x2="48.00" y2="429.20" stroke="#3a3a3a" stroke-width="0.8"/><line x1="48.00" y1="324.30" x2="48.00" y2="327.30" stroke="#3a3a3a" stroke-width="0.8"/><line x1="89.64" y1="432.20" x2="89.64" y2="429.20" stroke="#3a3a3a" stroke-width="0.8"/><line x1="89.64" y1="324.30" x2="89.64" y2="327.30" stroke="#3a3a3a" stroke-width="0.8"/><line x1="131.27" y1="432.20" x2="131.27" y2="429.20" stroke="#3a3a3a" stroke-width="0.8"/><line x1="131.27" y1="324.30" x2="131.27" y2="327.30" stroke="#3a3a3a" stroke-width="0.8"/><line x1="172.91" y1="432.20" x2="172.91" y2="429.20" stroke="#3a3a3a" stroke-width="0.8"/><line x1="172.91" y1="324.30" x2="172.91" y2="327.30" stroke="#3a3a3a" stroke-width="0.8"/><line x1="214.55" y1="432.20" x2="214.55" y2="429.20" stroke="#3a3a3a" stroke-width="0.8"/><line x1="214.55" y1="324.30" x2="214.55" y2="327.30" stroke="#3a3a3a" stroke-width="0.8"/><line x1="256.18" y1="432.20" x2="256.18" y2="429.20" stroke="#3a3a3a" stroke-width="0.8"/><line x1="256.18" y1="324.30" x2="256.18" y2="327.30" stroke="#3a3a3a" stroke-width="0.8"/><line x1="297.82" y1="432.20" x2="297.82" y2="429.20" stroke="#3a3a3a" stroke-width="0.8"/><line x1="297.82" y1="324.30" x2="297.82" y2="327.30" stroke="#3a3a3a" stroke-width="0.8"/><line x1="68.82" y1="432.20" x2="68.82" y2="430.10" stroke="#3a3a3a" stroke-width="0.8"/><line x1="68.82" y1="324.30" x2="68.82" y2="326.40" stroke="#3a3a3a" stroke-width="0.8"/><line x1="110.45" y1="432.20" x2="110.45" y2="430.10" stroke="#3a3a3a" stroke-width="0.8"/><line x1="110.45" y1="324.30" x2="110.45" y2="326.40" stroke="#3a3a3a" stroke-width="0.8"/><line x1="152.09" y1="432.20" x2="152.09" y2="430.10" stroke="#3a3a3a" stroke-width="0.8"/><line x1="152.09" y1="324.30" x2="152.09" y2="326.40" stroke="#3a3a3a" stroke-width="0.8"/><line x1="193.73" y1="432.20" x2="193.73" y2="430.10" stroke="#3a3a3a" stroke-width="0.8"/><line x1="193.73" y1="324.30" x2="193.73" y2="326.40" stroke="#3a3a3a" stroke-width="0.8"/><line x1="235.36" y1="432.20" x2="235.36" y2="430.10" stroke="#3a3a3a" stroke-width="0.8"/><line x1="235.36" y1="324.30" x2="235.36" y2="326.40" stroke="#3a3a3a" stroke-width="0.8"/><line x1="277.00" y1="432.20" x2="277.00" y2="430.10" stroke="#3a3a3a" stroke-width="0.8"/><line x1="277.00" y1="324.30" x2="277.00" y2="326.40" stroke="#3a3a3a" stroke-width="0.8"/><line x1="318.64" y1="432.20" x2="318.64" y2="430.10" stroke="#3a3a3a" stroke-width="0.8"/><line x1="318.64" y1="324.30" x2="318.64" y2="326.40" stroke="#3a3a3a" stroke-width="0.8"/><line x1="48.00" y1="432.20" x2="51.00" y2="432.20" stroke="#3a3a3a" stroke-width="0.8"/><line x1="322.80" y1="432.20" x2="319.80" y2="432.20" stroke="#3a3a3a" stroke-width="0.8"/><line x1="48.00" y1="414.22" x2="51.00" y2="414.22" stroke="#3a3a3a" stroke-width="0.8"/><line x1="322.80" y1="414.22" x2="319.80" y2="414.22" stroke="#3a3a3a" stroke-width="0.8"/><line x1="48.00" y1="396.23" x2="51.00" y2="396.23" stroke="#3a3a3a" stroke-width="0.8"/><line x1="322.80" y1="396.23" x2="319.80" y2="396.23" stroke="#3a3a3a" stroke-width="0.8"/><line x1="48.00" y1="378.25" x2="51.00" y2="378.25" stroke="#3a3a3a" stroke-width="0.8"/><line x1="322.80" y1="378.25" x2="319.80" y2="378.25" stroke="#3a3a3a" stroke-width="0.8"/><line x1="48.00" y1="360.27" x2="51.00" y2="360.27" stroke="#3a3a3a" stroke-width="0.8"/><line x1="322.80" y1="360.27" x2="319.80" y2="360.27" stroke="#3a3a3a" stroke-width="0.8"/><line x1="48.00" y1="342.28" x2="51.00" y2="342.28" stroke="#3a3a3a" stroke-width="0.8"/><line x1="322.80" y1="342.28" x2="319.80" y2="342.28" stroke="#3a3a3a" stroke-width="0.8"/><line x1="48.00" y1="324.30" x2="51.00" y2="324.30" stroke="#3a3a3a" stroke-width="0.8"/><line x1="322.80" y1="324.30" x2="319.80" y2="324.30" stroke="#3a3a3a" stroke-width="0.8"/><line x1="48.00" y1="423.21" x2="50.10" y2="423.21" stroke="#3a3a3a" stroke-width="0.8"/><line x1="322.80" y1="423.21" x2="320.70" y2="423.21" stroke="#3a3a3a" stroke-width="0.8"/><line x1="48.00" y1="405.23" x2="50.10" y2="405.23" stroke="#3a3a3a" stroke-width="0.8"/><line x1="322.80" y1="405.23" x2="320.70" y2="405.23" stroke="#3a3a3a" stroke-width="0.8"/><line x1="48.00" y1="387.24" x2="50.10" y2="387.24" stroke="#3a3a3a" stroke-width="0.8"/><line x1="322.80" y1="387.24" x2="320.70" y2="387.24" stroke="#3a3a3a" stroke-width="0.8"/><line x1="48.00" y1="369.26" x2="50.10" y2="369.26" stroke="#3a3a3a" stroke-width="0.8"/><line x1="322.80" y1="369.26" x2="320.70" y2="369.26" stroke="#3a3a3a" stroke-width="0.8"/><line x1="48.00" y1="351.27" x2="50.10" y2="351.27" stroke="#3a3a3a" stroke-width="0.8"/><line x1="322.80" y1="351.27" x2="320.70" y2="351.27" stroke="#3a3a3a" stroke-width="0.8"/><line x1="48.00" y1="333.29" x2="50.10" y2="333.29" stroke="#3a3a3a" stroke-width="0.8"/><line x1="322.80" y1="333.29" x2="320.70" y2="333.29" stroke="#3a3a3a" stroke-width="0.8"/><rect x="47.15" y="323.30" width="276.75" height="1.60" fill="#aaa"/><rect x="47.15" y="431.60" width="276.75" height="1.20" fill="#666"/><rect x="47.15" y="323.30" width="1.70" height="109.50" fill="#a8a8a8"/><rect x="321.90" y="323.30" width="2.00" height="109.50" fill="#a0a0a0"/><text transform="translate(48.00 442.80) scale(0.947 1)" font-size="9.6" text-anchor="middle" fill="#222">650</text><text transform="translate(89.64 442.80) scale(0.947 1)" font-size="9.6" text-anchor="middle" fill="#222">700</text><text transform="translate(131.27 442.80) scale(0.947 1)" font-size="9.6" text-anchor="middle" fill="#222">750</text><text transform="translate(172.91 442.80) scale(0.947 1)" font-size="9.6" text-anchor="middle" fill="#222">800</text><text transform="translate(214.55 442.80) scale(0.947 1)" font-size="9.6" text-anchor="middle" fill="#222">850</text><text transform="translate(256.18 442.80) scale(0.947 1)" font-size="9.6" text-anchor="middle" fill="#222">900</text><text transform="translate(297.82 442.80) scale(0.947 1)" font-size="9.6" text-anchor="middle" fill="#222">950</text><text transform="translate(44.70 435.14) scale(0.947 1)" font-size="9.6" text-anchor="end" fill="#222">1</text><text transform="translate(44.70 417.15) scale(0.947 1)" font-size="9.6" text-anchor="end" fill="#222">2</text><text transform="translate(44.70 399.17) scale(0.947 1)" font-size="9.6" text-anchor="end" fill="#222">3</text><text transform="translate(44.70 381.19) scale(0.947 1)" font-size="9.6" text-anchor="end" fill="#222">4</text><text transform="translate(44.70 363.20) scale(0.947 1)" font-size="9.6" text-anchor="end" fill="#222">5</text><text transform="translate(44.70 345.22) scale(0.947 1)" font-size="9.6" text-anchor="end" fill="#222">6</text><text transform="translate(44.70 327.24) scale(0.947 1)" font-size="9.6" text-anchor="end" fill="#222">7</text><text transform="translate(150.50 455.50) scale(0.94 1)" font-size="9.9" fill="#222">Wavelength (nm)</text><text transform="translate(25.90 418.50) rotate(-90)" font-size="9" fill="#222">Normalized Scattering</text><text x="1.70" y="323.00" font-size="15" font-weight="bold" fill="#111">(c)</text><line x1="265.60" y1="330.20" x2="281.70" y2="330.20" stroke="#3c3cff" stroke-width="1.2"/><text x="283.40" y="332.70" font-size="7" fill="#222" stroke="#222" stroke-width="0.2">h = 20 nm</text><line x1="265.60" y1="339.30" x2="281.70" y2="339.30" stroke="#3ddc3d" stroke-width="1.2"/><text x="283.40" y="341.80" font-size="7" fill="#222" stroke="#222" stroke-width="0.2">h = 40 nm</text><line x1="265.60" y1="348.00" x2="281.70" y2="348.00" stroke="#ff4646" stroke-width="1.2"/><text x="283.40" y="350.50" font-size="7" fill="#222" stroke="#222" stroke-width="0.2">h = 60 nm</text></g>
<g><clipPath id="cf"><rect x="399.50" y="323.00" width="274.70" height="109.60"/></clipPath><path d="M399.00 426.14 399.50 425.95 400.00 425.76 400.50 425.57 401.00 425.38 401.50 425.19 402.00 425.01 402.50 424.83 403.00 424.64 403.50 424.46 404.00 424.28 404.50 424.11 405.00 423.93 405.50 423.75 406.00 423.58 406.50 423.40 407.00 423.23 407.50 423.06 408.00 422.89 408.50 422.72 409.00 422.55 409.50 422.39 410.00 422.22 410.50 422.05 411.00 421.89 411.50 421.73 412.00 421.56 412.50 421.40 413.00 421.24 413.50 421.08 414.00 420.92 414.50 420.76 415.00 420.60 415.50 420.44 416.00 420.28 416.50 420.13 417.00 419.97 417.50 419.81 418.00 419.66 418.50 419.50 419.00 419.35 419.50 419.19 420.00 419.04 420.50 418.88 421.00 418.73 421.50 418.57 422.00 418.42 422.50 418.27 423.00 418.11 423.50 417.96 424.00 417.81 424.50 417.65 425.00 417.50 425.50 417.35 426.00 417.19 426.50 417.04 427.00 416.89 427.50 416.73 428.00 416.58 428.50 416.43 429.00 416.27 429.50 416.12 430.00 415.96 430.50 415.81 431.00 415.65 431.50 415.49 432.00 415.34 432.50 415.18 433.00 415.02 433.50 414.87 434.00 414.71 434.50 414.55 435.00 414.39 435.50 414.23 436.00 414.07 436.50 413.90 437.00 413.74 437.50 413.58 438.00 413.41 438.50 413.25 439.00 413.08 439.50 412.92 440.00 412.75 440.50 412.58 441.00 412.41 441.50 412.24 442.00 412.07 442.50 411.89 443.00 411.72 443.50 411.54 444.00 411.37 444.50 411.19 445.00 411.01 445.50 410.83 446.00 410.65 446.50 410.47 447.00 410.28 447.50 410.10 448.00 409.91 448.50 409.72 449.00 409.53 449.50 409.34 450.00 409.15 450.50 408.95 451.00 408.76 451.50 408.56 452.00 408.36 452.50 408.16 453.00 407.96 453.50 407.75 454.00 407.55 454.50 407.34 455.00 407.13 455.50 406.91 456.00 406.70 456.50 406.48 457.00 406.27 457.50 406.05 458.00 405.83 458.50 405.60 459.00 405.38 459.50 405.15 460.00 404.92 460.50 404.69 461.00 404.45 461.50 404.22 462.00 403.98 462.50 403.74 463.00 403.50 463.50 403.26 464.00 403.01 464.50 402.77 465.00 402.52 465.50 402.27 466.00 402.02 466.50 401.77 467.00 401.52 467.50 401.26 468.00 401.01 468.50 400.75 469.00 400.49 469.50 400.23 470.00 399.97 470.50 399.71 471.00 399.45 471.50 399.18 472.00 398.92 472.50 398.65 473.00 398.39 473.50 398.12 474.00 397.85 474.50 397.58 475.00 397.31 475.50 397.04 476.00 396.77 476.50 396.50 477.00 396.23 477.50 395.95 478.00 395.68 478.50 395.41 479.00 395.13 479.50 394.86 480.00 394.58 480.50 394.31 481.00 394.03 481.50 393.76 482.00 393.48 482.50 393.21 483.00 392.93 483.50 392.66 484.00 392.38 484.50 392.11 485.00 391.83 485.50 391.55 486.00 391.28 486.50 391.00 487.00 390.73 487.50 390.45 488.00 390.18 488.50 389.90 489.00 389.63 489.50 389.36 490.00 389.08 490.50 388.81 491.00 388.54 491.50 388.26 492.00 387.99 492.50 387.72 493.00 387.45 493.50 387.18 494.00 386.90 494.50 386.63 495.00 386.36 495.50 386.09 496.00 385.82 496.50 385.55 497.00 385.28 497.50 385.01 498.00 384.74 498.50 384.48 499.00 384.21 499.50 383.94 500.00 383.67 500.50 383.41 501.00 383.14 501.50 382.87 502.00 382.61 502.50 382.34 503.00 382.08 503.50 381.81 504.00 381.55 504.50 381.29 505.00 381.02 505.50 380.76 506.00 380.50 506.50 380.24 507.00 379.98 507.50 379.72 508.00 379.46 508.50 379.20 509.00 378.94 509.50 378.68 510.00 378.42 510.50 378.16 511.00 377.91 511.50 377.65 512.00 377.40 512.50 377.14 513.00 376.89 513.50 376.63 514.00 376.38 514.50 376.13 515.00 375.87 515.50 375.62 516.00 375.37 516.50 375.12 517.00 374.87 517.50 374.62 518.00 374.37 518.50 374.13 519.00 373.88 519.50 373.63 520.00 373.39 520.50 373.14 521.00 372.90 521.50 372.66 522.00 372.41 522.50 372.17 523.00 371.93 523.50 371.69 524.00 371.45 524.50 371.21 525.00 370.97 525.50 370.74 526.00 370.50 526.50 370.26 527.00 370.03 527.50 369.79 528.00 369.56 528.50 369.33 529.00 369.10 529.50 368.86 530.00 368.63 530.50 368.40 531.00 368.18 531.50 367.95 532.00 367.72 532.50 367.50 533.00 367.27 533.50 367.05 534.00 366.82 534.50 366.60 535.00 366.38 535.50 366.16 536.00 365.94 536.50 365.72 537.00 365.50 537.50 365.29 538.00 365.07 538.50 364.86 539.00 364.64 539.50 364.43 540.00 364.22 540.50 364.01 541.00 363.80 541.50 363.59 542.00 363.38 542.50 363.17 543.00 362.97 543.50 362.76 544.00 362.56 544.50 362.36 545.00 362.16 545.50 361.96 546.00 361.76 546.50 361.56 547.00 361.36 547.50 361.16 548.00 360.97 548.50 360.78 549.00 360.58 549.50 360.39 550.00 360.20 550.50 360.01 551.00 359.82 551.50 359.64 552.00 359.45 552.50 359.27 553.00 359.08 553.50 358.90 554.00 358.72 554.50 358.54 555.00 358.36 555.50 358.19 556.00 358.01 556.50 357.84 557.00 357.66 557.50 357.49 558.00 357.32 558.50 357.15 559.00 356.99 559.50 356.82 560.00 356.66 560.50 356.50 561.00 356.34 561.50 356.18 562.00 356.02 562.50 355.87 563.00 355.71 563.50 355.56 564.00 355.41 564.50 355.26 565.00 355.12 565.50 354.97 566.00 354.83 566.50 354.69 567.00 354.55 567.50 354.41 568.00 354.28 568.50 354.14 569.00 354.01 569.50 353.88 570.00 353.76 570.50 353.63 571.00 353.51 571.50 353.39 572.00 353.27 572.50 353.15 573.00 353.04 573.50 352.92 574.00 352.81 574.50 352.71 575.00 352.60 575.50 352.50 576.00 352.40 576.50 352.30 577.00 352.20 577.50 352.11 578.00 352.02 578.50 351.93 579.00 351.85 579.50 351.77 580.00 351.69 580.50 351.62 581.00 351.56 581.50 351.49 582.00 351.43 582.50 351.38 583.00 351.33 583.50 351.28 584.00 351.24 584.50 351.21 585.00 351.18 585.50 351.16 586.00 351.14 586.50 351.12 587.00 351.12 587.50 351.12 588.00 351.12 588.50 351.14 589.00 351.16 589.50 351.18 590.00 351.21 590.50 351.25 591.00 351.30 591.50 351.36 592.00 351.42 592.50 351.49 593.00 351.57 593.50 351.66 594.00 351.76 594.50 351.87 595.00 351.99 595.50 352.12 596.00 352.27 596.50 352.42 597.00 352.59 597.50 352.77 598.00 352.97 598.50 353.18 599.00 353.40 599.50 353.64 600.00 353.89 600.50 354.16 601.00 354.45 601.50 354.75 602.00 355.07 602.50 355.41 603.00 355.76 603.50 356.14 604.00 356.53 604.50 356.94 605.00 357.38 605.50 357.83 606.00 358.30 606.50 358.79 607.00 359.31 607.50 359.85 608.00 360.41 608.50 360.99 609.00 361.60 609.50 362.23 610.00 362.88 610.50 363.56 611.00 364.25 611.50 364.97 612.00 365.70 612.50 366.45 613.00 367.22 613.50 368.01 614.00 368.81 614.50 369.63 615.00 370.46 615.50 371.30 616.00 372.16 616.50 373.03 617.00 373.91 617.50 374.80 618.00 375.70 618.50 376.61 619.00 377.52 619.50 378.45 620.00 379.38 620.50 380.31 621.00 381.25 621.50 382.19 622.00 383.14 622.50 384.08 623.00 385.03 623.50 385.98 624.00 386.93 624.50 387.87 625.00 388.82 625.50 389.76 626.00 390.70 626.50 391.63 627.00 392.56 627.50 393.48 628.00 394.40 628.50 395.30 629.00 396.20 629.50 397.08 630.00 397.95 630.50 398.80 631.00 399.63 631.50 400.44 632.00 401.22 632.50 401.99 633.00 402.72 633.50 403.43 634.00 404.10 634.50 404.75 635.00 405.35 635.50 405.93 636.00 406.46 636.50 406.95 637.00 407.40 637.50 407.81 638.00 408.17 638.50 408.48 639.00 408.74 639.50 408.95 640.00 409.12 640.50 409.24 641.00 409.31 641.50 409.34 642.00 409.33 642.50 409.28 643.00 409.18 643.50 409.05 644.00 408.88 644.50 408.68 645.00 408.44 645.50 408.17 646.00 407.87 646.50 407.53 647.00 407.17 647.50 406.78 648.00 406.37 648.50 405.92 649.00 405.46 649.50 404.97 650.00 404.47 650.50 403.94 651.00 403.39 651.50 402.83 652.00 402.25 652.50 401.66 653.00 401.05 653.50 400.43 654.00 399.81 654.50 399.17 655.00 398.53 655.50 397.88 656.00 397.22 656.50 396.56 657.00 395.90 657.50 395.23 658.00 394.57 658.50 393.90 659.00 393.23 659.50 392.56 660.00 391.89 660.50 391.22 661.00 390.55 661.50 389.88 662.00 389.20 662.50 388.53 663.00 387.86 663.50 387.19 664.00 386.52 664.50 385.85 665.00 385.18 665.50 384.52 666.00 383.85 666.50 383.19 667.00 382.53 667.50 381.87 668.00 381.21 668.50 380.56 669.00 379.91 669.50 379.27 670.00 378.62 670.50 377.99 671.00 377.35 671.50 376.72 672.00 376.10 672.50 375.47 673.00 374.86 673.50 374.25 674.00 373.64 674.50 373.04" fill="none" stroke="#3c3cff" stroke-width="1.25" stroke-linejoin="round" clip-path="url(#cf)"/><path d="M399.00 376.62 399.50 376.26 400.00 375.90 400.50 375.55 401.00 375.20 401.50 374.86 402.00 374.51 402.50 374.17 403.00 373.83 403.50 373.50 404.00 373.16 404.50 372.83 405.00 372.51 405.50 372.18 406.00 371.86 406.50 371.54 407.00 371.22 407.50 370.91 408.00 370.60 408.50 370.29 409.00 369.98 409.50 369.68 410.00 369.38 410.50 369.08 411.00 368.78 411.50 368.49 412.00 368.20 412.50 367.91 413.00 367.62 413.50 367.34 414.00 367.06 414.50 366.78 415.00 366.50 415.50 366.23 416.00 365.96 416.50 365.69 417.00 365.42 417.50 365.15 418.00 364.89 418.50 364.63 419.00 364.37 419.50 364.12 420.00 363.86 420.50 363.61 421.00 363.36 421.50 363.12 422.00 362.87 422.50 362.63 423.00 362.39 423.50 362.15 424.00 361.92 424.50 361.68 425.00 361.45 425.50 361.22 426.00 360.99 426.50 360.77 427.00 360.54 427.50 360.32 428.00 360.10 428.50 359.88 429.00 359.67 429.50 359.46 430.00 359.24 430.50 359.03 431.00 358.83 431.50 358.62 432.00 358.42 432.50 358.21 433.00 358.01 433.50 357.82 434.00 357.62 434.50 357.42 435.00 357.23 435.50 357.04 436.00 356.85 436.50 356.66 437.00 356.48 437.50 356.29 438.00 356.11 438.50 355.93 439.00 355.75 439.50 355.57 440.00 355.40 440.50 355.22 441.00 355.05 441.50 354.88 442.00 354.71 442.50 354.54 443.00 354.38 443.50 354.21 444.00 354.05 444.50 353.89 445.00 353.73 445.50 353.57 446.00 353.41 446.50 353.25 447.00 353.10 447.50 352.95 448.00 352.80 448.50 352.65 449.00 352.50 449.50 352.35 450.00 352.20 450.50 352.06 451.00 351.92 451.50 351.77 452.00 351.63 452.50 351.49 453.00 351.35 453.50 351.22 454.00 351.08 454.50 350.95 455.00 350.81 455.50 350.68 456.00 350.55 456.50 350.42 457.00 350.29 457.50 350.16 458.00 350.04 458.50 349.91 459.00 349.79 459.50 349.66 460.00 349.54 460.50 349.42 461.00 349.31 461.50 349.19 462.00 349.08 462.50 348.97 463.00 348.86 463.50 348.75 464.00 348.65 464.50 348.55 465.00 348.45 465.50 348.36 466.00 348.27 466.50 348.18 467.00 348.10 467.50 348.02 468.00 347.95 468.50 347.87 469.00 347.81 469.50 347.75 470.00 347.69 470.50 347.64 471.00 347.59 471.50 347.55 472.00 347.51 472.50 347.48 473.00 347.46 473.50 347.44 474.00 347.42 474.50 347.42 475.00 347.42 475.50 347.42 476.00 347.43 476.50 347.45 477.00 347.48 477.50 347.51 478.00 347.55 478.50 347.60 479.00 347.65 479.50 347.72 480.00 347.79 480.50 347.87 481.00 347.95 481.50 348.05 482.00 348.15 482.50 348.26 483.00 348.39 483.50 348.52 484.00 348.65 484.50 348.80 485.00 348.96 485.50 349.13 486.00 349.31 486.50 349.49 487.00 349.69 487.50 349.90 488.00 350.12 488.50 350.35 489.00 350.58 489.50 350.83 490.00 351.10 490.50 351.37 491.00 351.65 491.50 351.95 492.00 352.25 492.50 352.57 493.00 352.90 493.50 353.25 494.00 353.60 494.50 353.97 495.00 354.35 495.50 354.74 496.00 355.15 496.50 355.57 497.00 356.00 497.50 356.44 498.00 356.90 498.50 357.38 499.00 357.86 499.50 358.36 500.00 358.88 500.50 359.41 501.00 359.95 501.50 360.51 502.00 361.08 502.50 361.66 503.00 362.25 503.50 362.86 504.00 363.47 504.50 364.09 505.00 364.72 505.50 365.36 506.00 366.00 506.50 366.66 507.00 367.31 507.50 367.99 508.00 368.68 508.50 369.41 509.00 370.17 509.50 370.99 510.00 371.86 510.50 372.78 511.00 373.74 511.50 374.75 512.00 375.78 512.50 376.85 513.00 377.93 513.50 379.02 514.00 380.13 514.50 381.24 515.00 382.37 515.50 383.51 516.00 384.66 516.50 385.82 517.00 386.99 517.50 388.16 518.00 389.33 518.50 390.51 519.00 391.69 519.50 392.87 520.00 394.06 520.50 395.24 521.00 396.42 521.50 397.60 522.00 398.78 522.50 399.95 523.00 401.11 523.50 402.27 524.00 403.42 524.50 404.57 525.00 405.70 525.50 406.82 526.00 407.92 526.50 409.01 527.00 410.09 527.50 411.14 528.00 412.16 528.50 413.17 529.00 414.14 529.50 415.09 530.00 416.00 530.50 416.89 531.00 417.73 531.50 418.54 532.00 419.30 532.50 420.03 533.00 420.71 533.50 421.34 534.00 421.92 534.50 422.45 535.00 422.93 535.50 423.35 536.00 423.72 536.50 424.02 537.00 424.26 537.50 424.44 538.00 424.55 538.50 424.59 539.00 424.56 539.50 424.47 540.00 424.31 540.50 424.09 541.00 423.81 541.50 423.48 542.00 423.10 542.50 422.67 543.00 422.20 543.50 421.69 544.00 421.14 544.50 420.55 545.00 419.93 545.50 419.28 546.00 418.61 546.50 417.90 547.00 417.18 547.50 416.43 548.00 415.66 548.50 414.88 549.00 414.08 549.50 413.27 550.00 412.44 550.50 411.61 551.00 410.78 551.50 409.94 552.00 409.10 552.50 408.26 553.00 407.42 553.50 406.59 554.00 405.76 554.50 404.95 555.00 404.14 555.50 403.36 556.00 402.58 556.50 401.83 557.00 401.09 557.50 400.36 558.00 399.65 558.50 398.95 559.00 398.27 559.50 397.60 560.00 396.93 560.50 396.28 561.00 395.64 561.50 395.00 562.00 394.37 562.50 393.75 563.00 393.14 563.50 392.53 564.00 391.92 564.50 391.32 565.00 390.72 565.50 390.12 566.00 389.53 566.50 388.95 567.00 388.37 567.50 387.79 568.00 387.21 568.50 386.65 569.00 386.08 569.50 385.52 570.00 384.97 570.50 384.42 571.00 383.88 571.50 383.34 572.00 382.80 572.50 382.27 573.00 381.75 573.50 381.23 574.00 380.72 574.50 380.21 575.00 379.71 575.50 379.22 576.00 378.73 576.50 378.25 577.00 377.77 577.50 377.30 578.00 376.83 578.50 376.37 579.00 375.92 579.50 375.48 580.00 375.04 580.50 374.60 581.00 374.18 581.50 373.76 582.00 373.35 582.50 372.94 583.00 372.54 583.50 372.15 584.00 371.77 584.50 371.39 585.00 371.01 585.50 370.65 586.00 370.28 586.50 369.93 587.00 369.58 587.50 369.24 588.00 368.90 588.50 368.57 589.00 368.25 589.50 367.93 590.00 367.62 590.50 367.31 591.00 367.01 591.50 366.71 592.00 366.42 592.50 366.14 593.00 365.86 593.50 365.58 594.00 365.31 594.50 365.05 595.00 364.79 595.50 364.54 596.00 364.29 596.50 364.05 597.00 363.81 597.50 363.57 598.00 363.34 598.50 363.12 599.00 362.90 599.50 362.69 600.00 362.48 600.50 362.27 601.00 362.07 601.50 361.87 602.00 361.68 602.50 361.49 603.00 361.31 603.50 361.13 604.00 360.95 604.50 360.78 605.00 360.61 605.50 360.45 606.00 360.29 606.50 360.14 607.00 359.98 607.50 359.83 608.00 359.69 608.50 359.55 609.00 359.41 609.50 359.28 610.00 359.15 610.50 359.02 611.00 358.89 611.50 358.77 612.00 358.66 612.50 358.54 613.00 358.43 613.50 358.32 614.00 358.21 614.50 358.11 615.00 358.01 615.50 357.91 616.00 357.82 616.50 357.73 617.00 357.64 617.50 357.55 618.00 357.47 618.50 357.39 619.00 357.31 619.50 357.23 620.00 357.15 620.50 357.08 621.00 357.01 621.50 356.94 622.00 356.88 622.50 356.81 623.00 356.75 623.50 356.69 624.00 356.64 624.50 356.58 625.00 356.53 625.50 356.48 626.00 356.43 626.50 356.38 627.00 356.34 627.50 356.30 628.00 356.26 628.50 356.22 629.00 356.19 629.50 356.15 630.00 356.12 630.50 356.09 631.00 356.07 631.50 356.04 632.00 356.02 632.50 356.00 633.00 355.98 633.50 355.96 634.00 355.95 634.50 355.93 635.00 355.92 635.50 355.91 636.00 355.91 636.50 355.90 637.00 355.90 637.50 355.90 638.00 355.90 638.50 355.90 639.00 355.90 639.50 355.91 640.00 355.92 640.50 355.93 641.00 355.94 641.50 355.95 642.00 355.97 642.50 355.99 643.00 356.01 643.50 356.03 644.00 356.05 644.50 356.07 645.00 356.10 645.50 356.13 646.00 356.16 646.50 356.19 647.00 356.22 647.50 356.26 648.00 356.29 648.50 356.33 649.00 356.37 649.50 356.41 650.00 356.46 650.50 356.50 651.00 356.55 651.50 356.60 652.00 356.64 652.50 356.70 653.00 356.75 653.50 356.80 654.00 356.86 654.50 356.92 655.00 356.97 655.50 357.04 656.00 357.10 656.50 357.16 657.00 357.23 657.50 357.29 658.00 357.36 658.50 357.43 659.00 357.50 659.50 357.57 660.00 357.64 660.50 357.72 661.00 357.80 661.50 357.87 662.00 357.95 662.50 358.03 663.00 358.11 663.50 358.20 664.00 358.28 664.50 358.37 665.00 358.46 665.50 358.54 666.00 358.63 666.50 358.72 667.00 358.82 667.50 358.91 668.00 359.00 668.50 359.10 669.00 359.20 669.50 359.30 670.00 359.40 670.50 359.50 671.00 359.60 671.50 359.70 672.00 359.81 672.50 359.91 673.00 360.02 673.50 360.12 674.00 360.23 674.50 360.34" fill="none" stroke="#3ddc3d" stroke-width="1.25" stroke-linejoin="round" clip-path="url(#cf)"/><path d="M399.00 352.17 399.50 352.25 400.00 352.32 400.50 352.40 401.00 352.49 401.50 352.59 402.00 352.70 402.50 352.81 403.00 352.94 403.50 353.07 404.00 353.22 404.50 353.37 405.00 353.54 405.50 353.72 406.00 353.92 406.50 354.13 407.00 354.35 407.50 354.59 408.00 354.85 408.50 355.12 409.00 355.40 409.50 355.71 410.00 356.03 410.50 356.38 411.00 356.74 411.50 357.12 412.00 357.53 412.50 357.95 413.00 358.40 413.50 358.87 414.00 359.36 414.50 359.88 415.00 360.42 415.50 360.99 416.00 361.58 416.50 362.20 417.00 362.85 417.50 363.52 418.00 364.22 418.50 364.95 419.00 365.70 419.50 366.47 420.00 367.27 420.50 368.10 421.00 368.95 421.50 369.82 422.00 370.71 422.50 371.63 423.00 372.57 423.50 373.52 424.00 374.50 424.50 375.50 425.00 376.52 425.50 377.56 426.00 378.61 426.50 379.69 427.00 380.78 427.50 381.89 428.00 383.01 428.50 384.15 429.00 385.31 429.50 386.48 430.00 387.66 430.50 388.85 431.00 390.05 431.50 391.25 432.00 392.45 432.50 393.65 433.00 394.85 433.50 396.05 434.00 397.23 434.50 398.41 435.00 399.58 435.50 400.74 436.00 401.87 436.50 403.00 437.00 404.10 437.50 405.17 438.00 406.23 438.50 407.25 439.00 408.25 439.50 409.22 440.00 410.15 440.50 411.04 441.00 411.90 441.50 412.72 442.00 413.50 442.50 414.23 443.00 414.91 443.50 415.54 444.00 416.13 444.50 416.66 445.00 417.13 445.50 417.55 446.00 417.92 446.50 418.24 447.00 418.51 447.50 418.73 448.00 418.91 448.50 419.03 449.00 419.11 449.50 419.15 450.00 419.14 450.50 419.10 451.00 419.00 451.50 418.87 452.00 418.70 452.50 418.50 453.00 418.25 453.50 417.97 454.00 417.66 454.50 417.31 455.00 416.92 455.50 416.51 456.00 416.06 456.50 415.59 457.00 415.09 457.50 414.56 458.00 414.00 458.50 413.42 459.00 412.83 459.50 412.21 460.00 411.58 460.50 410.94 461.00 410.28 461.50 409.62 462.00 408.94 462.50 408.25 463.00 407.55 463.50 406.84 464.00 406.12 464.50 405.38 465.00 404.64 465.50 403.89 466.00 403.13 466.50 402.36 467.00 401.59 467.50 400.81 468.00 400.03 468.50 399.24 469.00 398.45 469.50 397.65 470.00 396.86 470.50 396.06 471.00 395.27 471.50 394.47 472.00 393.68 472.50 392.89 473.00 392.11 473.50 391.33 474.00 390.56 474.50 389.79 475.00 389.03 475.50 388.28 476.00 387.54 476.50 386.81 477.00 386.09 477.50 385.39 478.00 384.69 478.50 384.01 479.00 383.34 479.50 382.69 480.00 382.05 480.50 381.41 481.00 380.79 481.50 380.19 482.00 379.59 482.50 379.00 483.00 378.43 483.50 377.86 484.00 377.31 484.50 376.77 485.00 376.23 485.50 375.71 486.00 375.20 486.50 374.69 487.00 374.20 487.50 373.71 488.00 373.24 488.50 372.77 489.00 372.31 489.50 371.86 490.00 371.42 490.50 370.98 491.00 370.55 491.50 370.14 492.00 369.72 492.50 369.32 493.00 368.92 493.50 368.53 494.00 368.14 494.50 367.77 495.00 367.39 495.50 367.03 496.00 366.67 496.50 366.31 497.00 365.96 497.50 365.62 498.00 365.28 498.50 364.94 499.00 364.62 499.50 364.29 500.00 363.97 500.50 363.66 501.00 363.35 501.50 363.05 502.00 362.75 502.50 362.46 503.00 362.17 503.50 361.89 504.00 361.61 504.50 361.34 505.00 361.07 505.50 360.80 506.00 360.55 506.50 360.29 507.00 360.04 507.50 359.79 508.00 359.55 508.50 359.31 509.00 359.08 509.50 358.85 510.00 358.63 510.50 358.41 511.00 358.19 511.50 357.98 512.00 357.77 512.50 357.57 513.00 357.37 513.50 357.17 514.00 356.98 514.50 356.79 515.00 356.60 515.50 356.42 516.00 356.24 516.50 356.07 517.00 355.90 517.50 355.73 518.00 355.57 518.50 355.41 519.00 355.25 519.50 355.10 520.00 354.95 520.50 354.80 521.00 354.66 521.50 354.52 522.00 354.38 522.50 354.24 523.00 354.11 523.50 353.98 524.00 353.86 524.50 353.73 525.00 353.61 525.50 353.50 526.00 353.38 526.50 353.27 527.00 353.16 527.50 353.05 528.00 352.95 528.50 352.85 529.00 352.75 529.50 352.65 530.00 352.55 530.50 352.46 531.00 352.37 531.50 352.28 532.00 352.20 532.50 352.11 533.00 352.03 533.50 351.95 534.00 351.87 534.50 351.80 535.00 351.72 535.50 351.65 536.00 351.58 536.50 351.51 537.00 351.44 537.50 351.37 538.00 351.31 538.50 351.25 539.00 351.19 539.50 351.13 540.00 351.07 540.50 351.01 541.00 350.95 541.50 350.90 542.00 350.84 542.50 350.79 543.00 350.74 543.50 350.69 544.00 350.64 544.50 350.59 545.00 350.54 545.50 350.50 546.00 350.45 546.50 350.40 547.00 350.36 547.50 350.31 548.00 350.27 548.50 350.23 549.00 350.19 549.50 350.14 550.00 350.10 550.50 350.06 551.00 350.02 551.50 349.98 552.00 349.94 552.50 349.90 553.00 349.86 553.50 349.82 554.00 349.78 554.50 349.74 555.00 349.70 555.50 349.67 556.00 349.63 556.50 349.59 557.00 349.56 557.50 349.52 558.00 349.49 558.50 349.45 559.00 349.42 559.50 349.39 560.00 349.35 560.50 349.32 561.00 349.29 561.50 349.26 562.00 349.23 562.50 349.20 563.00 349.17 563.50 349.15 564.00 349.12 564.50 349.09 565.00 349.07 565.50 349.04 566.00 349.02 566.50 348.99 567.00 348.97 567.50 348.95 568.00 348.93 568.50 348.91 569.00 348.89 569.50 348.87 570.00 348.86 570.50 348.84 571.00 348.83 571.50 348.81 572.00 348.80 572.50 348.79 573.00 348.78 573.50 348.77 574.00 348.76 574.50 348.75 575.00 348.74 575.50 348.74 576.00 348.73 576.50 348.73 577.00 348.73 577.50 348.72 578.00 348.72 578.50 348.73 579.00 348.73 579.50 348.73 580.00 348.74 580.50 348.74 581.00 348.75 581.50 348.76 582.00 348.77 582.50 348.78 583.00 348.79 583.50 348.81 584.00 348.82 584.50 348.84 585.00 348.86 585.50 348.88 586.00 348.90 586.50 348.92 587.00 348.95 587.50 348.97 588.00 349.00 588.50 349.03 589.00 349.06 589.50 349.09 590.00 349.12 590.50 349.16 591.00 349.19 591.50 349.23 592.00 349.27 592.50 349.31 593.00 349.36 593.50 349.40 594.00 349.45 594.50 349.49 595.00 349.54 595.50 349.59 596.00 349.64 596.50 349.70 597.00 349.75 597.50 349.81 598.00 349.87 598.50 349.93 599.00 349.99 599.50 350.05 600.00 350.11 600.50 350.17 601.00 350.24 601.50 350.31 602.00 350.37 602.50 350.44 603.00 350.51 603.50 350.58 604.00 350.66 604.50 350.73 605.00 350.80 605.50 350.88 606.00 350.95 606.50 351.03 607.00 351.11 607.50 351.19 608.00 351.27 608.50 351.35 609.00 351.43 609.50 351.51 610.00 351.59 610.50 351.67 611.00 351.76 611.50 351.84 612.00 351.93 612.50 352.02 613.00 352.10 613.50 352.19 614.00 352.28 614.50 352.36 615.00 352.45 615.50 352.54 616.00 352.63 616.50 352.72 617.00 352.81 617.50 352.90 618.00 353.00 618.50 353.09 619.00 353.18 619.50 353.27 620.00 353.36 620.50 353.46 621.00 353.55 621.50 353.64 622.00 353.74 622.50 353.83 623.00 353.92 623.50 354.02 624.00 354.11 624.50 354.20 625.00 354.30 625.50 354.39 626.00 354.48 626.50 354.58 627.00 354.67 627.50 354.76 628.00 354.86 628.50 354.95 629.00 355.04 629.50 355.13 630.00 355.22 630.50 355.32 631.00 355.41 631.50 355.50 632.00 355.59 632.50 355.68 633.00 355.77 633.50 355.86 634.00 355.95 634.50 356.04 635.00 356.13 635.50 356.21 636.00 356.30 636.50 356.39 637.00 356.47 637.50 356.56 638.00 356.64 638.50 356.73 639.00 356.81 639.50 356.89 640.00 356.98 640.50 357.06 641.00 357.14 641.50 357.23 642.00 357.31 642.50 357.39 643.00 357.47 643.50 357.55 644.00 357.63 644.50 357.72 645.00 357.80 645.50 357.88 646.00 357.96 646.50 358.04 647.00 358.12 647.50 358.20 648.00 358.28 648.50 358.37 649.00 358.45 649.50 358.53 650.00 358.61 650.50 358.70 651.00 358.78 651.50 358.86 652.00 358.95 652.50 359.03 653.00 359.12 653.50 359.20 654.00 359.29 654.50 359.38 655.00 359.46 655.50 359.55 656.00 359.64 656.50 359.73 657.00 359.82 657.50 359.91 658.00 360.00 658.50 360.09 659.00 360.19 659.50 360.28 660.00 360.37 660.50 360.47 661.00 360.57 661.50 360.67 662.00 360.76 662.50 360.87 663.00 360.97 663.50 361.07 664.00 361.17 664.50 361.28 665.00 361.38 665.50 361.49 666.00 361.60 666.50 361.71 667.00 361.82 667.50 361.93 668.00 362.05 668.50 362.16 669.00 362.28 669.50 362.40 670.00 362.52 670.50 362.64 671.00 362.77 671.50 362.89 672.00 363.02 672.50 363.15 673.00 363.28 673.50 363.41 674.00 363.55 674.50 363.68" fill="none" stroke="#ff4646" stroke-width="1.25" stroke-linejoin="round" clip-path="url(#cf)"/><line x1="454.44" y1="432.10" x2="454.44" y2="429.10" stroke="#3a3a3a" stroke-width="0.8"/><line x1="454.44" y1="324.00" x2="454.44" y2="327.00" stroke="#3a3a3a" stroke-width="0.8"/><line x1="564.32" y1="432.10" x2="564.32" y2="429.10" stroke="#3a3a3a" stroke-width="0.8"/><line x1="564.32" y1="324.00" x2="564.32" y2="327.00" stroke="#3a3a3a" stroke-width="0.8"/><line x1="674.20" y1="432.10" x2="674.20" y2="429.10" stroke="#3a3a3a" stroke-width="0.8"/><line x1="674.20" y1="324.00" x2="674.20" y2="327.00" stroke="#3a3a3a" stroke-width="0.8"/><line x1="509.38" y1="432.10" x2="509.38" y2="430.00" stroke="#3a3a3a" stroke-width="0.8"/><line x1="509.38" y1="324.00" x2="509.38" y2="326.10" stroke="#3a3a3a" stroke-width="0.8"/><line x1="619.26" y1="432.10" x2="619.26" y2="430.00" stroke="#3a3a3a" stroke-width="0.8"/><line x1="619.26" y1="324.00" x2="619.26" y2="326.10" stroke="#3a3a3a" stroke-width="0.8"/><line x1="399.50" y1="432.10" x2="402.50" y2="432.10" stroke="#3a3a3a" stroke-width="0.8"/><line x1="674.20" y1="432.10" x2="671.20" y2="432.10" stroke="#3a3a3a" stroke-width="0.8"/><line x1="399.50" y1="408.08" x2="402.50" y2="408.08" stroke="#3a3a3a" stroke-width="0.8"/><line x1="674.20" y1="408.08" x2="671.20" y2="408.08" stroke="#3a3a3a" stroke-width="0.8"/><line x1="399.50" y1="384.06" x2="402.50" y2="384.06" stroke="#3a3a3a" stroke-width="0.8"/><line x1="674.20" y1="384.06" x2="671.20" y2="384.06" stroke="#3a3a3a" stroke-width="0.8"/><line x1="399.50" y1="360.03" x2="402.50" y2="360.03" stroke="#3a3a3a" stroke-width="0.8"/><line x1="674.20" y1="360.03" x2="671.20" y2="360.03" stroke="#3a3a3a" stroke-width="0.8"/><line x1="399.50" y1="336.01" x2="402.50" y2="336.01" stroke="#3a3a3a" stroke-width="0.8"/><line x1="674.20" y1="336.01" x2="671.20" y2="336.01" stroke="#3a3a3a" stroke-width="0.8"/><line x1="399.50" y1="420.09" x2="401.60" y2="420.09" stroke="#3a3a3a" stroke-width="0.8"/><line x1="674.20" y1="420.09" x2="672.10" y2="420.09" stroke="#3a3a3a" stroke-width="0.8"/><line x1="399.50" y1="396.07" x2="401.60" y2="396.07" stroke="#3a3a3a" stroke-width="0.8"/><line x1="674.20" y1="396.07" x2="672.10" y2="396.07" stroke="#3a3a3a" stroke-width="0.8"/><line x1="399.50" y1="372.04" x2="401.60" y2="372.04" stroke="#3a3a3a" stroke-width="0.8"/><line x1="674.20" y1="372.04" x2="672.10" y2="372.04" stroke="#3a3a3a" stroke-width="0.8"/><line x1="399.50" y1="348.02" x2="401.60" y2="348.02" stroke="#3a3a3a" stroke-width="0.8"/><line x1="674.20" y1="348.02" x2="672.10" y2="348.02" stroke="#3a3a3a" stroke-width="0.8"/><rect x="398.85" y="323.10" width="276.25" height="1.60" fill="#aaa"/><rect x="398.85" y="431.60" width="276.25" height="1.20" fill="#555"/><rect x="398.85" y="323.10" width="1.30" height="109.70" fill="#555"/><rect x="673.90" y="323.10" width="1.20" height="109.70" fill="#555"/><text transform="translate(454.44 442.70) scale(0.947 1)" font-size="9.6" text-anchor="middle" fill="#222">700</text><text transform="translate(564.32 442.70) scale(0.947 1)" font-size="9.6" text-anchor="middle" fill="#222">800</text><text transform="translate(674.20 442.70) scale(0.947 1)" font-size="9.6" text-anchor="middle" fill="#222">900</text><text transform="translate(396.20 435.04) scale(0.947 1)" font-size="9.6" text-anchor="end" fill="#222">2</text><text transform="translate(396.20 411.01) scale(0.947 1)" font-size="9.6" text-anchor="end" fill="#222">3</text><text transform="translate(396.20 386.99) scale(0.947 1)" font-size="9.6" text-anchor="end" fill="#222">4</text><text transform="translate(396.20 362.97) scale(0.947 1)" font-size="9.6" text-anchor="end" fill="#222">5</text><text transform="translate(396.20 338.95) scale(0.947 1)" font-size="9.6" text-anchor="end" fill="#222">6</text><text transform="translate(494.80 452.90) scale(0.94 1)" font-size="9.9" fill="#222">Wavelength (nm)</text><text transform="translate(375.60 421.90) rotate(-90)" font-size="9" fill="#222">Normalized Scattering</text><text x="351.90" y="324.60" font-size="15" font-weight="bold" fill="#111">(f)</text><line x1="618.90" y1="329.70" x2="635.30" y2="329.70" stroke="#3c3cff" stroke-width="1.2"/><text x="637.20" y="332.20" font-size="7" fill="#222" stroke="#222" stroke-width="0.2">h = 20 nm</text><line x1="618.90" y1="338.90" x2="635.30" y2="338.90" stroke="#3ddc3d" stroke-width="1.2"/><text x="637.20" y="341.40" font-size="7" fill="#222" stroke="#222" stroke-width="0.2">h = 40 nm</text><line x1="618.90" y1="347.50" x2="635.30" y2="347.50" stroke="#ff4646" stroke-width="1.2"/><text x="637.20" y="350.00" font-size="7" fill="#222" stroke="#222" stroke-width="0.2">h = 60 nm</text></g>
</svg></body></html>
